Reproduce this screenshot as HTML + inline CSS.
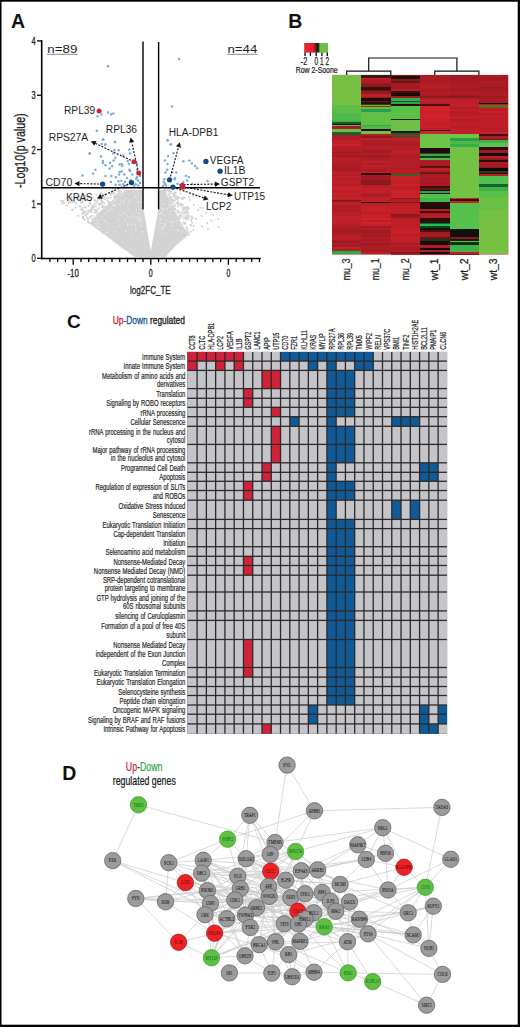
<!DOCTYPE html>
<html><head><meta charset="utf-8"><title>Figure</title>
<style>html,body{margin:0;padding:0;background:#fff;width:520px;height:1027px;overflow:hidden}</style></head>
<body>
<svg width="520" height="1027" viewBox="0 0 520 1027" style="display:block">
<rect x="0.00" y="0.00" width="520.00" height="1027.00" fill="#ffffff" />
<text x="11.00" y="27.80" font-size="19.5" font-weight="bold" fill="#111" text-anchor="start" font-family='"Liberation Sans", sans-serif' >A</text>
<polygon points="143,190 126,190 116,197 107,205 96,215 89.5,223.5 100,231.5 110,238.8 120,246.5 128,252 135,257.2 166,257.2 168,254 176.6,245 188.2,235 179.5,220 169.4,200 164,190 158.6,190 158.4,209 150.8,251 143.4,209" fill="#d3d3d3"/>
<rect x="113.94" y="194.85" width="1.80" height="1.80" fill="#d2d2d2" />
<rect x="95.87" y="201.87" width="1.80" height="1.80" fill="#d2d2d2" />
<rect x="86.52" y="213.03" width="1.80" height="1.80" fill="#d2d2d2" />
<rect x="106.18" y="197.19" width="1.80" height="1.80" fill="#d2d2d2" />
<rect x="91.52" y="215.04" width="1.80" height="1.80" fill="#d2d2d2" />
<rect x="84.55" y="197.85" width="1.80" height="1.80" fill="#d2d2d2" />
<rect x="104.33" y="193.12" width="1.80" height="1.80" fill="#d2d2d2" />
<rect x="70.53" y="196.84" width="1.80" height="1.80" fill="#d2d2d2" />
<rect x="74.63" y="206.61" width="1.80" height="1.80" fill="#d2d2d2" />
<rect x="99.95" y="192.51" width="1.80" height="1.80" fill="#d2d2d2" />
<rect x="86.41" y="212.15" width="1.80" height="1.80" fill="#d2d2d2" />
<rect x="100.08" y="203.05" width="1.80" height="1.80" fill="#d2d2d2" />
<rect x="79.74" y="205.68" width="1.80" height="1.80" fill="#d2d2d2" />
<rect x="87.07" y="218.25" width="1.80" height="1.80" fill="#d2d2d2" />
<rect x="85.86" y="216.45" width="1.80" height="1.80" fill="#d2d2d2" />
<rect x="104.19" y="194.26" width="1.80" height="1.80" fill="#d2d2d2" />
<rect x="76.31" y="197.15" width="1.80" height="1.80" fill="#d2d2d2" />
<rect x="75.15" y="202.52" width="1.80" height="1.80" fill="#d2d2d2" />
<rect x="110.55" y="192.59" width="1.80" height="1.80" fill="#d2d2d2" />
<rect x="108.32" y="201.09" width="1.80" height="1.80" fill="#d2d2d2" />
<rect x="100.62" y="198.87" width="1.80" height="1.80" fill="#d2d2d2" />
<rect x="90.46" y="207.97" width="1.80" height="1.80" fill="#d2d2d2" />
<rect x="85.06" y="210.74" width="1.80" height="1.80" fill="#d2d2d2" />
<rect x="84.69" y="214.36" width="1.80" height="1.80" fill="#d2d2d2" />
<rect x="101.54" y="204.39" width="1.80" height="1.80" fill="#d2d2d2" />
<rect x="81.65" y="201.94" width="1.80" height="1.80" fill="#d2d2d2" />
<rect x="81.96" y="200.60" width="1.80" height="1.80" fill="#d2d2d2" />
<rect x="77.31" y="195.76" width="1.80" height="1.80" fill="#d2d2d2" />
<rect x="71.95" y="208.78" width="1.80" height="1.80" fill="#d2d2d2" />
<rect x="83.48" y="197.99" width="1.80" height="1.80" fill="#d2d2d2" />
<rect x="100.95" y="201.23" width="1.80" height="1.80" fill="#d2d2d2" />
<rect x="87.23" y="209.43" width="1.80" height="1.80" fill="#d2d2d2" />
<rect x="100.08" y="199.32" width="1.80" height="1.80" fill="#d2d2d2" />
<rect x="77.31" y="214.83" width="1.80" height="1.80" fill="#d2d2d2" />
<rect x="87.39" y="220.32" width="1.80" height="1.80" fill="#d2d2d2" />
<rect x="77.01" y="195.68" width="1.80" height="1.80" fill="#d2d2d2" />
<rect x="104.22" y="198.45" width="1.80" height="1.80" fill="#d2d2d2" />
<rect x="89.16" y="202.72" width="1.80" height="1.80" fill="#d2d2d2" />
<rect x="91.67" y="196.09" width="1.80" height="1.80" fill="#d2d2d2" />
<rect x="73.01" y="200.89" width="1.80" height="1.80" fill="#d2d2d2" />
<rect x="109.78" y="196.61" width="1.80" height="1.80" fill="#d2d2d2" />
<rect x="94.76" y="209.36" width="1.80" height="1.80" fill="#d2d2d2" />
<rect x="112.40" y="191.74" width="1.80" height="1.80" fill="#d2d2d2" />
<rect x="80.41" y="208.96" width="1.80" height="1.80" fill="#d2d2d2" />
<rect x="72.65" y="200.58" width="1.80" height="1.80" fill="#d2d2d2" />
<rect x="101.58" y="205.84" width="1.80" height="1.80" fill="#d2d2d2" />
<rect x="61.14" y="202.56" width="1.80" height="1.80" fill="#d2d2d2" />
<rect x="103.11" y="206.23" width="1.80" height="1.80" fill="#d2d2d2" />
<rect x="78.50" y="199.02" width="1.80" height="1.80" fill="#d2d2d2" />
<rect x="118.37" y="190.01" width="1.80" height="1.80" fill="#d2d2d2" />
<rect x="102.42" y="201.46" width="1.80" height="1.80" fill="#d2d2d2" />
<rect x="95.28" y="194.34" width="1.80" height="1.80" fill="#d2d2d2" />
<rect x="95.12" y="205.46" width="1.80" height="1.80" fill="#d2d2d2" />
<rect x="74.08" y="197.13" width="1.80" height="1.80" fill="#d2d2d2" />
<rect x="90.72" y="211.47" width="1.80" height="1.80" fill="#d2d2d2" />
<rect x="98.06" y="207.37" width="1.80" height="1.80" fill="#d2d2d2" />
<rect x="89.93" y="209.82" width="1.80" height="1.80" fill="#d2d2d2" />
<rect x="70.64" y="198.80" width="1.80" height="1.80" fill="#d2d2d2" />
<rect x="103.23" y="196.42" width="1.80" height="1.80" fill="#d2d2d2" />
<rect x="87.60" y="196.13" width="1.80" height="1.80" fill="#d2d2d2" />
<rect x="88.81" y="215.67" width="1.80" height="1.80" fill="#d2d2d2" />
<rect x="81.78" y="198.87" width="1.80" height="1.80" fill="#d2d2d2" />
<rect x="62.78" y="201.94" width="1.80" height="1.80" fill="#d2d2d2" />
<rect x="82.41" y="209.16" width="1.80" height="1.80" fill="#d2d2d2" />
<rect x="98.17" y="203.35" width="1.80" height="1.80" fill="#d2d2d2" />
<rect x="103.60" y="202.61" width="1.80" height="1.80" fill="#d2d2d2" />
<rect x="71.28" y="200.89" width="1.80" height="1.80" fill="#d2d2d2" />
<rect x="113.57" y="195.08" width="1.80" height="1.80" fill="#d2d2d2" />
<rect x="115.04" y="195.36" width="1.80" height="1.80" fill="#d2d2d2" />
<rect x="112.11" y="190.52" width="1.80" height="1.80" fill="#d2d2d2" />
<rect x="111.86" y="192.52" width="1.80" height="1.80" fill="#d2d2d2" />
<rect x="92.60" y="206.40" width="1.80" height="1.80" fill="#d2d2d2" />
<rect x="69.99" y="201.59" width="1.80" height="1.80" fill="#d2d2d2" />
<rect x="78.57" y="195.78" width="1.80" height="1.80" fill="#d2d2d2" />
<rect x="94.39" y="199.87" width="1.80" height="1.80" fill="#d2d2d2" />
<rect x="105.18" y="193.33" width="1.80" height="1.80" fill="#d2d2d2" />
<rect x="84.56" y="194.57" width="1.80" height="1.80" fill="#d2d2d2" />
<rect x="119.62" y="192.74" width="1.80" height="1.80" fill="#d2d2d2" />
<rect x="67.44" y="202.03" width="1.80" height="1.80" fill="#d2d2d2" />
<rect x="110.03" y="193.96" width="1.80" height="1.80" fill="#d2d2d2" />
<rect x="99.50" y="202.67" width="1.80" height="1.80" fill="#d2d2d2" />
<rect x="98.17" y="203.75" width="1.80" height="1.80" fill="#d2d2d2" />
<rect x="83.46" y="205.67" width="1.80" height="1.80" fill="#d2d2d2" />
<rect x="62.26" y="200.11" width="1.80" height="1.80" fill="#d2d2d2" />
<rect x="98.99" y="194.27" width="1.80" height="1.80" fill="#d2d2d2" />
<rect x="107.81" y="202.26" width="1.80" height="1.80" fill="#d2d2d2" />
<rect x="82.47" y="216.05" width="1.80" height="1.80" fill="#d2d2d2" />
<rect x="97.01" y="197.74" width="1.80" height="1.80" fill="#d2d2d2" />
<rect x="83.69" y="196.98" width="1.80" height="1.80" fill="#d2d2d2" />
<rect x="81.38" y="198.62" width="1.80" height="1.80" fill="#d2d2d2" />
<rect x="80.74" y="207.75" width="1.80" height="1.80" fill="#d2d2d2" />
<rect x="98.57" y="198.12" width="1.80" height="1.80" fill="#d2d2d2" />
<rect x="93.91" y="202.94" width="1.80" height="1.80" fill="#d2d2d2" />
<rect x="106.74" y="200.10" width="1.80" height="1.80" fill="#d2d2d2" />
<rect x="89.20" y="209.55" width="1.80" height="1.80" fill="#d2d2d2" />
<rect x="93.72" y="209.62" width="1.80" height="1.80" fill="#d2d2d2" />
<rect x="116.71" y="193.67" width="1.80" height="1.80" fill="#d2d2d2" />
<rect x="88.78" y="200.16" width="1.80" height="1.80" fill="#d2d2d2" />
<rect x="101.98" y="197.20" width="1.80" height="1.80" fill="#d2d2d2" />
<rect x="68.46" y="201.38" width="1.80" height="1.80" fill="#d2d2d2" />
<rect x="113.07" y="196.66" width="1.80" height="1.80" fill="#d2d2d2" />
<rect x="82.20" y="211.30" width="1.80" height="1.80" fill="#d2d2d2" />
<rect x="93.89" y="199.05" width="1.80" height="1.80" fill="#d2d2d2" />
<rect x="100.83" y="199.93" width="1.80" height="1.80" fill="#d2d2d2" />
<rect x="87.24" y="205.24" width="1.80" height="1.80" fill="#d2d2d2" />
<rect x="116.54" y="194.99" width="1.80" height="1.80" fill="#d2d2d2" />
<rect x="86.00" y="195.93" width="1.80" height="1.80" fill="#d2d2d2" />
<rect x="100.80" y="194.33" width="1.80" height="1.80" fill="#d2d2d2" />
<rect x="82.28" y="216.74" width="1.80" height="1.80" fill="#d2d2d2" />
<rect x="113.87" y="192.40" width="1.80" height="1.80" fill="#d2d2d2" />
<rect x="67.94" y="199.80" width="1.80" height="1.80" fill="#d2d2d2" />
<rect x="77.58" y="195.85" width="1.80" height="1.80" fill="#d2d2d2" />
<rect x="96.05" y="210.27" width="1.80" height="1.80" fill="#d2d2d2" />
<rect x="82.12" y="217.23" width="1.80" height="1.80" fill="#d2d2d2" />
<rect x="78.45" y="204.97" width="1.80" height="1.80" fill="#d2d2d2" />
<rect x="89.18" y="216.94" width="1.80" height="1.80" fill="#d2d2d2" />
<rect x="98.24" y="207.69" width="1.80" height="1.80" fill="#d2d2d2" />
<rect x="85.08" y="206.65" width="1.80" height="1.80" fill="#d2d2d2" />
<rect x="91.39" y="208.22" width="1.80" height="1.80" fill="#d2d2d2" />
<rect x="91.71" y="218.00" width="1.80" height="1.80" fill="#d2d2d2" />
<rect x="103.64" y="194.68" width="1.80" height="1.80" fill="#d2d2d2" />
<rect x="109.05" y="193.01" width="1.80" height="1.80" fill="#d2d2d2" />
<rect x="87.88" y="221.83" width="1.80" height="1.80" fill="#d2d2d2" />
<rect x="82.31" y="206.86" width="1.80" height="1.80" fill="#d2d2d2" />
<rect x="100.88" y="192.35" width="1.80" height="1.80" fill="#d2d2d2" />
<rect x="87.47" y="195.73" width="1.80" height="1.80" fill="#d2d2d2" />
<rect x="93.27" y="205.04" width="1.80" height="1.80" fill="#d2d2d2" />
<rect x="117.50" y="190.21" width="1.80" height="1.80" fill="#d2d2d2" />
<rect x="92.37" y="206.45" width="1.80" height="1.80" fill="#d2d2d2" />
<rect x="103.59" y="205.77" width="1.80" height="1.80" fill="#d2d2d2" />
<rect x="102.91" y="196.41" width="1.80" height="1.80" fill="#d2d2d2" />
<rect x="91.07" y="215.13" width="1.80" height="1.80" fill="#d2d2d2" />
<rect x="82.89" y="212.21" width="1.80" height="1.80" fill="#d2d2d2" />
<rect x="60.04" y="199.95" width="1.80" height="1.80" fill="#d2d2d2" />
<rect x="96.39" y="199.83" width="1.80" height="1.80" fill="#d2d2d2" />
<rect x="95.72" y="211.78" width="1.80" height="1.80" fill="#d2d2d2" />
<rect x="118.40" y="192.21" width="1.80" height="1.80" fill="#d2d2d2" />
<rect x="91.50" y="208.18" width="1.80" height="1.80" fill="#d2d2d2" />
<rect x="91.14" y="206.54" width="1.80" height="1.80" fill="#d2d2d2" />
<rect x="74.70" y="201.29" width="1.80" height="1.80" fill="#d2d2d2" />
<rect x="79.96" y="201.49" width="1.80" height="1.80" fill="#d2d2d2" />
<rect x="101.75" y="193.37" width="1.80" height="1.80" fill="#d2d2d2" />
<rect x="90.11" y="210.32" width="1.80" height="1.80" fill="#d2d2d2" />
<rect x="66.07" y="204.63" width="1.80" height="1.80" fill="#d2d2d2" />
<rect x="83.67" y="218.89" width="1.80" height="1.80" fill="#d2d2d2" />
<rect x="88.27" y="211.03" width="1.80" height="1.80" fill="#d2d2d2" />
<rect x="81.57" y="215.55" width="1.80" height="1.80" fill="#d2d2d2" />
<rect x="84.15" y="213.88" width="1.80" height="1.80" fill="#d2d2d2" />
<rect x="73.11" y="199.37" width="1.80" height="1.80" fill="#d2d2d2" />
<rect x="89.67" y="203.28" width="1.80" height="1.80" fill="#d2d2d2" />
<rect x="70.95" y="208.88" width="1.80" height="1.80" fill="#d2d2d2" />
<rect x="107.42" y="197.59" width="1.80" height="1.80" fill="#d2d2d2" />
<rect x="85.56" y="198.95" width="1.80" height="1.80" fill="#d2d2d2" />
<rect x="83.16" y="210.66" width="1.80" height="1.80" fill="#d2d2d2" />
<rect x="117.06" y="193.01" width="1.80" height="1.80" fill="#d2d2d2" />
<rect x="82.69" y="217.54" width="1.80" height="1.80" fill="#d2d2d2" />
<rect x="79.26" y="199.91" width="1.80" height="1.80" fill="#d2d2d2" />
<rect x="95.72" y="208.78" width="1.80" height="1.80" fill="#d2d2d2" />
<rect x="81.10" y="212.90" width="1.80" height="1.80" fill="#d2d2d2" />
<rect x="87.00" y="220.94" width="1.80" height="1.80" fill="#d2d2d2" />
<rect x="94.01" y="211.81" width="1.80" height="1.80" fill="#d2d2d2" />
<rect x="83.80" y="197.34" width="1.80" height="1.80" fill="#d2d2d2" />
<rect x="101.55" y="206.23" width="1.80" height="1.80" fill="#d2d2d2" />
<rect x="114.04" y="195.68" width="1.80" height="1.80" fill="#d2d2d2" />
<rect x="67.84" y="198.91" width="1.80" height="1.80" fill="#d2d2d2" />
<rect x="91.43" y="205.23" width="1.80" height="1.80" fill="#d2d2d2" />
<rect x="119.92" y="190.54" width="1.80" height="1.80" fill="#d2d2d2" />
<rect x="89.24" y="201.92" width="1.80" height="1.80" fill="#d2d2d2" />
<rect x="172.42" y="200.17" width="1.80" height="1.80" fill="#d2d2d2" />
<rect x="183.95" y="211.43" width="1.80" height="1.80" fill="#d2d2d2" />
<rect x="169.80" y="196.34" width="1.80" height="1.80" fill="#d2d2d2" />
<rect x="167.74" y="189.34" width="1.80" height="1.80" fill="#d2d2d2" />
<rect x="176.56" y="209.56" width="1.80" height="1.80" fill="#d2d2d2" />
<rect x="168.53" y="190.98" width="1.80" height="1.80" fill="#d2d2d2" />
<rect x="176.07" y="202.12" width="1.80" height="1.80" fill="#d2d2d2" />
<rect x="170.61" y="190.83" width="1.80" height="1.80" fill="#d2d2d2" />
<rect x="164.59" y="189.07" width="1.80" height="1.80" fill="#d2d2d2" />
<rect x="188.12" y="233.72" width="1.80" height="1.80" fill="#d2d2d2" />
<rect x="180.11" y="202.71" width="1.80" height="1.80" fill="#d2d2d2" />
<rect x="174.42" y="204.77" width="1.80" height="1.80" fill="#d2d2d2" />
<rect x="182.31" y="221.61" width="1.80" height="1.80" fill="#d2d2d2" />
<rect x="186.00" y="210.89" width="1.80" height="1.80" fill="#d2d2d2" />
<rect x="178.02" y="203.62" width="1.80" height="1.80" fill="#d2d2d2" />
<rect x="169.18" y="192.84" width="1.80" height="1.80" fill="#d2d2d2" />
<rect x="184.44" y="211.22" width="1.80" height="1.80" fill="#d2d2d2" />
<rect x="178.26" y="215.09" width="1.80" height="1.80" fill="#d2d2d2" />
<rect x="187.31" y="207.20" width="1.80" height="1.80" fill="#d2d2d2" />
<rect x="170.67" y="200.32" width="1.80" height="1.80" fill="#d2d2d2" />
<rect x="173.96" y="192.99" width="1.80" height="1.80" fill="#d2d2d2" />
<rect x="176.46" y="196.27" width="1.80" height="1.80" fill="#d2d2d2" />
<rect x="180.54" y="204.21" width="1.80" height="1.80" fill="#d2d2d2" />
<rect x="181.04" y="211.81" width="1.80" height="1.80" fill="#d2d2d2" />
<rect x="191.34" y="221.86" width="1.80" height="1.80" fill="#d2d2d2" />
<rect x="164.33" y="189.37" width="1.80" height="1.80" fill="#d2d2d2" />
<rect x="189.87" y="230.79" width="1.80" height="1.80" fill="#d2d2d2" />
<rect x="167.81" y="193.59" width="1.80" height="1.80" fill="#d2d2d2" />
<rect x="173.52" y="202.75" width="1.80" height="1.80" fill="#d2d2d2" />
<rect x="178.06" y="216.02" width="1.80" height="1.80" fill="#d2d2d2" />
<rect x="176.79" y="202.83" width="1.80" height="1.80" fill="#d2d2d2" />
<rect x="187.37" y="212.01" width="1.80" height="1.80" fill="#d2d2d2" />
<rect x="164.60" y="190.80" width="1.80" height="1.80" fill="#d2d2d2" />
<rect x="167.44" y="193.99" width="1.80" height="1.80" fill="#d2d2d2" />
<rect x="181.72" y="207.06" width="1.80" height="1.80" fill="#d2d2d2" />
<rect x="182.14" y="203.85" width="1.80" height="1.80" fill="#d2d2d2" />
<rect x="177.79" y="202.23" width="1.80" height="1.80" fill="#d2d2d2" />
<rect x="183.88" y="207.72" width="1.80" height="1.80" fill="#d2d2d2" />
<rect x="179.50" y="192.56" width="1.80" height="1.80" fill="#d2d2d2" />
<rect x="168.86" y="195.84" width="1.80" height="1.80" fill="#d2d2d2" />
<rect x="187.47" y="206.55" width="1.80" height="1.80" fill="#d2d2d2" />
<rect x="167.46" y="189.15" width="1.80" height="1.80" fill="#d2d2d2" />
<rect x="172.37" y="206.49" width="1.80" height="1.80" fill="#d2d2d2" />
<rect x="190.44" y="224.61" width="1.80" height="1.80" fill="#d2d2d2" />
<rect x="192.89" y="225.46" width="1.80" height="1.80" fill="#d2d2d2" />
<rect x="177.35" y="196.56" width="1.80" height="1.80" fill="#d2d2d2" />
<rect x="174.27" y="199.40" width="1.80" height="1.80" fill="#d2d2d2" />
<rect x="169.23" y="190.22" width="1.80" height="1.80" fill="#d2d2d2" />
<rect x="172.84" y="195.79" width="1.80" height="1.80" fill="#d2d2d2" />
<rect x="178.08" y="196.93" width="1.80" height="1.80" fill="#d2d2d2" />
<rect x="170.58" y="200.92" width="1.80" height="1.80" fill="#d2d2d2" />
<rect x="171.13" y="198.77" width="1.80" height="1.80" fill="#d2d2d2" />
<rect x="189.80" y="224.18" width="1.80" height="1.80" fill="#d2d2d2" />
<rect x="189.37" y="215.29" width="1.80" height="1.80" fill="#d2d2d2" />
<rect x="192.34" y="229.29" width="1.80" height="1.80" fill="#d2d2d2" />
<rect x="167.39" y="189.14" width="1.80" height="1.80" fill="#d2d2d2" />
<rect x="164.78" y="191.90" width="1.80" height="1.80" fill="#d2d2d2" />
<rect x="169.16" y="198.91" width="1.80" height="1.80" fill="#d2d2d2" />
<rect x="191.73" y="217.33" width="1.80" height="1.80" fill="#d2d2d2" />
<rect x="172.68" y="194.61" width="1.80" height="1.80" fill="#d2d2d2" />
<rect x="167.21" y="189.93" width="1.80" height="1.80" fill="#d2d2d2" />
<rect x="180.33" y="204.91" width="1.80" height="1.80" fill="#d2d2d2" />
<rect x="186.34" y="212.31" width="1.80" height="1.80" fill="#d2d2d2" />
<rect x="185.77" y="206.95" width="1.80" height="1.80" fill="#d2d2d2" />
<rect x="174.68" y="191.68" width="1.80" height="1.80" fill="#d2d2d2" />
<rect x="183.29" y="213.33" width="1.80" height="1.80" fill="#d2d2d2" />
<rect x="171.96" y="192.77" width="1.80" height="1.80" fill="#d2d2d2" />
<rect x="176.29" y="198.46" width="1.80" height="1.80" fill="#d2d2d2" />
<rect x="178.97" y="189.42" width="1.80" height="1.80" fill="#d2d2d2" />
<rect x="185.83" y="209.42" width="1.80" height="1.80" fill="#d2d2d2" />
<rect x="187.74" y="207.99" width="1.80" height="1.80" fill="#d2d2d2" />
<rect x="168.15" y="190.07" width="1.80" height="1.80" fill="#d2d2d2" />
<rect x="182.74" y="217.78" width="1.80" height="1.80" fill="#d2d2d2" />
<rect x="186.89" y="228.61" width="1.80" height="1.80" fill="#d2d2d2" />
<rect x="179.41" y="214.18" width="1.80" height="1.80" fill="#d2d2d2" />
<rect x="173.97" y="207.67" width="1.80" height="1.80" fill="#d2d2d2" />
<rect x="185.79" y="215.18" width="1.80" height="1.80" fill="#d2d2d2" />
<rect x="173.80" y="208.55" width="1.80" height="1.80" fill="#d2d2d2" />
<rect x="183.55" y="211.60" width="1.80" height="1.80" fill="#d2d2d2" />
<rect x="179.08" y="216.77" width="1.80" height="1.80" fill="#d2d2d2" />
<rect x="179.99" y="204.56" width="1.80" height="1.80" fill="#d2d2d2" />
<rect x="179.96" y="213.76" width="1.80" height="1.80" fill="#d2d2d2" />
<rect x="187.50" y="216.49" width="1.80" height="1.80" fill="#d2d2d2" />
<rect x="184.49" y="222.66" width="1.80" height="1.80" fill="#d2d2d2" />
<rect x="178.47" y="217.60" width="1.80" height="1.80" fill="#d2d2d2" />
<rect x="191.04" y="217.96" width="1.80" height="1.80" fill="#d2d2d2" />
<rect x="169.57" y="196.30" width="1.80" height="1.80" fill="#d2d2d2" />
<rect x="173.56" y="208.24" width="1.80" height="1.80" fill="#d2d2d2" />
<rect x="191.32" y="216.35" width="1.80" height="1.80" fill="#d2d2d2" />
<rect x="187.05" y="231.67" width="1.80" height="1.80" fill="#d2d2d2" />
<rect x="179.00" y="216.82" width="1.80" height="1.80" fill="#d2d2d2" />
<rect x="185.53" y="214.48" width="1.80" height="1.80" fill="#d2d2d2" />
<rect x="170.80" y="202.13" width="1.80" height="1.80" fill="#d2d2d2" />
<rect x="171.91" y="199.15" width="1.80" height="1.80" fill="#d2d2d2" />
<rect x="178.57" y="211.48" width="1.80" height="1.80" fill="#d2d2d2" />
<rect x="183.06" y="207.04" width="1.80" height="1.80" fill="#d2d2d2" />
<rect x="172.43" y="192.82" width="1.80" height="1.80" fill="#d2d2d2" />
<rect x="174.02" y="208.55" width="1.80" height="1.80" fill="#d2d2d2" />
<rect x="183.09" y="209.37" width="1.80" height="1.80" fill="#d2d2d2" />
<rect x="187.32" y="218.07" width="1.80" height="1.80" fill="#d2d2d2" />
<rect x="190.17" y="219.77" width="1.80" height="1.80" fill="#d2d2d2" />
<rect x="177.25" y="205.47" width="1.80" height="1.80" fill="#d2d2d2" />
<rect x="167.70" y="197.14" width="1.80" height="1.80" fill="#d2d2d2" />
<rect x="183.25" y="222.93" width="1.80" height="1.80" fill="#d2d2d2" />
<rect x="186.57" y="230.54" width="1.80" height="1.80" fill="#d2d2d2" />
<rect x="185.93" y="206.73" width="1.80" height="1.80" fill="#d2d2d2" />
<rect x="174.26" y="191.90" width="1.80" height="1.80" fill="#d2d2d2" />
<rect x="181.40" y="215.58" width="1.80" height="1.80" fill="#d2d2d2" />
<rect x="181.03" y="197.04" width="1.80" height="1.80" fill="#d2d2d2" />
<rect x="185.00" y="229.63" width="1.80" height="1.80" fill="#d2d2d2" />
<rect x="177.64" y="210.49" width="1.80" height="1.80" fill="#d2d2d2" />
<rect x="177.04" y="200.67" width="1.80" height="1.80" fill="#d2d2d2" />
<rect x="163.20" y="189.52" width="1.80" height="1.80" fill="#d2d2d2" />
<rect x="187.36" y="214.69" width="1.80" height="1.80" fill="#d2d2d2" />
<rect x="185.46" y="217.02" width="1.80" height="1.80" fill="#d2d2d2" />
<rect x="172.68" y="195.01" width="1.80" height="1.80" fill="#d2d2d2" />
<rect x="181.81" y="198.30" width="1.80" height="1.80" fill="#d2d2d2" />
<rect x="184.04" y="216.48" width="1.80" height="1.80" fill="#d2d2d2" />
<rect x="169.82" y="197.54" width="1.80" height="1.80" fill="#d2d2d2" />
<rect x="175.77" y="197.51" width="1.80" height="1.80" fill="#d2d2d2" />
<rect x="174.82" y="194.95" width="1.80" height="1.80" fill="#d2d2d2" />
<rect x="185.02" y="207.60" width="1.80" height="1.80" fill="#d2d2d2" />
<rect x="173.69" y="208.28" width="1.80" height="1.80" fill="#d2d2d2" />
<rect x="184.19" y="221.76" width="1.80" height="1.80" fill="#d2d2d2" />
<rect x="173.10" y="204.98" width="1.80" height="1.80" fill="#d2d2d2" />
<rect x="185.62" y="226.77" width="1.80" height="1.80" fill="#d2d2d2" />
<rect x="182.41" y="196.84" width="1.80" height="1.80" fill="#d2d2d2" />
<rect x="184.71" y="206.29" width="1.80" height="1.80" fill="#d2d2d2" />
<rect x="174.32" y="197.21" width="1.80" height="1.80" fill="#d2d2d2" />
<rect x="176.71" y="212.06" width="1.80" height="1.80" fill="#d2d2d2" />
<rect x="185.33" y="218.56" width="1.80" height="1.80" fill="#d2d2d2" />
<rect x="172.23" y="204.92" width="1.80" height="1.80" fill="#d2d2d2" />
<rect x="181.84" y="209.50" width="1.80" height="1.80" fill="#d2d2d2" />
<rect x="193.10" y="204.10" width="1.80" height="1.80" fill="#d2d2d2" />
<rect x="201.10" y="215.10" width="1.80" height="1.80" fill="#d2d2d2" />
<rect x="210.60" y="219.70" width="1.80" height="1.80" fill="#d2d2d2" />
<rect x="217.10" y="218.10" width="1.80" height="1.80" fill="#d2d2d2" />
<rect x="201.10" y="225.50" width="1.80" height="1.80" fill="#d2d2d2" />
<rect x="197.10" y="209.10" width="1.80" height="1.80" fill="#d2d2d2" />
<rect x="205.10" y="212.10" width="1.80" height="1.80" fill="#d2d2d2" />
<rect x="189.10" y="199.10" width="1.80" height="1.80" fill="#d2d2d2" />
<rect x="195.10" y="218.10" width="1.80" height="1.80" fill="#d2d2d2" />
<rect x="188.10" y="196.10" width="1.80" height="1.80" fill="#d2d2d2" />
<rect x="192.10" y="195.10" width="1.80" height="1.80" fill="#d2d2d2" />
<rect x="199.10" y="207.10" width="1.80" height="1.80" fill="#d2d2d2" />
<rect x="206.10" y="222.10" width="1.80" height="1.80" fill="#d2d2d2" />
<rect x="212.10" y="214.10" width="1.80" height="1.80" fill="#d2d2d2" />
<rect x="184.10" y="197.10" width="1.80" height="1.80" fill="#d2d2d2" />
<rect x="201.70" y="207.10" width="1.80" height="1.80" fill="#d2d2d2" />
<rect x="217.60" y="226.10" width="1.80" height="1.80" fill="#d2d2d2" />
<rect x="207.10" y="228.10" width="1.80" height="1.80" fill="#d2d2d2" />
<rect x="126.23" y="214.26" width="1.20" height="1.20" fill="#eeeeee" />
<rect x="128.58" y="201.19" width="1.20" height="1.20" fill="#eeeeee" />
<rect x="101.19" y="229.64" width="1.20" height="1.20" fill="#eeeeee" />
<rect x="125.65" y="230.22" width="1.20" height="1.20" fill="#eeeeee" />
<rect x="104.36" y="220.27" width="1.20" height="1.20" fill="#eeeeee" />
<rect x="133.10" y="216.44" width="1.20" height="1.20" fill="#eeeeee" />
<rect x="138.72" y="201.76" width="1.20" height="1.20" fill="#eeeeee" />
<rect x="98.62" y="230.09" width="1.20" height="1.20" fill="#eeeeee" />
<rect x="136.30" y="217.27" width="1.20" height="1.20" fill="#eeeeee" />
<rect x="137.36" y="201.74" width="1.20" height="1.20" fill="#eeeeee" />
<rect x="118.04" y="219.78" width="1.20" height="1.20" fill="#eeeeee" />
<rect x="109.16" y="209.87" width="1.20" height="1.20" fill="#eeeeee" />
<rect x="111.13" y="208.60" width="1.20" height="1.20" fill="#eeeeee" />
<rect x="105.14" y="220.45" width="1.20" height="1.20" fill="#eeeeee" />
<rect x="124.84" y="197.71" width="1.20" height="1.20" fill="#eeeeee" />
<rect x="129.30" y="217.18" width="1.20" height="1.20" fill="#eeeeee" />
<rect x="114.46" y="204.45" width="1.20" height="1.20" fill="#eeeeee" />
<rect x="107.46" y="225.10" width="1.20" height="1.20" fill="#eeeeee" />
<rect x="140.38" y="196.40" width="1.20" height="1.20" fill="#eeeeee" />
<rect x="113.22" y="204.40" width="1.20" height="1.20" fill="#eeeeee" />
<rect x="124.86" y="219.97" width="1.20" height="1.20" fill="#eeeeee" />
<rect x="135.00" y="228.54" width="1.20" height="1.20" fill="#eeeeee" />
<rect x="121.71" y="213.69" width="1.20" height="1.20" fill="#eeeeee" />
<rect x="107.68" y="231.69" width="1.20" height="1.20" fill="#eeeeee" />
<rect x="95.15" y="216.17" width="1.20" height="1.20" fill="#eeeeee" />
<rect x="106.18" y="231.97" width="1.20" height="1.20" fill="#eeeeee" />
<rect x="113.99" y="231.04" width="1.20" height="1.20" fill="#eeeeee" />
<rect x="95.34" y="223.04" width="1.20" height="1.20" fill="#eeeeee" />
<rect x="127.54" y="204.58" width="1.20" height="1.20" fill="#eeeeee" />
<rect x="127.37" y="223.53" width="1.20" height="1.20" fill="#eeeeee" />
<rect x="118.34" y="203.80" width="1.20" height="1.20" fill="#eeeeee" />
<rect x="114.38" y="199.95" width="1.20" height="1.20" fill="#eeeeee" />
<rect x="120.10" y="201.12" width="1.20" height="1.20" fill="#eeeeee" />
<rect x="116.07" y="198.59" width="1.20" height="1.20" fill="#eeeeee" />
<rect x="118.29" y="225.19" width="1.20" height="1.20" fill="#eeeeee" />
<rect x="104.73" y="212.92" width="1.20" height="1.20" fill="#eeeeee" />
<rect x="138.68" y="216.46" width="1.20" height="1.20" fill="#eeeeee" />
<rect x="112.20" y="204.78" width="1.20" height="1.20" fill="#eeeeee" />
<rect x="114.72" y="205.29" width="1.20" height="1.20" fill="#eeeeee" />
<rect x="98.97" y="226.41" width="1.20" height="1.20" fill="#eeeeee" />
<rect x="134.91" y="224.21" width="1.20" height="1.20" fill="#eeeeee" />
<rect x="138.27" y="218.47" width="1.20" height="1.20" fill="#eeeeee" />
<rect x="127.18" y="216.27" width="1.20" height="1.20" fill="#eeeeee" />
<rect x="104.28" y="233.31" width="1.20" height="1.20" fill="#eeeeee" />
<rect x="131.87" y="215.49" width="1.20" height="1.20" fill="#eeeeee" />
<rect x="137.40" y="192.90" width="1.20" height="1.20" fill="#eeeeee" />
<rect x="139.76" y="218.44" width="1.20" height="1.20" fill="#eeeeee" />
<rect x="126.87" y="225.10" width="1.20" height="1.20" fill="#eeeeee" />
<rect x="122.76" y="199.91" width="1.20" height="1.20" fill="#eeeeee" />
<rect x="114.06" y="205.46" width="1.20" height="1.20" fill="#eeeeee" />
<rect x="111.57" y="201.34" width="1.20" height="1.20" fill="#eeeeee" />
<rect x="98.05" y="226.54" width="1.20" height="1.20" fill="#eeeeee" />
<rect x="123.18" y="212.26" width="1.20" height="1.20" fill="#eeeeee" />
<rect x="141.56" y="231.68" width="1.20" height="1.20" fill="#eeeeee" />
<rect x="140.58" y="220.03" width="1.20" height="1.20" fill="#eeeeee" />
<rect x="106.60" y="222.53" width="1.20" height="1.20" fill="#eeeeee" />
<rect x="119.32" y="214.86" width="1.20" height="1.20" fill="#eeeeee" />
<rect x="121.69" y="193.60" width="1.20" height="1.20" fill="#eeeeee" />
<rect x="105.02" y="208.00" width="1.20" height="1.20" fill="#eeeeee" />
<rect x="119.70" y="195.31" width="1.20" height="1.20" fill="#eeeeee" />
<rect x="101.35" y="216.23" width="1.20" height="1.20" fill="#eeeeee" />
<rect x="138.19" y="212.96" width="1.20" height="1.20" fill="#eeeeee" />
<rect x="134.09" y="195.79" width="1.20" height="1.20" fill="#eeeeee" />
<rect x="123.41" y="201.67" width="1.20" height="1.20" fill="#eeeeee" />
<rect x="135.22" y="196.44" width="1.20" height="1.20" fill="#eeeeee" />
<rect x="130.95" y="224.02" width="1.20" height="1.20" fill="#eeeeee" />
<rect x="141.50" y="231.01" width="1.20" height="1.20" fill="#eeeeee" />
<rect x="97.80" y="223.38" width="1.20" height="1.20" fill="#eeeeee" />
<rect x="140.02" y="225.06" width="1.20" height="1.20" fill="#eeeeee" />
<rect x="95.99" y="225.86" width="1.20" height="1.20" fill="#eeeeee" />
<rect x="139.32" y="209.37" width="1.20" height="1.20" fill="#eeeeee" />
<rect x="135.81" y="209.05" width="1.20" height="1.20" fill="#eeeeee" />
<rect x="129.32" y="199.46" width="1.20" height="1.20" fill="#eeeeee" />
<rect x="132.19" y="233.61" width="1.20" height="1.20" fill="#eeeeee" />
<rect x="107.28" y="210.66" width="1.20" height="1.20" fill="#eeeeee" />
<rect x="128.70" y="208.76" width="1.20" height="1.20" fill="#eeeeee" />
<rect x="122.51" y="193.31" width="1.20" height="1.20" fill="#eeeeee" />
<rect x="138.13" y="220.47" width="1.20" height="1.20" fill="#eeeeee" />
<rect x="96.67" y="219.84" width="1.20" height="1.20" fill="#eeeeee" />
<rect x="161.01" y="229.24" width="1.20" height="1.20" fill="#eeeeee" />
<rect x="168.81" y="204.52" width="1.20" height="1.20" fill="#eeeeee" />
<rect x="159.71" y="222.54" width="1.20" height="1.20" fill="#eeeeee" />
<rect x="172.81" y="221.84" width="1.20" height="1.20" fill="#eeeeee" />
<rect x="160.92" y="207.25" width="1.20" height="1.20" fill="#eeeeee" />
<rect x="169.68" y="213.61" width="1.20" height="1.20" fill="#eeeeee" />
<rect x="171.38" y="222.14" width="1.20" height="1.20" fill="#eeeeee" />
<rect x="170.10" y="211.15" width="1.20" height="1.20" fill="#eeeeee" />
<rect x="163.06" y="208.22" width="1.20" height="1.20" fill="#eeeeee" />
<rect x="164.40" y="209.34" width="1.20" height="1.20" fill="#eeeeee" />
<rect x="164.31" y="223.49" width="1.20" height="1.20" fill="#eeeeee" />
<rect x="161.93" y="227.04" width="1.20" height="1.20" fill="#eeeeee" />
<rect x="163.07" y="214.98" width="1.20" height="1.20" fill="#eeeeee" />
<rect x="159.38" y="212.90" width="1.20" height="1.20" fill="#eeeeee" />
<rect x="171.15" y="225.07" width="1.20" height="1.20" fill="#eeeeee" />
<rect x="163.30" y="223.38" width="1.20" height="1.20" fill="#eeeeee" />
<rect x="160.42" y="213.21" width="1.20" height="1.20" fill="#eeeeee" />
<rect x="169.35" y="206.79" width="1.20" height="1.20" fill="#eeeeee" />
<rect x="170.95" y="205.18" width="1.20" height="1.20" fill="#eeeeee" />
<rect x="176.74" y="219.83" width="1.20" height="1.20" fill="#eeeeee" />
<rect x="158.48" y="209.10" width="1.20" height="1.20" fill="#eeeeee" />
<rect x="166.18" y="219.28" width="1.20" height="1.20" fill="#eeeeee" />
<rect x="180.01" y="224.75" width="1.20" height="1.20" fill="#eeeeee" />
<rect x="181.80" y="231.11" width="1.20" height="1.20" fill="#eeeeee" />
<rect x="176.85" y="229.21" width="1.20" height="1.20" fill="#eeeeee" />
<rect x="161.57" y="212.15" width="1.20" height="1.20" fill="#eeeeee" />
<rect x="162.41" y="203.41" width="1.20" height="1.20" fill="#eeeeee" />
<rect x="163.10" y="227.44" width="1.20" height="1.20" fill="#eeeeee" />
<rect x="173.70" y="229.16" width="1.20" height="1.20" fill="#eeeeee" />
<rect x="168.21" y="203.49" width="1.20" height="1.20" fill="#eeeeee" />
<rect x="163.39" y="226.30" width="1.20" height="1.20" fill="#eeeeee" />
<rect x="166.75" y="208.34" width="1.20" height="1.20" fill="#eeeeee" />
<rect x="159.43" y="217.66" width="1.20" height="1.20" fill="#eeeeee" />
<rect x="160.91" y="212.37" width="1.20" height="1.20" fill="#eeeeee" />
<rect x="164.78" y="224.66" width="1.20" height="1.20" fill="#eeeeee" />
<rect x="173.16" y="210.31" width="1.20" height="1.20" fill="#eeeeee" />
<rect x="178.11" y="230.22" width="1.20" height="1.20" fill="#eeeeee" />
<rect x="169.24" y="221.09" width="1.20" height="1.20" fill="#eeeeee" />
<rect x="162.35" y="232.22" width="1.20" height="1.20" fill="#eeeeee" />
<rect x="160.44" y="219.03" width="1.20" height="1.20" fill="#eeeeee" />
<rect x="161.75" y="207.91" width="1.20" height="1.20" fill="#eeeeee" />
<line x1="41.70" y1="40.20" x2="41.70" y2="259.30" stroke="#000" stroke-width="1.6" />
<line x1="40.90" y1="258.50" x2="260.80" y2="258.50" stroke="#000" stroke-width="1.6" />
<line x1="37.00" y1="258.30" x2="41.70" y2="258.30" stroke="#000" stroke-width="1.3" />
<text transform="translate(35.60,262.20) scale(0.6743467266085981,1)" font-size="11.2" font-weight="normal" fill="#222" text-anchor="end" font-family='"Liberation Sans", sans-serif'  stroke="#222" stroke-width="0.3">0</text>
<line x1="37.00" y1="203.95" x2="41.70" y2="203.95" stroke="#000" stroke-width="1.3" />
<text transform="translate(35.60,207.85) scale(0.6743467266085981,1)" font-size="11.2" font-weight="normal" fill="#222" text-anchor="end" font-family='"Liberation Sans", sans-serif'  stroke="#222" stroke-width="0.3">1</text>
<line x1="37.00" y1="149.60" x2="41.70" y2="149.60" stroke="#000" stroke-width="1.3" />
<text transform="translate(35.60,153.50) scale(0.6743467266085981,1)" font-size="11.2" font-weight="normal" fill="#222" text-anchor="end" font-family='"Liberation Sans", sans-serif'  stroke="#222" stroke-width="0.3">2</text>
<line x1="37.00" y1="95.25" x2="41.70" y2="95.25" stroke="#000" stroke-width="1.3" />
<text transform="translate(35.60,99.15) scale(0.6743467266085981,1)" font-size="11.2" font-weight="normal" fill="#222" text-anchor="end" font-family='"Liberation Sans", sans-serif'  stroke="#222" stroke-width="0.3">3</text>
<line x1="37.00" y1="40.90" x2="41.70" y2="40.90" stroke="#000" stroke-width="1.3" />
<text transform="translate(35.60,44.80) scale(0.6743467266085981,1)" font-size="11.2" font-weight="normal" fill="#222" text-anchor="end" font-family='"Liberation Sans", sans-serif'  stroke="#222" stroke-width="0.3">4</text>
<line x1="49.92" y1="258.50" x2="49.92" y2="262.00" stroke="#000" stroke-width="1.3" />
<line x1="57.68" y1="258.50" x2="57.68" y2="262.00" stroke="#000" stroke-width="1.3" />
<line x1="65.44" y1="258.50" x2="65.44" y2="262.00" stroke="#000" stroke-width="1.3" />
<line x1="73.20" y1="258.50" x2="73.20" y2="264.80" stroke="#000" stroke-width="1.3" />
<line x1="80.96" y1="258.50" x2="80.96" y2="262.00" stroke="#000" stroke-width="1.3" />
<line x1="88.72" y1="258.50" x2="88.72" y2="262.00" stroke="#000" stroke-width="1.3" />
<line x1="96.48" y1="258.50" x2="96.48" y2="262.00" stroke="#000" stroke-width="1.3" />
<line x1="104.24" y1="258.50" x2="104.24" y2="262.00" stroke="#000" stroke-width="1.3" />
<line x1="112.00" y1="258.50" x2="112.00" y2="262.00" stroke="#000" stroke-width="1.3" />
<line x1="119.76" y1="258.50" x2="119.76" y2="262.00" stroke="#000" stroke-width="1.3" />
<line x1="127.52" y1="258.50" x2="127.52" y2="262.00" stroke="#000" stroke-width="1.3" />
<line x1="135.28" y1="258.50" x2="135.28" y2="262.00" stroke="#000" stroke-width="1.3" />
<line x1="143.04" y1="258.50" x2="143.04" y2="262.00" stroke="#000" stroke-width="1.3" />
<line x1="150.80" y1="258.50" x2="150.80" y2="264.80" stroke="#000" stroke-width="1.3" />
<line x1="158.56" y1="258.50" x2="158.56" y2="262.00" stroke="#000" stroke-width="1.3" />
<line x1="166.32" y1="258.50" x2="166.32" y2="262.00" stroke="#000" stroke-width="1.3" />
<line x1="174.08" y1="258.50" x2="174.08" y2="262.00" stroke="#000" stroke-width="1.3" />
<line x1="181.84" y1="258.50" x2="181.84" y2="262.00" stroke="#000" stroke-width="1.3" />
<line x1="189.60" y1="258.50" x2="189.60" y2="262.00" stroke="#000" stroke-width="1.3" />
<line x1="197.36" y1="258.50" x2="197.36" y2="262.00" stroke="#000" stroke-width="1.3" />
<line x1="205.12" y1="258.50" x2="205.12" y2="262.00" stroke="#000" stroke-width="1.3" />
<line x1="212.88" y1="258.50" x2="212.88" y2="262.00" stroke="#000" stroke-width="1.3" />
<line x1="220.64" y1="258.50" x2="220.64" y2="262.00" stroke="#000" stroke-width="1.3" />
<line x1="228.40" y1="258.50" x2="228.40" y2="264.80" stroke="#000" stroke-width="1.3" />
<line x1="236.16" y1="258.50" x2="236.16" y2="262.00" stroke="#000" stroke-width="1.3" />
<line x1="243.92" y1="258.50" x2="243.92" y2="262.00" stroke="#000" stroke-width="1.3" />
<line x1="251.68" y1="258.50" x2="251.68" y2="262.00" stroke="#000" stroke-width="1.3" />
<line x1="259.44" y1="258.50" x2="259.44" y2="262.00" stroke="#000" stroke-width="1.3" />
<text transform="translate(73.20,277.20) scale(0.7234197308799969,1)" font-size="11.0" font-weight="normal" fill="#222" text-anchor="middle" font-family='"Liberation Sans", sans-serif'  stroke="#222" stroke-width="0.3">-10</text>
<text transform="translate(150.80,277.20) scale(0.6375641778844926,1)" font-size="11.0" font-weight="normal" fill="#222" text-anchor="middle" font-family='"Liberation Sans", sans-serif'  stroke="#222" stroke-width="0.3">0</text>
<text transform="translate(228.40,277.20) scale(0.6375641778844926,1)" font-size="11.0" font-weight="normal" fill="#222" text-anchor="middle" font-family='"Liberation Sans", sans-serif'  stroke="#222" stroke-width="0.3">0</text>
<text transform="translate(130.00,294.20) scale(0.683684418059197,1)" font-size="11.8" font-weight="normal" fill="#222" text-anchor="start" font-family='"Liberation Sans", sans-serif'  stroke="#222" stroke-width="0.3">log2FC_TE</text>
<text transform="translate(25.3,150.7) rotate(-90) scale(0.731,1)" font-size="14.6" fill="#222" stroke="#222" stroke-width="0.3" text-anchor="middle" font-family='"Liberation Sans", sans-serif'>-Log10(p value)</text>
<text transform="translate(47.30,52.60) scale(1.1722681660794374,1)" font-size="11.4" font-weight="normal" fill="#222" text-anchor="start" font-family='"Liberation Sans", sans-serif' >n=89</text>
<line x1="47.00" y1="54.30" x2="77.60" y2="54.30" stroke="#8a8a8a" stroke-width="1.0" />
<text transform="translate(227.50,52.80) scale(1.1605844302048913,1)" font-size="11.4" font-weight="normal" fill="#222" text-anchor="start" font-family='"Liberation Sans", sans-serif' >n=44</text>
<line x1="227.20" y1="54.30" x2="257.50" y2="54.30" stroke="#8a8a8a" stroke-width="1.0" />
<line x1="143.00" y1="41.50" x2="143.00" y2="209.50" stroke="#000" stroke-width="1.4" />
<line x1="158.60" y1="42.00" x2="158.60" y2="209.50" stroke="#000" stroke-width="1.4" />
<line x1="42.00" y1="187.80" x2="260.00" y2="187.80" stroke="#000" stroke-width="1.4" />
<circle cx="108.00" cy="66.20" r="1.25" fill="#7eaadb" />
<circle cx="179.00" cy="59.00" r="1.25" fill="#7eaadb" />
<circle cx="171.90" cy="106.60" r="1.25" fill="#7eaadb" />
<circle cx="108.00" cy="112.50" r="1.25" fill="#7eaadb" />
<circle cx="97.60" cy="116.30" r="1.25" fill="#7eaadb" />
<circle cx="101.60" cy="114.50" r="1.25" fill="#7eaadb" />
<circle cx="111.00" cy="114.20" r="1.25" fill="#7eaadb" />
<circle cx="113.30" cy="113.40" r="1.25" fill="#7eaadb" />
<circle cx="96.80" cy="130.70" r="1.25" fill="#7eaadb" />
<circle cx="103.30" cy="139.40" r="1.25" fill="#7eaadb" />
<circle cx="101.60" cy="144.10" r="1.25" fill="#7eaadb" />
<circle cx="105.30" cy="144.80" r="1.25" fill="#7eaadb" />
<circle cx="89.80" cy="153.50" r="1.25" fill="#7eaadb" />
<circle cx="115.00" cy="141.90" r="1.25" fill="#7eaadb" />
<circle cx="102.90" cy="139.80" r="1.25" fill="#7eaadb" />
<circle cx="105.50" cy="144.40" r="1.25" fill="#7eaadb" />
<circle cx="114.80" cy="142.10" r="1.25" fill="#7eaadb" />
<circle cx="89.60" cy="153.60" r="1.25" fill="#7eaadb" />
<circle cx="114.40" cy="150.20" r="1.25" fill="#7eaadb" />
<circle cx="118.70" cy="150.20" r="1.25" fill="#7eaadb" />
<circle cx="113.30" cy="153.60" r="1.25" fill="#7eaadb" />
<circle cx="129.40" cy="149.60" r="1.25" fill="#7eaadb" />
<circle cx="130.00" cy="153.60" r="1.25" fill="#7eaadb" />
<circle cx="101.10" cy="156.50" r="1.25" fill="#7eaadb" />
<circle cx="115.20" cy="157.70" r="1.25" fill="#7eaadb" />
<circle cx="123.30" cy="155.60" r="1.25" fill="#7eaadb" />
<circle cx="102.90" cy="161.10" r="1.25" fill="#7eaadb" />
<circle cx="102.90" cy="162.90" r="1.25" fill="#7eaadb" />
<circle cx="113.60" cy="160.60" r="1.25" fill="#7eaadb" />
<circle cx="110.10" cy="162.90" r="1.25" fill="#7eaadb" />
<circle cx="105.50" cy="165.20" r="1.25" fill="#7eaadb" />
<circle cx="112.10" cy="166.30" r="1.25" fill="#7eaadb" />
<circle cx="119.60" cy="164.60" r="1.25" fill="#7eaadb" />
<circle cx="121.70" cy="164.00" r="1.25" fill="#7eaadb" />
<circle cx="122.50" cy="165.80" r="1.25" fill="#7eaadb" />
<circle cx="127.70" cy="161.10" r="1.25" fill="#7eaadb" />
<circle cx="128.80" cy="164.00" r="1.25" fill="#7eaadb" />
<circle cx="109.50" cy="168.60" r="1.25" fill="#7eaadb" />
<circle cx="95.40" cy="169.80" r="1.25" fill="#7eaadb" />
<circle cx="93.10" cy="173.60" r="1.25" fill="#7eaadb" />
<circle cx="129.40" cy="169.80" r="1.25" fill="#7eaadb" />
<circle cx="130.00" cy="171.00" r="1.25" fill="#7eaadb" />
<circle cx="119.60" cy="172.10" r="1.25" fill="#7eaadb" />
<circle cx="121.70" cy="171.50" r="1.25" fill="#7eaadb" />
<circle cx="124.20" cy="174.40" r="1.25" fill="#7eaadb" />
<circle cx="119.00" cy="174.40" r="1.25" fill="#7eaadb" />
<circle cx="105.50" cy="176.10" r="1.25" fill="#7eaadb" />
<circle cx="111.30" cy="176.10" r="1.25" fill="#7eaadb" />
<circle cx="115.90" cy="177.30" r="1.25" fill="#7eaadb" />
<circle cx="132.30" cy="174.40" r="1.25" fill="#7eaadb" />
<circle cx="136.90" cy="169.80" r="1.25" fill="#7eaadb" />
<circle cx="136.90" cy="177.30" r="1.25" fill="#7eaadb" />
<circle cx="136.30" cy="179.00" r="1.25" fill="#7eaadb" />
<circle cx="138.10" cy="180.70" r="1.25" fill="#7eaadb" />
<circle cx="111.00" cy="181.90" r="1.25" fill="#7eaadb" />
<circle cx="118.40" cy="181.30" r="1.25" fill="#7eaadb" />
<circle cx="121.30" cy="180.70" r="1.25" fill="#7eaadb" />
<circle cx="115.60" cy="184.80" r="1.25" fill="#7eaadb" />
<circle cx="119.60" cy="184.80" r="1.25" fill="#7eaadb" />
<circle cx="123.10" cy="184.20" r="1.25" fill="#7eaadb" />
<circle cx="135.70" cy="184.20" r="1.25" fill="#7eaadb" />
<circle cx="138.10" cy="185.40" r="1.25" fill="#7eaadb" />
<circle cx="134.00" cy="185.40" r="1.25" fill="#7eaadb" />
<circle cx="126.50" cy="185.40" r="1.25" fill="#7eaadb" />
<circle cx="82.50" cy="175.60" r="1.25" fill="#7eaadb" />
<circle cx="130.50" cy="180.00" r="1.25" fill="#7eaadb" />
<circle cx="127.00" cy="178.00" r="1.25" fill="#7eaadb" />
<circle cx="125.00" cy="182.00" r="1.25" fill="#7eaadb" />
<circle cx="140.00" cy="183.00" r="1.25" fill="#7eaadb" />
<circle cx="140.00" cy="176.00" r="1.25" fill="#7eaadb" />
<circle cx="137.00" cy="164.00" r="1.25" fill="#7eaadb" />
<circle cx="167.70" cy="140.60" r="1.25" fill="#7eaadb" />
<circle cx="170.80" cy="144.40" r="1.25" fill="#7eaadb" />
<circle cx="173.50" cy="153.30" r="1.25" fill="#7eaadb" />
<circle cx="168.00" cy="156.10" r="1.25" fill="#7eaadb" />
<circle cx="164.80" cy="160.50" r="1.25" fill="#7eaadb" />
<circle cx="167.50" cy="164.00" r="1.25" fill="#7eaadb" />
<circle cx="183.30" cy="161.30" r="1.25" fill="#7eaadb" />
<circle cx="189.40" cy="160.80" r="1.25" fill="#7eaadb" />
<circle cx="191.90" cy="163.60" r="1.25" fill="#7eaadb" />
<circle cx="195.10" cy="166.00" r="1.25" fill="#7eaadb" />
<circle cx="197.10" cy="168.30" r="1.25" fill="#7eaadb" />
<circle cx="167.10" cy="169.80" r="1.25" fill="#7eaadb" />
<circle cx="165.40" cy="172.60" r="1.25" fill="#7eaadb" />
<circle cx="172.30" cy="172.30" r="1.25" fill="#7eaadb" />
<circle cx="176.30" cy="172.60" r="1.25" fill="#7eaadb" />
<circle cx="185.90" cy="175.80" r="1.25" fill="#7eaadb" />
<circle cx="188.70" cy="177.10" r="1.25" fill="#7eaadb" />
<circle cx="175.20" cy="178.10" r="1.25" fill="#7eaadb" />
<circle cx="174.60" cy="179.20" r="1.25" fill="#7eaadb" />
<circle cx="164.20" cy="179.20" r="1.25" fill="#7eaadb" />
<circle cx="163.70" cy="182.10" r="1.25" fill="#7eaadb" />
<circle cx="164.80" cy="183.80" r="1.25" fill="#7eaadb" />
<circle cx="177.50" cy="183.80" r="1.25" fill="#7eaadb" />
<circle cx="183.30" cy="182.10" r="1.25" fill="#7eaadb" />
<circle cx="187.10" cy="180.40" r="1.25" fill="#7eaadb" />
<circle cx="207.50" cy="181.00" r="1.25" fill="#7eaadb" />
<circle cx="167.60" cy="140.00" r="1.25" fill="#7eaadb" />
<circle cx="170.80" cy="144.20" r="1.25" fill="#7eaadb" />
<circle cx="163.00" cy="186.00" r="1.25" fill="#7eaadb" />
<circle cx="166.00" cy="185.50" r="1.25" fill="#7eaadb" />
<circle cx="180.00" cy="185.00" r="1.25" fill="#7eaadb" />
<circle cx="192.00" cy="184.00" r="1.25" fill="#7eaadb" />
<line x1="133.90" y1="161.80" x2="95.41" y2="143.36" stroke="#111" stroke-width="1.1" stroke-dasharray="2,1.4"/>
<polygon points="90.90,141.20 96.53,141.02 94.29,145.71" fill="#111"/>
<line x1="138.70" y1="173.00" x2="131.71" y2="142.28" stroke="#111" stroke-width="1.1" stroke-dasharray="2,1.4"/>
<polygon points="130.60,137.40 134.24,141.70 129.17,142.85" fill="#111"/>
<line x1="102.60" y1="184.10" x2="79.50" y2="183.61" stroke="#111" stroke-width="1.1" stroke-dasharray="2,1.4"/>
<polygon points="74.50,183.50 79.55,181.01 79.44,186.21" fill="#111"/>
<line x1="131.50" y1="182.60" x2="101.55" y2="196.32" stroke="#111" stroke-width="1.1" stroke-dasharray="2,1.4"/>
<polygon points="97.00,198.40 100.46,193.95 102.63,198.68" fill="#111"/>
<line x1="169.60" y1="179.80" x2="178.49" y2="147.03" stroke="#111" stroke-width="1.1" stroke-dasharray="2,1.4"/>
<polygon points="179.80,142.20 181.00,147.71 175.98,146.34" fill="#111"/>
<line x1="183.50" y1="184.60" x2="215.00" y2="184.08" stroke="#111" stroke-width="1.1" stroke-dasharray="2,1.4"/>
<polygon points="220.00,184.00 215.04,186.68 214.96,181.48" fill="#111"/>
<line x1="183.50" y1="187.00" x2="227.87" y2="194.74" stroke="#111" stroke-width="1.1" stroke-dasharray="2,1.4"/>
<polygon points="232.80,195.60 227.43,197.30 228.32,192.18" fill="#111"/>
<line x1="172.90" y1="187.10" x2="203.88" y2="197.95" stroke="#111" stroke-width="1.1" stroke-dasharray="2,1.4"/>
<polygon points="208.60,199.60 203.02,200.40 204.74,195.49" fill="#111"/>
<circle cx="102.60" cy="184.10" r="2.65" fill="#0d4a8a" />
<circle cx="131.50" cy="182.60" r="2.65" fill="#0d4a8a" />
<circle cx="169.60" cy="179.80" r="2.65" fill="#0d4a8a" />
<circle cx="172.90" cy="187.10" r="2.65" fill="#0d4a8a" />
<circle cx="205.90" cy="161.40" r="2.65" fill="#0d4a8a" />
<circle cx="220.10" cy="171.20" r="2.65" fill="#0d4a8a" />
<circle cx="99.10" cy="110.90" r="2.5" fill="#d1213b" />
<circle cx="133.90" cy="161.80" r="2.5" fill="#d1213b" />
<circle cx="138.70" cy="173.00" r="2.5" fill="#d1213b" />
<circle cx="182.30" cy="185.20" r="2.5" fill="#d1213b" />
<circle cx="183.00" cy="187.20" r="2.5" fill="#d1213b" />
<text transform="translate(64.00,114.10) scale(1.0204415372035978,1)" font-size="10" font-weight="normal" fill="#1e1e1e" text-anchor="start" font-family='"Liberation Sans", sans-serif' >RPL39</text>
<text transform="translate(105.80,133.00) scale(1.0204415372035978,1)" font-size="10" font-weight="normal" fill="#1e1e1e" text-anchor="start" font-family='"Liberation Sans", sans-serif' >RPL36</text>
<text transform="translate(48.70,141.40) scale(1.0298610828207113,1)" font-size="10" font-weight="normal" fill="#1e1e1e" text-anchor="start" font-family='"Liberation Sans", sans-serif' >RPS27A</text>
<text transform="translate(45.40,186.40) scale(1.0521941082997188,1)" font-size="10" font-weight="normal" fill="#1e1e1e" text-anchor="start" font-family='"Liberation Sans", sans-serif' >CD70</text>
<text transform="translate(66.20,200.70) scale(0.9657467439325262,1)" font-size="10" font-weight="normal" fill="#1e1e1e" text-anchor="start" font-family='"Liberation Sans", sans-serif' >KRAS</text>
<text transform="translate(168.80,135.80) scale(1.014185303514377,1)" font-size="10" font-weight="normal" fill="#1e1e1e" text-anchor="start" font-family='"Liberation Sans", sans-serif' >HLA-DPB1</text>
<text transform="translate(209.80,164.20) scale(1.010636802399138,1)" font-size="10" font-weight="normal" fill="#1e1e1e" text-anchor="start" font-family='"Liberation Sans", sans-serif' >VEGFA</text>
<text transform="translate(223.90,174.40) scale(1.0500569692366124,1)" font-size="10" font-weight="normal" fill="#1e1e1e" text-anchor="start" font-family='"Liberation Sans", sans-serif' >IL1B</text>
<text transform="translate(220.80,186.40) scale(1.0186808997331298,1)" font-size="10" font-weight="normal" fill="#1e1e1e" text-anchor="start" font-family='"Liberation Sans", sans-serif' >GSPT2</text>
<text transform="translate(234.00,200.00) scale(1.0025102921980118,1)" font-size="10" font-weight="normal" fill="#1e1e1e" text-anchor="start" font-family='"Liberation Sans", sans-serif' >UTP15</text>
<text transform="translate(206.00,209.80) scale(1.011431070023112,1)" font-size="10" font-weight="normal" fill="#1e1e1e" text-anchor="start" font-family='"Liberation Sans", sans-serif' >LCP2</text>
<text x="288.20" y="27.80" font-size="19.5" font-weight="bold" fill="#111" text-anchor="start" font-family='"Liberation Sans", sans-serif' >B</text>
<defs><linearGradient id="cb" x1="0" x2="1" y1="0" y2="0"><stop offset="0" stop-color="#e8232b"/><stop offset="0.36" stop-color="#e8232b"/><stop offset="0.52" stop-color="#5a1212"/><stop offset="0.54" stop-color="#101010"/><stop offset="0.60" stop-color="#1b3a16"/><stop offset="0.66" stop-color="#6abf45"/><stop offset="1" stop-color="#6abf45"/></linearGradient></defs>
<rect x="304.20" y="43.00" width="23.90" height="9.60" fill="url(#cb)" />
<line x1="305.00" y1="52.40" x2="305.00" y2="55.90" stroke="#000" stroke-width="1.3" />
<line x1="310.40" y1="52.40" x2="310.40" y2="55.90" stroke="#000" stroke-width="1.3" />
<line x1="316.20" y1="52.40" x2="316.20" y2="55.90" stroke="#000" stroke-width="1.3" />
<line x1="321.90" y1="52.40" x2="321.90" y2="55.90" stroke="#000" stroke-width="1.3" />
<line x1="327.30" y1="52.40" x2="327.30" y2="55.90" stroke="#000" stroke-width="1.3" />
<text transform="translate(300.80,64.50) scale(0.7167717702195116,1)" font-size="10.2" font-weight="normal" fill="#222" text-anchor="start" font-family='"Liberation Sans", sans-serif'  stroke="#222" stroke-width="0.25">-2</text>
<text transform="translate(316.20,64.50) scale(0.6346792721022099,1)" font-size="10.2" font-weight="normal" fill="#222" text-anchor="middle" font-family='"Liberation Sans", sans-serif'  stroke="#222" stroke-width="0.25">0</text>
<text transform="translate(321.90,64.50) scale(0.6346792721022099,1)" font-size="10.2" font-weight="normal" fill="#222" text-anchor="middle" font-family='"Liberation Sans", sans-serif'  stroke="#222" stroke-width="0.25">1</text>
<text transform="translate(327.30,64.50) scale(0.6346792721022099,1)" font-size="10.2" font-weight="normal" fill="#222" text-anchor="middle" font-family='"Liberation Sans", sans-serif'  stroke="#222" stroke-width="0.25">2</text>
<text transform="translate(295.80,73.00) scale(0.7039911074807474,1)" font-size="9.8" font-weight="normal" fill="#222" text-anchor="start" font-family='"Liberation Sans", sans-serif'  stroke="#222" stroke-width="0.25">Row 2-Soone</text>
<rect x="332.00" y="74.90" width="176.30" height="179.60" fill="#b81e28" />
<g shape-rendering="crispEdges">
<rect x="332.00" y="75.00" width="29.00" height="30.00" fill="#78c044" />
<rect x="332.00" y="105.00" width="29.00" height="3.00" fill="#5ebf48" />
<rect x="332.00" y="108.00" width="29.00" height="5.00" fill="#60bc48" />
<rect x="332.00" y="113.00" width="29.00" height="8.00" fill="#52b848" />
<rect x="332.00" y="121.00" width="29.00" height="1.00" fill="#3aae4c" />
<rect x="332.00" y="122.00" width="29.00" height="2.00" fill="#1d5a2c" />
<rect x="332.00" y="124.00" width="29.00" height="1.00" fill="#161010" />
<rect x="332.00" y="125.00" width="29.00" height="1.00" fill="#5ebf48" />
<rect x="332.00" y="126.00" width="29.00" height="3.00" fill="#b01d26" />
<rect x="332.00" y="129.00" width="29.00" height="1.00" fill="#6a1616" />
<rect x="332.00" y="129.00" width="29.00" height="3.00" fill="#66c048" />
<rect x="332.00" y="132.00" width="29.00" height="3.00" fill="#206030" />
<rect x="332.00" y="135.00" width="29.00" height="5.00" fill="#c0202a" />
<rect x="332.00" y="140.00" width="29.00" height="6.00" fill="#d0222b" />
<rect x="332.00" y="146.00" width="29.00" height="6.00" fill="#c0202a" />
<rect x="332.00" y="152.00" width="29.00" height="6.00" fill="#b01d26" />
<rect x="332.00" y="158.00" width="29.00" height="5.00" fill="#c0202a" />
<rect x="332.00" y="163.00" width="29.00" height="7.00" fill="#b01d26" />
<rect x="332.00" y="170.00" width="29.00" height="15.00" fill="#c0202a" />
<rect x="332.00" y="185.00" width="29.00" height="15.00" fill="#d0222b" />
<rect x="332.00" y="200.00" width="29.00" height="2.00" fill="#8a1a1e" />
<rect x="332.00" y="202.00" width="29.00" height="24.00" fill="#c0202a" />
<rect x="332.00" y="226.00" width="29.00" height="8.00" fill="#b01d26" />
<rect x="332.00" y="234.00" width="29.00" height="6.00" fill="#c0202a" />
<rect x="332.00" y="240.00" width="29.00" height="6.00" fill="#b01d26" />
<rect x="332.00" y="246.00" width="29.00" height="5.00" fill="#c0202a" />
<rect x="332.00" y="251.00" width="29.00" height="3.00" fill="#22b040" />
<rect x="361.00" y="75.00" width="30.00" height="1.00" fill="#102a14" />
<rect x="361.00" y="76.00" width="30.00" height="2.00" fill="#4a1212" />
<rect x="361.00" y="78.00" width="30.00" height="3.00" fill="#c0202a" />
<rect x="361.00" y="81.00" width="30.00" height="3.00" fill="#b01c26" />
<rect x="361.00" y="84.00" width="30.00" height="3.00" fill="#8a1a1e" />
<rect x="361.00" y="87.00" width="30.00" height="3.00" fill="#3a0e0e" />
<rect x="361.00" y="90.00" width="30.00" height="1.00" fill="#6a1616" />
<rect x="361.00" y="91.00" width="30.00" height="3.00" fill="#a01a22" />
<rect x="361.00" y="94.00" width="30.00" height="3.00" fill="#c0202a" />
<rect x="361.00" y="97.00" width="30.00" height="1.00" fill="#8a1a1e" />
<rect x="361.00" y="98.00" width="30.00" height="3.00" fill="#180808" />
<rect x="361.00" y="101.00" width="30.00" height="1.00" fill="#6a1616" />
<rect x="361.00" y="102.00" width="30.00" height="2.00" fill="#2a0c0c" />
<rect x="361.00" y="104.00" width="30.00" height="1.00" fill="#3a3a10" />
<rect x="361.00" y="105.00" width="30.00" height="1.00" fill="#70b040" />
<rect x="361.00" y="106.00" width="30.00" height="1.00" fill="#a03018" />
<rect x="361.00" y="107.00" width="30.00" height="2.00" fill="#5ebf48" />
<rect x="361.00" y="109.00" width="30.00" height="3.00" fill="#28a050" />
<rect x="361.00" y="112.00" width="30.00" height="13.00" fill="#62bf48" />
<rect x="361.00" y="125.00" width="30.00" height="1.00" fill="#38a848" />
<rect x="361.00" y="126.00" width="30.00" height="3.00" fill="#50b848" />
<rect x="361.00" y="129.00" width="30.00" height="2.00" fill="#300808" />
<rect x="361.00" y="131.00" width="30.00" height="3.00" fill="#70c040" />
<rect x="361.00" y="134.00" width="30.00" height="2.00" fill="#c0202a" />
<rect x="361.00" y="136.00" width="30.00" height="2.00" fill="#8a1a1e" />
<rect x="361.00" y="138.00" width="30.00" height="12.00" fill="#c0202a" />
<rect x="361.00" y="150.00" width="30.00" height="8.00" fill="#b01d26" />
<rect x="361.00" y="158.00" width="30.00" height="15.00" fill="#c0202a" />
<rect x="361.00" y="173.00" width="30.00" height="2.00" fill="#200808" />
<rect x="361.00" y="175.00" width="30.00" height="5.00" fill="#b01c26" />
<rect x="361.00" y="180.00" width="30.00" height="5.00" fill="#8a1a1e" />
<rect x="361.00" y="185.00" width="30.00" height="17.00" fill="#c0202a" />
<rect x="361.00" y="202.00" width="30.00" height="1.00" fill="#200808" />
<rect x="361.00" y="203.00" width="30.00" height="23.00" fill="#d0222b" />
<rect x="361.00" y="226.00" width="30.00" height="21.00" fill="#b01d26" />
<rect x="361.00" y="247.00" width="30.00" height="5.00" fill="#b81e28" />
<rect x="361.00" y="252.00" width="30.00" height="2.00" fill="#d0222b" />
<rect x="391.00" y="75.00" width="29.00" height="1.00" fill="#8a1a1e" />
<rect x="391.00" y="76.00" width="29.00" height="3.00" fill="#201010" />
<rect x="391.00" y="79.00" width="29.00" height="2.00" fill="#8a1a1e" />
<rect x="391.00" y="81.00" width="29.00" height="2.00" fill="#6a1616" />
<rect x="391.00" y="83.00" width="29.00" height="6.00" fill="#b01c26" />
<rect x="391.00" y="89.00" width="29.00" height="2.00" fill="#c0202a" />
<rect x="391.00" y="91.00" width="29.00" height="2.00" fill="#401010" />
<rect x="391.00" y="93.00" width="29.00" height="3.00" fill="#1a0a0a" />
<rect x="391.00" y="96.00" width="29.00" height="2.00" fill="#a01a22" />
<rect x="391.00" y="98.00" width="29.00" height="3.00" fill="#30b050" />
<rect x="391.00" y="101.00" width="29.00" height="1.00" fill="#1d5a2c" />
<rect x="391.00" y="102.00" width="29.00" height="2.00" fill="#28a848" />
<rect x="391.00" y="104.00" width="29.00" height="2.00" fill="#2a0c0c" />
<rect x="391.00" y="106.00" width="29.00" height="13.00" fill="#5ac048" />
<rect x="391.00" y="119.00" width="29.00" height="1.00" fill="#201810" />
<rect x="391.00" y="120.00" width="29.00" height="11.00" fill="#70c048" />
<rect x="391.00" y="131.00" width="29.00" height="2.00" fill="#102010" />
<rect x="391.00" y="133.00" width="29.00" height="2.00" fill="#206030" />
<rect x="391.00" y="135.00" width="29.00" height="1.00" fill="#c0202a" />
<rect x="391.00" y="136.00" width="29.00" height="2.00" fill="#604020" />
<rect x="391.00" y="138.00" width="29.00" height="36.00" fill="#c0202a" />
<rect x="391.00" y="174.00" width="29.00" height="2.00" fill="#406020" />
<rect x="391.00" y="176.00" width="29.00" height="22.00" fill="#d0222b" />
<rect x="391.00" y="198.00" width="29.00" height="1.00" fill="#8a1a1e" />
<rect x="391.00" y="199.00" width="29.00" height="3.00" fill="#c0202a" />
<rect x="391.00" y="202.00" width="29.00" height="1.00" fill="#8a1a1e" />
<rect x="391.00" y="203.00" width="29.00" height="11.00" fill="#d0222b" />
<rect x="391.00" y="214.00" width="29.00" height="4.00" fill="#a01a22" />
<rect x="391.00" y="218.00" width="29.00" height="25.00" fill="#d0222b" />
<rect x="391.00" y="243.00" width="29.00" height="9.00" fill="#b81e28" />
<rect x="391.00" y="252.00" width="29.00" height="2.00" fill="#8a1a1e" />
<rect x="391.00" y="254.00" width="29.00" height="1.00" fill="#c0202a" />
<rect x="420.00" y="75.00" width="30.00" height="21.00" fill="#b81e28" />
<rect x="420.00" y="96.00" width="30.00" height="2.00" fill="#8a1a1e" />
<rect x="420.00" y="98.00" width="30.00" height="6.00" fill="#c0202a" />
<rect x="420.00" y="104.00" width="30.00" height="2.00" fill="#501010" />
<rect x="420.00" y="106.00" width="30.00" height="24.00" fill="#d0222b" />
<rect x="420.00" y="130.00" width="30.00" height="1.00" fill="#201010" />
<rect x="420.00" y="131.00" width="30.00" height="3.00" fill="#d0222b" />
<rect x="420.00" y="134.00" width="30.00" height="14.00" fill="#6cc448" />
<rect x="420.00" y="148.00" width="30.00" height="5.00" fill="#200808" />
<rect x="420.00" y="153.00" width="30.00" height="1.00" fill="#205020" />
<rect x="420.00" y="154.00" width="30.00" height="2.00" fill="#40a048" />
<rect x="420.00" y="156.00" width="30.00" height="2.00" fill="#104020" />
<rect x="420.00" y="158.00" width="30.00" height="2.00" fill="#50b848" />
<rect x="420.00" y="160.00" width="30.00" height="6.00" fill="#b01d26" />
<rect x="420.00" y="166.00" width="30.00" height="2.00" fill="#601010" />
<rect x="420.00" y="168.00" width="30.00" height="4.00" fill="#c0202a" />
<rect x="420.00" y="172.00" width="30.00" height="2.00" fill="#6a1616" />
<rect x="420.00" y="174.00" width="30.00" height="12.00" fill="#b01c26" />
<rect x="420.00" y="186.00" width="30.00" height="2.00" fill="#400c0c" />
<rect x="420.00" y="188.00" width="30.00" height="2.00" fill="#6a1616" />
<rect x="420.00" y="190.00" width="30.00" height="1.00" fill="#161010" />
<rect x="420.00" y="191.00" width="30.00" height="2.00" fill="#30a040" />
<rect x="420.00" y="193.00" width="30.00" height="1.00" fill="#161010" />
<rect x="420.00" y="194.00" width="30.00" height="4.00" fill="#50c050" />
<rect x="420.00" y="198.00" width="30.00" height="4.00" fill="#40b848" />
<rect x="420.00" y="202.00" width="30.00" height="1.00" fill="#1a1a10" />
<rect x="420.00" y="203.00" width="30.00" height="3.00" fill="#300808" />
<rect x="420.00" y="206.00" width="30.00" height="3.00" fill="#161010" />
<rect x="420.00" y="209.00" width="30.00" height="1.00" fill="#c0202a" />
<rect x="420.00" y="209.00" width="30.00" height="2.00" fill="#c0202a" />
<rect x="420.00" y="211.00" width="30.00" height="2.00" fill="#400c0c" />
<rect x="420.00" y="213.00" width="30.00" height="5.00" fill="#c0202a" />
<rect x="420.00" y="218.00" width="30.00" height="3.00" fill="#300808" />
<rect x="420.00" y="221.00" width="30.00" height="2.00" fill="#102010" />
<rect x="420.00" y="223.00" width="30.00" height="1.00" fill="#1a6030" />
<rect x="420.00" y="224.00" width="30.00" height="2.00" fill="#20c050" />
<rect x="420.00" y="226.00" width="30.00" height="2.00" fill="#104020" />
<rect x="420.00" y="228.00" width="30.00" height="2.00" fill="#0a1a0a" />
<rect x="420.00" y="230.00" width="30.00" height="2.00" fill="#501010" />
<rect x="420.00" y="232.00" width="30.00" height="5.00" fill="#b01c26" />
<rect x="420.00" y="237.00" width="30.00" height="2.00" fill="#6a1616" />
<rect x="420.00" y="239.00" width="30.00" height="2.00" fill="#104020" />
<rect x="420.00" y="241.00" width="30.00" height="4.00" fill="#200808" />
<rect x="420.00" y="245.00" width="30.00" height="3.00" fill="#b01c26" />
<rect x="420.00" y="248.00" width="30.00" height="2.00" fill="#100808" />
<rect x="420.00" y="250.00" width="30.00" height="2.00" fill="#c0202a" />
<rect x="420.00" y="252.00" width="30.00" height="2.00" fill="#161010" />
<rect x="420.00" y="254.00" width="30.00" height="1.00" fill="#c0202a" />
<rect x="450.00" y="75.00" width="29.00" height="21.00" fill="#b01c26" />
<rect x="450.00" y="96.00" width="29.00" height="2.00" fill="#8a1a1e" />
<rect x="450.00" y="98.00" width="29.00" height="36.00" fill="#c8202a" />
<rect x="450.00" y="134.00" width="29.00" height="4.00" fill="#6cc448" />
<rect x="450.00" y="138.00" width="29.00" height="3.00" fill="#28a048" />
<rect x="450.00" y="141.00" width="29.00" height="3.00" fill="#50b848" />
<rect x="450.00" y="144.00" width="29.00" height="3.00" fill="#38b048" />
<rect x="450.00" y="147.00" width="29.00" height="51.00" fill="#74c244" />
<rect x="450.00" y="198.00" width="29.00" height="1.00" fill="#c0202a" />
<rect x="450.00" y="199.00" width="29.00" height="2.00" fill="#300808" />
<rect x="450.00" y="201.00" width="29.00" height="2.00" fill="#d0222b" />
<rect x="450.00" y="203.00" width="29.00" height="26.00" fill="#56c04c" />
<rect x="450.00" y="229.00" width="29.00" height="8.00" fill="#101010" />
<rect x="450.00" y="237.00" width="29.00" height="2.00" fill="#8a1a1e" />
<rect x="450.00" y="239.00" width="29.00" height="2.00" fill="#102010" />
<rect x="450.00" y="241.00" width="29.00" height="1.00" fill="#5ebf48" />
<rect x="450.00" y="242.00" width="29.00" height="3.00" fill="#103010" />
<rect x="450.00" y="245.00" width="29.00" height="7.00" fill="#40b048" />
<rect x="450.00" y="252.00" width="29.00" height="2.00" fill="#c0202a" />
<rect x="450.00" y="254.00" width="29.00" height="1.00" fill="#8a1a1e" />
<rect x="479.00" y="75.00" width="29.00" height="28.00" fill="#b01c26" />
<rect x="479.00" y="103.00" width="29.00" height="1.00" fill="#201010" />
<rect x="479.00" y="104.00" width="29.00" height="1.00" fill="#c0202a" />
<rect x="479.00" y="105.00" width="29.00" height="3.00" fill="#607020" />
<rect x="479.00" y="108.00" width="29.00" height="26.00" fill="#c8202a" />
<rect x="479.00" y="134.00" width="29.00" height="2.00" fill="#401010" />
<rect x="479.00" y="136.00" width="29.00" height="3.00" fill="#b01c26" />
<rect x="479.00" y="139.00" width="29.00" height="1.00" fill="#8a1a1e" />
<rect x="479.00" y="140.00" width="29.00" height="3.00" fill="#40b048" />
<rect x="479.00" y="143.00" width="29.00" height="4.00" fill="#60c048" />
<rect x="479.00" y="147.00" width="29.00" height="1.00" fill="#2a0a0a" />
<rect x="479.00" y="148.00" width="29.00" height="2.00" fill="#300808" />
<rect x="479.00" y="150.00" width="29.00" height="3.00" fill="#b01c26" />
<rect x="479.00" y="153.00" width="29.00" height="3.00" fill="#100808" />
<rect x="479.00" y="156.00" width="29.00" height="2.00" fill="#c0202a" />
<rect x="479.00" y="158.00" width="29.00" height="2.00" fill="#a01a22" />
<rect x="479.00" y="160.00" width="29.00" height="2.00" fill="#2a0a0a" />
<rect x="479.00" y="162.00" width="29.00" height="5.00" fill="#b01c26" />
<rect x="479.00" y="167.00" width="29.00" height="1.00" fill="#8a1a1e" />
<rect x="479.00" y="168.00" width="29.00" height="3.00" fill="#100808" />
<rect x="479.00" y="171.00" width="29.00" height="2.00" fill="#204020" />
<rect x="479.00" y="173.00" width="29.00" height="1.00" fill="#301010" />
<rect x="479.00" y="174.00" width="29.00" height="2.00" fill="#d0222b" />
<rect x="479.00" y="176.00" width="29.00" height="8.00" fill="#50c050" />
<rect x="479.00" y="184.00" width="29.00" height="3.00" fill="#186030" />
<rect x="479.00" y="187.00" width="29.00" height="4.00" fill="#40b048" />
<rect x="479.00" y="191.00" width="29.00" height="7.00" fill="#58c048" />
<rect x="479.00" y="198.00" width="29.00" height="5.00" fill="#70c040" />
<rect x="479.00" y="203.00" width="29.00" height="7.00" fill="#68c048" />
<rect x="479.00" y="210.00" width="29.00" height="44.00" fill="#76c044" />
<rect x="332" y="126.49" width="29" height="1.91" fill="#000" fill-opacity="0.062"/>
<rect x="332" y="134.13" width="29" height="1.91" fill="#000" fill-opacity="0.074"/>
<rect x="332" y="136.04" width="29" height="1.91" fill="#000" fill-opacity="0.080"/>
<rect x="332" y="137.95" width="29" height="1.91" fill="#000" fill-opacity="0.094"/>
<rect x="332" y="139.86" width="29" height="1.91" fill="#000" fill-opacity="0.074"/>
<rect x="332" y="141.77" width="29" height="1.91" fill="#000" fill-opacity="0.092"/>
<rect x="332" y="145.59" width="29" height="1.91" fill="#000" fill-opacity="0.047"/>
<rect x="332" y="147.50" width="29" height="1.91" fill="#000" fill-opacity="0.094"/>
<rect x="332" y="149.41" width="29" height="1.91" fill="#000" fill-opacity="0.065"/>
<rect x="332" y="151.33" width="29" height="1.91" fill="#000" fill-opacity="0.090"/>
<rect x="332" y="155.15" width="29" height="1.91" fill="#000" fill-opacity="0.047"/>
<rect x="332" y="157.06" width="29" height="1.91" fill="#000" fill-opacity="0.025"/>
<rect x="332" y="158.97" width="29" height="1.91" fill="#000" fill-opacity="0.054"/>
<rect x="332" y="160.88" width="29" height="1.91" fill="#000" fill-opacity="0.057"/>
<rect x="332" y="164.70" width="29" height="1.91" fill="#000" fill-opacity="0.022"/>
<rect x="332" y="166.61" width="29" height="1.91" fill="#000" fill-opacity="0.028"/>
<rect x="332" y="168.52" width="29" height="1.91" fill="#000" fill-opacity="0.092"/>
<rect x="332" y="170.43" width="29" height="1.91" fill="#000" fill-opacity="0.077"/>
<rect x="332" y="174.25" width="29" height="1.91" fill="#000" fill-opacity="0.080"/>
<rect x="332" y="178.07" width="29" height="1.91" fill="#000" fill-opacity="0.062"/>
<rect x="332" y="183.81" width="29" height="1.91" fill="#000" fill-opacity="0.087"/>
<rect x="332" y="185.72" width="29" height="1.91" fill="#000" fill-opacity="0.021"/>
<rect x="332" y="187.63" width="29" height="1.91" fill="#000" fill-opacity="0.022"/>
<rect x="332" y="189.54" width="29" height="1.91" fill="#000" fill-opacity="0.098"/>
<rect x="332" y="191.45" width="29" height="1.91" fill="#000" fill-opacity="0.087"/>
<rect x="332" y="193.36" width="29" height="1.91" fill="#000" fill-opacity="0.029"/>
<rect x="332" y="195.27" width="29" height="1.91" fill="#000" fill-opacity="0.096"/>
<rect x="332" y="197.18" width="29" height="1.91" fill="#000" fill-opacity="0.054"/>
<rect x="332" y="199.09" width="29" height="1.91" fill="#000" fill-opacity="0.068"/>
<rect x="332" y="202.91" width="29" height="1.91" fill="#000" fill-opacity="0.020"/>
<rect x="332" y="204.82" width="29" height="1.91" fill="#000" fill-opacity="0.094"/>
<rect x="332" y="206.73" width="29" height="1.91" fill="#000" fill-opacity="0.069"/>
<rect x="332" y="208.64" width="29" height="1.91" fill="#000" fill-opacity="0.097"/>
<rect x="332" y="210.56" width="29" height="1.91" fill="#000" fill-opacity="0.089"/>
<rect x="332" y="212.47" width="29" height="1.91" fill="#000" fill-opacity="0.030"/>
<rect x="332" y="214.38" width="29" height="1.91" fill="#000" fill-opacity="0.036"/>
<rect x="332" y="222.02" width="29" height="1.91" fill="#000" fill-opacity="0.030"/>
<rect x="332" y="223.93" width="29" height="1.91" fill="#000" fill-opacity="0.060"/>
<rect x="332" y="227.75" width="29" height="1.91" fill="#000" fill-opacity="0.068"/>
<rect x="332" y="229.66" width="29" height="1.91" fill="#000" fill-opacity="0.034"/>
<rect x="332" y="231.57" width="29" height="1.91" fill="#000" fill-opacity="0.031"/>
<rect x="332" y="233.48" width="29" height="1.91" fill="#000" fill-opacity="0.082"/>
<rect x="332" y="235.39" width="29" height="1.91" fill="#000" fill-opacity="0.048"/>
<rect x="332" y="237.30" width="29" height="1.91" fill="#000" fill-opacity="0.032"/>
<rect x="332" y="239.21" width="29" height="1.91" fill="#000" fill-opacity="0.048"/>
<rect x="332" y="241.13" width="29" height="1.91" fill="#000" fill-opacity="0.070"/>
<rect x="332" y="244.95" width="29" height="1.91" fill="#000" fill-opacity="0.098"/>
<rect x="332" y="248.77" width="29" height="1.91" fill="#000" fill-opacity="0.075"/>
<rect x="361" y="78.72" width="30" height="1.91" fill="#000" fill-opacity="0.084"/>
<rect x="361" y="82.54" width="30" height="1.91" fill="#000" fill-opacity="0.079"/>
<rect x="361" y="90.19" width="30" height="1.91" fill="#000" fill-opacity="0.037"/>
<rect x="361" y="92.10" width="30" height="1.91" fill="#000" fill-opacity="0.058"/>
<rect x="361" y="134.13" width="30" height="1.91" fill="#000" fill-opacity="0.096"/>
<rect x="361" y="139.86" width="30" height="1.91" fill="#000" fill-opacity="0.076"/>
<rect x="361" y="141.77" width="30" height="1.91" fill="#000" fill-opacity="0.093"/>
<rect x="361" y="143.68" width="30" height="1.91" fill="#000" fill-opacity="0.094"/>
<rect x="361" y="145.59" width="30" height="1.91" fill="#000" fill-opacity="0.034"/>
<rect x="361" y="147.50" width="30" height="1.91" fill="#000" fill-opacity="0.035"/>
<rect x="361" y="149.41" width="30" height="1.91" fill="#000" fill-opacity="0.052"/>
<rect x="361" y="151.33" width="30" height="1.91" fill="#000" fill-opacity="0.078"/>
<rect x="361" y="155.15" width="30" height="1.91" fill="#000" fill-opacity="0.075"/>
<rect x="361" y="157.06" width="30" height="1.91" fill="#000" fill-opacity="0.080"/>
<rect x="361" y="158.97" width="30" height="1.91" fill="#000" fill-opacity="0.086"/>
<rect x="361" y="162.79" width="30" height="1.91" fill="#000" fill-opacity="0.095"/>
<rect x="361" y="166.61" width="30" height="1.91" fill="#000" fill-opacity="0.034"/>
<rect x="361" y="168.52" width="30" height="1.91" fill="#000" fill-opacity="0.061"/>
<rect x="361" y="170.43" width="30" height="1.91" fill="#000" fill-opacity="0.092"/>
<rect x="361" y="174.25" width="30" height="1.91" fill="#000" fill-opacity="0.034"/>
<rect x="361" y="176.16" width="30" height="1.91" fill="#000" fill-opacity="0.092"/>
<rect x="361" y="178.07" width="30" height="1.91" fill="#000" fill-opacity="0.055"/>
<rect x="361" y="183.81" width="30" height="1.91" fill="#000" fill-opacity="0.031"/>
<rect x="361" y="185.72" width="30" height="1.91" fill="#000" fill-opacity="0.032"/>
<rect x="361" y="193.36" width="30" height="1.91" fill="#000" fill-opacity="0.069"/>
<rect x="361" y="195.27" width="30" height="1.91" fill="#000" fill-opacity="0.100"/>
<rect x="361" y="202.91" width="30" height="1.91" fill="#000" fill-opacity="0.099"/>
<rect x="361" y="204.82" width="30" height="1.91" fill="#000" fill-opacity="0.053"/>
<rect x="361" y="206.73" width="30" height="1.91" fill="#000" fill-opacity="0.041"/>
<rect x="361" y="208.64" width="30" height="1.91" fill="#000" fill-opacity="0.024"/>
<rect x="361" y="210.56" width="30" height="1.91" fill="#000" fill-opacity="0.059"/>
<rect x="361" y="212.47" width="30" height="1.91" fill="#000" fill-opacity="0.083"/>
<rect x="361" y="214.38" width="30" height="1.91" fill="#000" fill-opacity="0.046"/>
<rect x="361" y="216.29" width="30" height="1.91" fill="#000" fill-opacity="0.042"/>
<rect x="361" y="220.11" width="30" height="1.91" fill="#000" fill-opacity="0.092"/>
<rect x="361" y="223.93" width="30" height="1.91" fill="#000" fill-opacity="0.049"/>
<rect x="361" y="225.84" width="30" height="1.91" fill="#000" fill-opacity="0.084"/>
<rect x="361" y="229.66" width="30" height="1.91" fill="#000" fill-opacity="0.073"/>
<rect x="361" y="231.57" width="30" height="1.91" fill="#000" fill-opacity="0.095"/>
<rect x="361" y="233.48" width="30" height="1.91" fill="#000" fill-opacity="0.063"/>
<rect x="361" y="235.39" width="30" height="1.91" fill="#000" fill-opacity="0.079"/>
<rect x="361" y="239.21" width="30" height="1.91" fill="#000" fill-opacity="0.043"/>
<rect x="361" y="243.04" width="30" height="1.91" fill="#000" fill-opacity="0.084"/>
<rect x="361" y="244.95" width="30" height="1.91" fill="#000" fill-opacity="0.029"/>
<rect x="361" y="246.86" width="30" height="1.91" fill="#000" fill-opacity="0.045"/>
<rect x="361" y="248.77" width="30" height="1.91" fill="#000" fill-opacity="0.100"/>
<rect x="361" y="250.68" width="30" height="1.91" fill="#000" fill-opacity="0.085"/>
<rect x="361" y="252.59" width="30" height="1.91" fill="#000" fill-opacity="0.098"/>
<rect x="391" y="82.54" width="29" height="1.91" fill="#000" fill-opacity="0.045"/>
<rect x="391" y="84.45" width="29" height="1.91" fill="#000" fill-opacity="0.049"/>
<rect x="391" y="86.36" width="29" height="1.91" fill="#000" fill-opacity="0.073"/>
<rect x="391" y="88.27" width="29" height="1.91" fill="#000" fill-opacity="0.048"/>
<rect x="391" y="95.92" width="29" height="1.91" fill="#000" fill-opacity="0.029"/>
<rect x="391" y="134.13" width="29" height="1.91" fill="#000" fill-opacity="0.040"/>
<rect x="391" y="139.86" width="29" height="1.91" fill="#000" fill-opacity="0.038"/>
<rect x="391" y="141.77" width="29" height="1.91" fill="#000" fill-opacity="0.099"/>
<rect x="391" y="143.68" width="29" height="1.91" fill="#000" fill-opacity="0.096"/>
<rect x="391" y="145.59" width="29" height="1.91" fill="#000" fill-opacity="0.063"/>
<rect x="391" y="147.50" width="29" height="1.91" fill="#000" fill-opacity="0.050"/>
<rect x="391" y="149.41" width="29" height="1.91" fill="#000" fill-opacity="0.034"/>
<rect x="391" y="153.24" width="29" height="1.91" fill="#000" fill-opacity="0.027"/>
<rect x="391" y="155.15" width="29" height="1.91" fill="#000" fill-opacity="0.078"/>
<rect x="391" y="157.06" width="29" height="1.91" fill="#000" fill-opacity="0.087"/>
<rect x="391" y="158.97" width="29" height="1.91" fill="#000" fill-opacity="0.036"/>
<rect x="391" y="160.88" width="29" height="1.91" fill="#000" fill-opacity="0.079"/>
<rect x="391" y="162.79" width="29" height="1.91" fill="#000" fill-opacity="0.077"/>
<rect x="391" y="164.70" width="29" height="1.91" fill="#000" fill-opacity="0.069"/>
<rect x="391" y="166.61" width="29" height="1.91" fill="#000" fill-opacity="0.066"/>
<rect x="391" y="168.52" width="29" height="1.91" fill="#000" fill-opacity="0.076"/>
<rect x="391" y="170.43" width="29" height="1.91" fill="#000" fill-opacity="0.036"/>
<rect x="391" y="172.34" width="29" height="1.91" fill="#000" fill-opacity="0.070"/>
<rect x="391" y="176.16" width="29" height="1.91" fill="#000" fill-opacity="0.028"/>
<rect x="391" y="178.07" width="29" height="1.91" fill="#000" fill-opacity="0.049"/>
<rect x="391" y="179.99" width="29" height="1.91" fill="#000" fill-opacity="0.077"/>
<rect x="391" y="181.90" width="29" height="1.91" fill="#000" fill-opacity="0.069"/>
<rect x="391" y="183.81" width="29" height="1.91" fill="#000" fill-opacity="0.029"/>
<rect x="391" y="185.72" width="29" height="1.91" fill="#000" fill-opacity="0.095"/>
<rect x="391" y="187.63" width="29" height="1.91" fill="#000" fill-opacity="0.065"/>
<rect x="391" y="189.54" width="29" height="1.91" fill="#000" fill-opacity="0.058"/>
<rect x="391" y="193.36" width="29" height="1.91" fill="#000" fill-opacity="0.055"/>
<rect x="391" y="195.27" width="29" height="1.91" fill="#000" fill-opacity="0.025"/>
<rect x="391" y="199.09" width="29" height="1.91" fill="#000" fill-opacity="0.067"/>
<rect x="391" y="201.00" width="29" height="1.91" fill="#000" fill-opacity="0.046"/>
<rect x="391" y="202.91" width="29" height="1.91" fill="#000" fill-opacity="0.082"/>
<rect x="391" y="204.82" width="29" height="1.91" fill="#000" fill-opacity="0.065"/>
<rect x="391" y="206.73" width="29" height="1.91" fill="#000" fill-opacity="0.080"/>
<rect x="391" y="208.64" width="29" height="1.91" fill="#000" fill-opacity="0.035"/>
<rect x="391" y="210.56" width="29" height="1.91" fill="#000" fill-opacity="0.064"/>
<rect x="391" y="212.47" width="29" height="1.91" fill="#000" fill-opacity="0.074"/>
<rect x="391" y="214.38" width="29" height="1.91" fill="#000" fill-opacity="0.083"/>
<rect x="391" y="216.29" width="29" height="1.91" fill="#000" fill-opacity="0.035"/>
<rect x="391" y="218.20" width="29" height="1.91" fill="#000" fill-opacity="0.084"/>
<rect x="391" y="220.11" width="29" height="1.91" fill="#000" fill-opacity="0.087"/>
<rect x="391" y="222.02" width="29" height="1.91" fill="#000" fill-opacity="0.069"/>
<rect x="391" y="223.93" width="29" height="1.91" fill="#000" fill-opacity="0.098"/>
<rect x="391" y="225.84" width="29" height="1.91" fill="#000" fill-opacity="0.096"/>
<rect x="391" y="227.75" width="29" height="1.91" fill="#000" fill-opacity="0.052"/>
<rect x="391" y="229.66" width="29" height="1.91" fill="#000" fill-opacity="0.053"/>
<rect x="391" y="233.48" width="29" height="1.91" fill="#000" fill-opacity="0.084"/>
<rect x="391" y="235.39" width="29" height="1.91" fill="#000" fill-opacity="0.094"/>
<rect x="391" y="237.30" width="29" height="1.91" fill="#000" fill-opacity="0.048"/>
<rect x="391" y="239.21" width="29" height="1.91" fill="#000" fill-opacity="0.069"/>
<rect x="391" y="241.13" width="29" height="1.91" fill="#000" fill-opacity="0.072"/>
<rect x="391" y="243.04" width="29" height="1.91" fill="#000" fill-opacity="0.073"/>
<rect x="391" y="246.86" width="29" height="1.91" fill="#000" fill-opacity="0.078"/>
<rect x="391" y="248.77" width="29" height="1.91" fill="#000" fill-opacity="0.058"/>
<rect x="391" y="250.68" width="29" height="1.91" fill="#000" fill-opacity="0.067"/>
<rect x="420" y="74.90" width="30" height="1.91" fill="#000" fill-opacity="0.042"/>
<rect x="420" y="76.81" width="30" height="1.91" fill="#000" fill-opacity="0.062"/>
<rect x="420" y="78.72" width="30" height="1.91" fill="#000" fill-opacity="0.077"/>
<rect x="420" y="80.63" width="30" height="1.91" fill="#000" fill-opacity="0.064"/>
<rect x="420" y="82.54" width="30" height="1.91" fill="#000" fill-opacity="0.072"/>
<rect x="420" y="88.27" width="30" height="1.91" fill="#000" fill-opacity="0.044"/>
<rect x="420" y="90.19" width="30" height="1.91" fill="#000" fill-opacity="0.065"/>
<rect x="420" y="92.10" width="30" height="1.91" fill="#000" fill-opacity="0.022"/>
<rect x="420" y="94.01" width="30" height="1.91" fill="#000" fill-opacity="0.069"/>
<rect x="420" y="97.83" width="30" height="1.91" fill="#000" fill-opacity="0.063"/>
<rect x="420" y="101.65" width="30" height="1.91" fill="#000" fill-opacity="0.047"/>
<rect x="420" y="105.47" width="30" height="1.91" fill="#000" fill-opacity="0.023"/>
<rect x="420" y="111.20" width="30" height="1.91" fill="#000" fill-opacity="0.032"/>
<rect x="420" y="118.84" width="30" height="1.91" fill="#000" fill-opacity="0.047"/>
<rect x="420" y="120.76" width="30" height="1.91" fill="#000" fill-opacity="0.038"/>
<rect x="420" y="122.67" width="30" height="1.91" fill="#000" fill-opacity="0.061"/>
<rect x="420" y="124.58" width="30" height="1.91" fill="#000" fill-opacity="0.059"/>
<rect x="420" y="126.49" width="30" height="1.91" fill="#000" fill-opacity="0.024"/>
<rect x="420" y="128.40" width="30" height="1.91" fill="#000" fill-opacity="0.090"/>
<rect x="420" y="160.88" width="30" height="1.91" fill="#000" fill-opacity="0.041"/>
<rect x="420" y="162.79" width="30" height="1.91" fill="#000" fill-opacity="0.028"/>
<rect x="420" y="164.70" width="30" height="1.91" fill="#000" fill-opacity="0.041"/>
<rect x="420" y="170.43" width="30" height="1.91" fill="#000" fill-opacity="0.083"/>
<rect x="420" y="174.25" width="30" height="1.91" fill="#000" fill-opacity="0.037"/>
<rect x="420" y="178.07" width="30" height="1.91" fill="#000" fill-opacity="0.061"/>
<rect x="420" y="181.90" width="30" height="1.91" fill="#000" fill-opacity="0.055"/>
<rect x="420" y="183.81" width="30" height="1.91" fill="#000" fill-opacity="0.034"/>
<rect x="420" y="208.64" width="30" height="1.91" fill="#000" fill-opacity="0.058"/>
<rect x="420" y="212.47" width="30" height="1.91" fill="#000" fill-opacity="0.096"/>
<rect x="420" y="214.38" width="30" height="1.91" fill="#000" fill-opacity="0.082"/>
<rect x="420" y="216.29" width="30" height="1.91" fill="#000" fill-opacity="0.042"/>
<rect x="420" y="231.57" width="30" height="1.91" fill="#000" fill-opacity="0.081"/>
<rect x="420" y="233.48" width="30" height="1.91" fill="#000" fill-opacity="0.064"/>
<rect x="420" y="235.39" width="30" height="1.91" fill="#000" fill-opacity="0.037"/>
<rect x="420" y="248.77" width="30" height="1.91" fill="#000" fill-opacity="0.060"/>
<rect x="420" y="250.68" width="30" height="1.91" fill="#000" fill-opacity="0.056"/>
<rect x="450" y="74.90" width="29" height="1.91" fill="#000" fill-opacity="0.096"/>
<rect x="450" y="76.81" width="29" height="1.91" fill="#000" fill-opacity="0.097"/>
<rect x="450" y="78.72" width="29" height="1.91" fill="#000" fill-opacity="0.061"/>
<rect x="450" y="80.63" width="29" height="1.91" fill="#000" fill-opacity="0.035"/>
<rect x="450" y="82.54" width="29" height="1.91" fill="#000" fill-opacity="0.089"/>
<rect x="450" y="88.27" width="29" height="1.91" fill="#000" fill-opacity="0.057"/>
<rect x="450" y="90.19" width="29" height="1.91" fill="#000" fill-opacity="0.062"/>
<rect x="450" y="94.01" width="29" height="1.91" fill="#000" fill-opacity="0.063"/>
<rect x="450" y="97.83" width="29" height="1.91" fill="#000" fill-opacity="0.089"/>
<rect x="450" y="99.74" width="29" height="1.91" fill="#000" fill-opacity="0.038"/>
<rect x="450" y="101.65" width="29" height="1.91" fill="#000" fill-opacity="0.043"/>
<rect x="450" y="103.56" width="29" height="1.91" fill="#000" fill-opacity="0.023"/>
<rect x="450" y="105.47" width="29" height="1.91" fill="#000" fill-opacity="0.029"/>
<rect x="450" y="107.38" width="29" height="1.91" fill="#000" fill-opacity="0.097"/>
<rect x="450" y="109.29" width="29" height="1.91" fill="#000" fill-opacity="0.038"/>
<rect x="450" y="111.20" width="29" height="1.91" fill="#000" fill-opacity="0.096"/>
<rect x="450" y="113.11" width="29" height="1.91" fill="#000" fill-opacity="0.091"/>
<rect x="450" y="115.02" width="29" height="1.91" fill="#000" fill-opacity="0.060"/>
<rect x="450" y="116.93" width="29" height="1.91" fill="#000" fill-opacity="0.026"/>
<rect x="450" y="118.84" width="29" height="1.91" fill="#000" fill-opacity="0.098"/>
<rect x="450" y="120.76" width="29" height="1.91" fill="#000" fill-opacity="0.050"/>
<rect x="450" y="122.67" width="29" height="1.91" fill="#000" fill-opacity="0.042"/>
<rect x="450" y="124.58" width="29" height="1.91" fill="#000" fill-opacity="0.032"/>
<rect x="450" y="126.49" width="29" height="1.91" fill="#000" fill-opacity="0.098"/>
<rect x="450" y="128.40" width="29" height="1.91" fill="#000" fill-opacity="0.049"/>
<rect x="450" y="130.31" width="29" height="1.91" fill="#000" fill-opacity="0.029"/>
<rect x="450" y="132.22" width="29" height="1.91" fill="#000" fill-opacity="0.048"/>
<rect x="450" y="201.00" width="29" height="1.91" fill="#000" fill-opacity="0.062"/>
<rect x="450" y="252.59" width="29" height="1.91" fill="#000" fill-opacity="0.044"/>
<rect x="479" y="74.90" width="29" height="1.91" fill="#000" fill-opacity="0.029"/>
<rect x="479" y="76.81" width="29" height="1.91" fill="#000" fill-opacity="0.078"/>
<rect x="479" y="78.72" width="29" height="1.91" fill="#000" fill-opacity="0.083"/>
<rect x="479" y="82.54" width="29" height="1.91" fill="#000" fill-opacity="0.053"/>
<rect x="479" y="84.45" width="29" height="1.91" fill="#000" fill-opacity="0.027"/>
<rect x="479" y="86.36" width="29" height="1.91" fill="#000" fill-opacity="0.094"/>
<rect x="479" y="88.27" width="29" height="1.91" fill="#000" fill-opacity="0.078"/>
<rect x="479" y="90.19" width="29" height="1.91" fill="#000" fill-opacity="0.025"/>
<rect x="479" y="92.10" width="29" height="1.91" fill="#000" fill-opacity="0.027"/>
<rect x="479" y="95.92" width="29" height="1.91" fill="#000" fill-opacity="0.099"/>
<rect x="479" y="97.83" width="29" height="1.91" fill="#000" fill-opacity="0.029"/>
<rect x="479" y="99.74" width="29" height="1.91" fill="#000" fill-opacity="0.061"/>
<rect x="479" y="101.65" width="29" height="1.91" fill="#000" fill-opacity="0.047"/>
<rect x="479" y="103.56" width="29" height="1.91" fill="#000" fill-opacity="0.064"/>
<rect x="479" y="107.38" width="29" height="1.91" fill="#000" fill-opacity="0.060"/>
<rect x="479" y="109.29" width="29" height="1.91" fill="#000" fill-opacity="0.074"/>
<rect x="479" y="113.11" width="29" height="1.91" fill="#000" fill-opacity="0.076"/>
<rect x="479" y="115.02" width="29" height="1.91" fill="#000" fill-opacity="0.030"/>
<rect x="479" y="116.93" width="29" height="1.91" fill="#000" fill-opacity="0.053"/>
<rect x="479" y="118.84" width="29" height="1.91" fill="#000" fill-opacity="0.034"/>
<rect x="479" y="120.76" width="29" height="1.91" fill="#000" fill-opacity="0.030"/>
<rect x="479" y="122.67" width="29" height="1.91" fill="#000" fill-opacity="0.053"/>
<rect x="479" y="124.58" width="29" height="1.91" fill="#000" fill-opacity="0.046"/>
<rect x="479" y="126.49" width="29" height="1.91" fill="#000" fill-opacity="0.036"/>
<rect x="479" y="128.40" width="29" height="1.91" fill="#000" fill-opacity="0.075"/>
<rect x="479" y="130.31" width="29" height="1.91" fill="#000" fill-opacity="0.059"/>
<rect x="479" y="136.04" width="29" height="1.91" fill="#000" fill-opacity="0.025"/>
<rect x="479" y="137.95" width="29" height="1.91" fill="#000" fill-opacity="0.046"/>
<rect x="479" y="149.41" width="29" height="1.91" fill="#000" fill-opacity="0.092"/>
<rect x="479" y="151.33" width="29" height="1.91" fill="#000" fill-opacity="0.089"/>
<rect x="479" y="155.15" width="29" height="1.91" fill="#000" fill-opacity="0.055"/>
<rect x="479" y="158.97" width="29" height="1.91" fill="#000" fill-opacity="0.078"/>
<rect x="479" y="162.79" width="29" height="1.91" fill="#000" fill-opacity="0.043"/>
<rect x="479" y="164.70" width="29" height="1.91" fill="#000" fill-opacity="0.058"/>
<rect x="479" y="174.25" width="29" height="1.91" fill="#000" fill-opacity="0.071"/>
</g>
<polyline points="346.7,75 346.7,71.2 390.8,71.2 390.8,75" fill="none" stroke="#111" stroke-width="1.2"/>
<polyline points="434.8,75 434.8,71.2 478.9,71.2 478.9,75" fill="none" stroke="#111" stroke-width="1.2"/>
<polyline points="368.7,71.2 368.7,58 456.9,58 456.9,71.2" fill="none" stroke="#111" stroke-width="1.2"/>
<text transform="translate(349.99,280.30) rotate(-90) scale(0.834,1)" font-size="10.5" fill="#222" stroke="#222" stroke-width="0.25" font-family='"Liberation Sans", sans-serif'>mu_3</text>
<text transform="translate(379.38,280.30) rotate(-90) scale(0.834,1)" font-size="10.5" fill="#222" stroke="#222" stroke-width="0.25" font-family='"Liberation Sans", sans-serif'>mu_1</text>
<text transform="translate(408.76,280.30) rotate(-90) scale(0.834,1)" font-size="10.5" fill="#222" stroke="#222" stroke-width="0.25" font-family='"Liberation Sans", sans-serif'>mu_2</text>
<text transform="translate(438.14,280.30) rotate(-90) scale(0.987,1)" font-size="10.5" fill="#222" stroke="#222" stroke-width="0.25" font-family='"Liberation Sans", sans-serif'>wt_1</text>
<text transform="translate(467.53,280.30) rotate(-90) scale(0.987,1)" font-size="10.5" fill="#222" stroke="#222" stroke-width="0.25" font-family='"Liberation Sans", sans-serif'>wt_2</text>
<text transform="translate(496.91,280.30) rotate(-90) scale(0.987,1)" font-size="10.5" fill="#222" stroke="#222" stroke-width="0.25" font-family='"Liberation Sans", sans-serif'>wt_3</text>
<text x="66.90" y="327.60" font-size="19" font-weight="bold" fill="#111" text-anchor="start" font-family='"Liberation Sans", sans-serif' >C</text>
<text transform="translate(112.80,324.20) scale(0.7472296280174837,1)" font-size="11.2" font-weight="normal" fill="#c8283c" text-anchor="start" font-family='"Liberation Sans", sans-serif'  stroke="#c8283c" stroke-width="0.35">Up</text>
<text transform="translate(123.50,324.20) scale(0.7472296280174837,1)" font-size="11.2" font-weight="normal" fill="#333" text-anchor="start" font-family='"Liberation Sans", sans-serif'  stroke="#333" stroke-width="0.35">-</text>
<text transform="translate(126.28,324.20) scale(0.7472296280174837,1)" font-size="11.2" font-weight="normal" fill="#1a5a9a" text-anchor="start" font-family='"Liberation Sans", sans-serif'  stroke="#1a5a9a" stroke-width="0.35">Down</text>
<text transform="translate(150.01,324.20) scale(0.7472296280174837,1)" font-size="11.2" font-weight="normal" fill="#222" text-anchor="start" font-family='"Liberation Sans", sans-serif'  stroke="#222" stroke-width="0.35">regulated</text>
<rect x="187.30" y="351.90" width="259.80" height="381.90" fill="#2a2a2a" />
<rect x="187.30" y="351.90" width="9.15" height="8.55" fill="#d0233a" />
<rect x="197.75" y="351.90" width="7.97" height="8.55" fill="#d0233a" />
<rect x="207.02" y="351.90" width="7.97" height="8.55" fill="#d0233a" />
<rect x="216.29" y="351.90" width="7.97" height="8.55" fill="#d0233a" />
<rect x="225.56" y="351.90" width="7.97" height="8.55" fill="#d0233a" />
<rect x="234.83" y="351.90" width="7.97" height="8.55" fill="#d0233a" />
<rect x="244.10" y="351.90" width="7.97" height="8.55" fill="#c5c4c9" />
<rect x="253.37" y="351.90" width="7.97" height="8.55" fill="#c5c4c9" />
<rect x="262.64" y="351.90" width="7.97" height="8.55" fill="#c5c4c9" />
<rect x="271.91" y="351.90" width="7.97" height="8.55" fill="#c5c4c9" />
<rect x="281.18" y="351.90" width="7.97" height="8.55" fill="#105a97" />
<rect x="290.45" y="351.90" width="7.97" height="8.55" fill="#105a97" />
<rect x="299.72" y="351.90" width="7.97" height="8.55" fill="#105a97" />
<rect x="308.99" y="351.90" width="7.97" height="8.55" fill="#105a97" />
<rect x="318.26" y="351.90" width="7.97" height="8.55" fill="#105a97" />
<rect x="327.53" y="351.90" width="7.97" height="8.55" fill="#105a97" />
<rect x="336.80" y="351.90" width="7.97" height="8.55" fill="#105a97" />
<rect x="346.07" y="351.90" width="7.97" height="8.55" fill="#105a97" />
<rect x="355.34" y="351.90" width="7.97" height="8.55" fill="#105a97" />
<rect x="364.61" y="351.90" width="7.97" height="8.55" fill="#105a97" />
<rect x="373.88" y="351.90" width="7.97" height="8.55" fill="#c5c4c9" />
<rect x="383.15" y="351.90" width="7.97" height="8.55" fill="#c5c4c9" />
<rect x="392.42" y="351.90" width="7.97" height="8.55" fill="#c5c4c9" />
<rect x="401.69" y="351.90" width="7.97" height="8.55" fill="#c5c4c9" />
<rect x="410.96" y="351.90" width="7.97" height="8.55" fill="#c5c4c9" />
<rect x="420.23" y="351.90" width="7.97" height="8.55" fill="#c5c4c9" />
<rect x="429.50" y="351.90" width="7.97" height="8.55" fill="#c5c4c9" />
<rect x="438.77" y="351.90" width="8.33" height="8.55" fill="#c5c4c9" />
<rect x="187.30" y="361.75" width="9.15" height="8.00" fill="#d0233a" />
<rect x="197.75" y="361.75" width="7.97" height="8.00" fill="#c5c4c9" />
<rect x="207.02" y="361.75" width="7.97" height="8.00" fill="#c5c4c9" />
<rect x="216.29" y="361.75" width="7.97" height="8.00" fill="#d0233a" />
<rect x="225.56" y="361.75" width="7.97" height="8.00" fill="#c5c4c9" />
<rect x="234.83" y="361.75" width="7.97" height="8.00" fill="#d0233a" />
<rect x="244.10" y="361.75" width="7.97" height="8.00" fill="#c5c4c9" />
<rect x="253.37" y="361.75" width="7.97" height="8.00" fill="#c5c4c9" />
<rect x="262.64" y="361.75" width="7.97" height="8.00" fill="#c5c4c9" />
<rect x="271.91" y="361.75" width="7.97" height="8.00" fill="#c5c4c9" />
<rect x="281.18" y="361.75" width="7.97" height="8.00" fill="#c5c4c9" />
<rect x="290.45" y="361.75" width="7.97" height="8.00" fill="#c5c4c9" />
<rect x="299.72" y="361.75" width="7.97" height="8.00" fill="#c5c4c9" />
<rect x="308.99" y="361.75" width="7.97" height="8.00" fill="#105a97" />
<rect x="318.26" y="361.75" width="7.97" height="8.00" fill="#c5c4c9" />
<rect x="327.53" y="361.75" width="7.97" height="8.00" fill="#105a97" />
<rect x="336.80" y="361.75" width="7.97" height="8.00" fill="#c5c4c9" />
<rect x="346.07" y="361.75" width="7.97" height="8.00" fill="#c5c4c9" />
<rect x="355.34" y="361.75" width="7.97" height="8.00" fill="#105a97" />
<rect x="364.61" y="361.75" width="7.97" height="8.00" fill="#105a97" />
<rect x="373.88" y="361.75" width="7.97" height="8.00" fill="#c5c4c9" />
<rect x="383.15" y="361.75" width="7.97" height="8.00" fill="#c5c4c9" />
<rect x="392.42" y="361.75" width="7.97" height="8.00" fill="#c5c4c9" />
<rect x="401.69" y="361.75" width="7.97" height="8.00" fill="#c5c4c9" />
<rect x="410.96" y="361.75" width="7.97" height="8.00" fill="#c5c4c9" />
<rect x="420.23" y="361.75" width="7.97" height="8.00" fill="#c5c4c9" />
<rect x="429.50" y="361.75" width="7.97" height="8.00" fill="#c5c4c9" />
<rect x="438.77" y="361.75" width="8.33" height="8.00" fill="#c5c4c9" />
<rect x="187.30" y="371.05" width="9.15" height="16.90" fill="#c5c4c9" />
<rect x="197.75" y="371.05" width="7.97" height="16.90" fill="#c5c4c9" />
<rect x="207.02" y="371.05" width="7.97" height="16.90" fill="#c5c4c9" />
<rect x="216.29" y="371.05" width="7.97" height="16.90" fill="#c5c4c9" />
<rect x="225.56" y="371.05" width="7.97" height="16.90" fill="#c5c4c9" />
<rect x="234.83" y="371.05" width="7.97" height="16.90" fill="#c5c4c9" />
<rect x="244.10" y="371.05" width="7.97" height="16.90" fill="#c5c4c9" />
<rect x="253.37" y="371.05" width="7.97" height="16.90" fill="#c5c4c9" />
<rect x="262.64" y="371.05" width="7.97" height="16.90" fill="#d0233a" />
<rect x="271.91" y="371.05" width="7.97" height="16.90" fill="#d0233a" />
<rect x="281.18" y="371.05" width="7.97" height="16.90" fill="#c5c4c9" />
<rect x="290.45" y="371.05" width="7.97" height="16.90" fill="#c5c4c9" />
<rect x="299.72" y="371.05" width="7.97" height="16.90" fill="#c5c4c9" />
<rect x="308.99" y="371.05" width="7.97" height="16.90" fill="#c5c4c9" />
<rect x="318.26" y="371.05" width="7.97" height="16.90" fill="#c5c4c9" />
<rect x="327.53" y="371.05" width="7.97" height="16.90" fill="#105a97" />
<rect x="336.80" y="371.05" width="7.97" height="16.90" fill="#105a97" />
<rect x="346.07" y="371.05" width="7.97" height="16.90" fill="#105a97" />
<rect x="355.34" y="371.05" width="7.97" height="16.90" fill="#c5c4c9" />
<rect x="364.61" y="371.05" width="7.97" height="16.90" fill="#c5c4c9" />
<rect x="373.88" y="371.05" width="7.97" height="16.90" fill="#c5c4c9" />
<rect x="383.15" y="371.05" width="7.97" height="16.90" fill="#c5c4c9" />
<rect x="392.42" y="371.05" width="7.97" height="16.90" fill="#c5c4c9" />
<rect x="401.69" y="371.05" width="7.97" height="16.90" fill="#c5c4c9" />
<rect x="410.96" y="371.05" width="7.97" height="16.90" fill="#c5c4c9" />
<rect x="420.23" y="371.05" width="7.97" height="16.90" fill="#c5c4c9" />
<rect x="429.50" y="371.05" width="7.97" height="16.90" fill="#c5c4c9" />
<rect x="438.77" y="371.05" width="8.33" height="16.90" fill="#c5c4c9" />
<rect x="187.30" y="389.25" width="9.15" height="8.40" fill="#c5c4c9" />
<rect x="197.75" y="389.25" width="7.97" height="8.40" fill="#c5c4c9" />
<rect x="207.02" y="389.25" width="7.97" height="8.40" fill="#c5c4c9" />
<rect x="216.29" y="389.25" width="7.97" height="8.40" fill="#c5c4c9" />
<rect x="225.56" y="389.25" width="7.97" height="8.40" fill="#c5c4c9" />
<rect x="234.83" y="389.25" width="7.97" height="8.40" fill="#c5c4c9" />
<rect x="244.10" y="389.25" width="7.97" height="8.40" fill="#d0233a" />
<rect x="253.37" y="389.25" width="7.97" height="8.40" fill="#c5c4c9" />
<rect x="262.64" y="389.25" width="7.97" height="8.40" fill="#c5c4c9" />
<rect x="271.91" y="389.25" width="7.97" height="8.40" fill="#c5c4c9" />
<rect x="281.18" y="389.25" width="7.97" height="8.40" fill="#c5c4c9" />
<rect x="290.45" y="389.25" width="7.97" height="8.40" fill="#c5c4c9" />
<rect x="299.72" y="389.25" width="7.97" height="8.40" fill="#c5c4c9" />
<rect x="308.99" y="389.25" width="7.97" height="8.40" fill="#c5c4c9" />
<rect x="318.26" y="389.25" width="7.97" height="8.40" fill="#c5c4c9" />
<rect x="327.53" y="389.25" width="7.97" height="8.40" fill="#105a97" />
<rect x="336.80" y="389.25" width="7.97" height="8.40" fill="#105a97" />
<rect x="346.07" y="389.25" width="7.97" height="8.40" fill="#105a97" />
<rect x="355.34" y="389.25" width="7.97" height="8.40" fill="#c5c4c9" />
<rect x="364.61" y="389.25" width="7.97" height="8.40" fill="#c5c4c9" />
<rect x="373.88" y="389.25" width="7.97" height="8.40" fill="#c5c4c9" />
<rect x="383.15" y="389.25" width="7.97" height="8.40" fill="#c5c4c9" />
<rect x="392.42" y="389.25" width="7.97" height="8.40" fill="#c5c4c9" />
<rect x="401.69" y="389.25" width="7.97" height="8.40" fill="#c5c4c9" />
<rect x="410.96" y="389.25" width="7.97" height="8.40" fill="#c5c4c9" />
<rect x="420.23" y="389.25" width="7.97" height="8.40" fill="#c5c4c9" />
<rect x="429.50" y="389.25" width="7.97" height="8.40" fill="#c5c4c9" />
<rect x="438.77" y="389.25" width="8.33" height="8.40" fill="#c5c4c9" />
<rect x="187.30" y="398.95" width="9.15" height="7.70" fill="#c5c4c9" />
<rect x="197.75" y="398.95" width="7.97" height="7.70" fill="#c5c4c9" />
<rect x="207.02" y="398.95" width="7.97" height="7.70" fill="#c5c4c9" />
<rect x="216.29" y="398.95" width="7.97" height="7.70" fill="#c5c4c9" />
<rect x="225.56" y="398.95" width="7.97" height="7.70" fill="#c5c4c9" />
<rect x="234.83" y="398.95" width="7.97" height="7.70" fill="#c5c4c9" />
<rect x="244.10" y="398.95" width="7.97" height="7.70" fill="#d0233a" />
<rect x="253.37" y="398.95" width="7.97" height="7.70" fill="#c5c4c9" />
<rect x="262.64" y="398.95" width="7.97" height="7.70" fill="#c5c4c9" />
<rect x="271.91" y="398.95" width="7.97" height="7.70" fill="#c5c4c9" />
<rect x="281.18" y="398.95" width="7.97" height="7.70" fill="#c5c4c9" />
<rect x="290.45" y="398.95" width="7.97" height="7.70" fill="#c5c4c9" />
<rect x="299.72" y="398.95" width="7.97" height="7.70" fill="#c5c4c9" />
<rect x="308.99" y="398.95" width="7.97" height="7.70" fill="#c5c4c9" />
<rect x="318.26" y="398.95" width="7.97" height="7.70" fill="#c5c4c9" />
<rect x="327.53" y="398.95" width="7.97" height="7.70" fill="#105a97" />
<rect x="336.80" y="398.95" width="7.97" height="7.70" fill="#105a97" />
<rect x="346.07" y="398.95" width="7.97" height="7.70" fill="#105a97" />
<rect x="355.34" y="398.95" width="7.97" height="7.70" fill="#c5c4c9" />
<rect x="364.61" y="398.95" width="7.97" height="7.70" fill="#c5c4c9" />
<rect x="373.88" y="398.95" width="7.97" height="7.70" fill="#c5c4c9" />
<rect x="383.15" y="398.95" width="7.97" height="7.70" fill="#c5c4c9" />
<rect x="392.42" y="398.95" width="7.97" height="7.70" fill="#c5c4c9" />
<rect x="401.69" y="398.95" width="7.97" height="7.70" fill="#c5c4c9" />
<rect x="410.96" y="398.95" width="7.97" height="7.70" fill="#c5c4c9" />
<rect x="420.23" y="398.95" width="7.97" height="7.70" fill="#c5c4c9" />
<rect x="429.50" y="398.95" width="7.97" height="7.70" fill="#c5c4c9" />
<rect x="438.77" y="398.95" width="8.33" height="7.70" fill="#c5c4c9" />
<rect x="187.30" y="407.95" width="9.15" height="8.10" fill="#c5c4c9" />
<rect x="197.75" y="407.95" width="7.97" height="8.10" fill="#c5c4c9" />
<rect x="207.02" y="407.95" width="7.97" height="8.10" fill="#c5c4c9" />
<rect x="216.29" y="407.95" width="7.97" height="8.10" fill="#c5c4c9" />
<rect x="225.56" y="407.95" width="7.97" height="8.10" fill="#c5c4c9" />
<rect x="234.83" y="407.95" width="7.97" height="8.10" fill="#c5c4c9" />
<rect x="244.10" y="407.95" width="7.97" height="8.10" fill="#c5c4c9" />
<rect x="253.37" y="407.95" width="7.97" height="8.10" fill="#c5c4c9" />
<rect x="262.64" y="407.95" width="7.97" height="8.10" fill="#c5c4c9" />
<rect x="271.91" y="407.95" width="7.97" height="8.10" fill="#d0233a" />
<rect x="281.18" y="407.95" width="7.97" height="8.10" fill="#c5c4c9" />
<rect x="290.45" y="407.95" width="7.97" height="8.10" fill="#c5c4c9" />
<rect x="299.72" y="407.95" width="7.97" height="8.10" fill="#c5c4c9" />
<rect x="308.99" y="407.95" width="7.97" height="8.10" fill="#c5c4c9" />
<rect x="318.26" y="407.95" width="7.97" height="8.10" fill="#c5c4c9" />
<rect x="327.53" y="407.95" width="7.97" height="8.10" fill="#105a97" />
<rect x="336.80" y="407.95" width="7.97" height="8.10" fill="#105a97" />
<rect x="346.07" y="407.95" width="7.97" height="8.10" fill="#105a97" />
<rect x="355.34" y="407.95" width="7.97" height="8.10" fill="#c5c4c9" />
<rect x="364.61" y="407.95" width="7.97" height="8.10" fill="#c5c4c9" />
<rect x="373.88" y="407.95" width="7.97" height="8.10" fill="#c5c4c9" />
<rect x="383.15" y="407.95" width="7.97" height="8.10" fill="#c5c4c9" />
<rect x="392.42" y="407.95" width="7.97" height="8.10" fill="#c5c4c9" />
<rect x="401.69" y="407.95" width="7.97" height="8.10" fill="#c5c4c9" />
<rect x="410.96" y="407.95" width="7.97" height="8.10" fill="#c5c4c9" />
<rect x="420.23" y="407.95" width="7.97" height="8.10" fill="#c5c4c9" />
<rect x="429.50" y="407.95" width="7.97" height="8.10" fill="#c5c4c9" />
<rect x="438.77" y="407.95" width="8.33" height="8.10" fill="#c5c4c9" />
<rect x="187.30" y="417.35" width="9.15" height="8.30" fill="#c5c4c9" />
<rect x="197.75" y="417.35" width="7.97" height="8.30" fill="#c5c4c9" />
<rect x="207.02" y="417.35" width="7.97" height="8.30" fill="#c5c4c9" />
<rect x="216.29" y="417.35" width="7.97" height="8.30" fill="#c5c4c9" />
<rect x="225.56" y="417.35" width="7.97" height="8.30" fill="#c5c4c9" />
<rect x="234.83" y="417.35" width="7.97" height="8.30" fill="#c5c4c9" />
<rect x="244.10" y="417.35" width="7.97" height="8.30" fill="#c5c4c9" />
<rect x="253.37" y="417.35" width="7.97" height="8.30" fill="#c5c4c9" />
<rect x="262.64" y="417.35" width="7.97" height="8.30" fill="#c5c4c9" />
<rect x="271.91" y="417.35" width="7.97" height="8.30" fill="#c5c4c9" />
<rect x="281.18" y="417.35" width="7.97" height="8.30" fill="#c5c4c9" />
<rect x="290.45" y="417.35" width="7.97" height="8.30" fill="#105a97" />
<rect x="299.72" y="417.35" width="7.97" height="8.30" fill="#c5c4c9" />
<rect x="308.99" y="417.35" width="7.97" height="8.30" fill="#c5c4c9" />
<rect x="318.26" y="417.35" width="7.97" height="8.30" fill="#c5c4c9" />
<rect x="327.53" y="417.35" width="7.97" height="8.30" fill="#105a97" />
<rect x="336.80" y="417.35" width="7.97" height="8.30" fill="#c5c4c9" />
<rect x="346.07" y="417.35" width="7.97" height="8.30" fill="#c5c4c9" />
<rect x="355.34" y="417.35" width="7.97" height="8.30" fill="#c5c4c9" />
<rect x="364.61" y="417.35" width="7.97" height="8.30" fill="#c5c4c9" />
<rect x="373.88" y="417.35" width="7.97" height="8.30" fill="#c5c4c9" />
<rect x="383.15" y="417.35" width="7.97" height="8.30" fill="#c5c4c9" />
<rect x="392.42" y="417.35" width="7.97" height="8.30" fill="#105a97" />
<rect x="401.69" y="417.35" width="7.97" height="8.30" fill="#105a97" />
<rect x="410.96" y="417.35" width="7.97" height="8.30" fill="#105a97" />
<rect x="420.23" y="417.35" width="7.97" height="8.30" fill="#c5c4c9" />
<rect x="429.50" y="417.35" width="7.97" height="8.30" fill="#c5c4c9" />
<rect x="438.77" y="417.35" width="8.33" height="8.30" fill="#c5c4c9" />
<rect x="187.30" y="426.95" width="9.15" height="16.80" fill="#c5c4c9" />
<rect x="197.75" y="426.95" width="7.97" height="16.80" fill="#c5c4c9" />
<rect x="207.02" y="426.95" width="7.97" height="16.80" fill="#c5c4c9" />
<rect x="216.29" y="426.95" width="7.97" height="16.80" fill="#c5c4c9" />
<rect x="225.56" y="426.95" width="7.97" height="16.80" fill="#c5c4c9" />
<rect x="234.83" y="426.95" width="7.97" height="16.80" fill="#c5c4c9" />
<rect x="244.10" y="426.95" width="7.97" height="16.80" fill="#c5c4c9" />
<rect x="253.37" y="426.95" width="7.97" height="16.80" fill="#c5c4c9" />
<rect x="262.64" y="426.95" width="7.97" height="16.80" fill="#c5c4c9" />
<rect x="271.91" y="426.95" width="7.97" height="16.80" fill="#d0233a" />
<rect x="281.18" y="426.95" width="7.97" height="16.80" fill="#c5c4c9" />
<rect x="290.45" y="426.95" width="7.97" height="16.80" fill="#c5c4c9" />
<rect x="299.72" y="426.95" width="7.97" height="16.80" fill="#c5c4c9" />
<rect x="308.99" y="426.95" width="7.97" height="16.80" fill="#c5c4c9" />
<rect x="318.26" y="426.95" width="7.97" height="16.80" fill="#c5c4c9" />
<rect x="327.53" y="426.95" width="7.97" height="16.80" fill="#105a97" />
<rect x="336.80" y="426.95" width="7.97" height="16.80" fill="#105a97" />
<rect x="346.07" y="426.95" width="7.97" height="16.80" fill="#105a97" />
<rect x="355.34" y="426.95" width="7.97" height="16.80" fill="#c5c4c9" />
<rect x="364.61" y="426.95" width="7.97" height="16.80" fill="#c5c4c9" />
<rect x="373.88" y="426.95" width="7.97" height="16.80" fill="#c5c4c9" />
<rect x="383.15" y="426.95" width="7.97" height="16.80" fill="#c5c4c9" />
<rect x="392.42" y="426.95" width="7.97" height="16.80" fill="#c5c4c9" />
<rect x="401.69" y="426.95" width="7.97" height="16.80" fill="#c5c4c9" />
<rect x="410.96" y="426.95" width="7.97" height="16.80" fill="#c5c4c9" />
<rect x="420.23" y="426.95" width="7.97" height="16.80" fill="#c5c4c9" />
<rect x="429.50" y="426.95" width="7.97" height="16.80" fill="#c5c4c9" />
<rect x="438.77" y="426.95" width="8.33" height="16.80" fill="#c5c4c9" />
<rect x="187.30" y="445.05" width="9.15" height="17.10" fill="#c5c4c9" />
<rect x="197.75" y="445.05" width="7.97" height="17.10" fill="#c5c4c9" />
<rect x="207.02" y="445.05" width="7.97" height="17.10" fill="#c5c4c9" />
<rect x="216.29" y="445.05" width="7.97" height="17.10" fill="#c5c4c9" />
<rect x="225.56" y="445.05" width="7.97" height="17.10" fill="#c5c4c9" />
<rect x="234.83" y="445.05" width="7.97" height="17.10" fill="#c5c4c9" />
<rect x="244.10" y="445.05" width="7.97" height="17.10" fill="#c5c4c9" />
<rect x="253.37" y="445.05" width="7.97" height="17.10" fill="#c5c4c9" />
<rect x="262.64" y="445.05" width="7.97" height="17.10" fill="#c5c4c9" />
<rect x="271.91" y="445.05" width="7.97" height="17.10" fill="#d0233a" />
<rect x="281.18" y="445.05" width="7.97" height="17.10" fill="#c5c4c9" />
<rect x="290.45" y="445.05" width="7.97" height="17.10" fill="#c5c4c9" />
<rect x="299.72" y="445.05" width="7.97" height="17.10" fill="#c5c4c9" />
<rect x="308.99" y="445.05" width="7.97" height="17.10" fill="#c5c4c9" />
<rect x="318.26" y="445.05" width="7.97" height="17.10" fill="#c5c4c9" />
<rect x="327.53" y="445.05" width="7.97" height="17.10" fill="#105a97" />
<rect x="336.80" y="445.05" width="7.97" height="17.10" fill="#105a97" />
<rect x="346.07" y="445.05" width="7.97" height="17.10" fill="#105a97" />
<rect x="355.34" y="445.05" width="7.97" height="17.10" fill="#c5c4c9" />
<rect x="364.61" y="445.05" width="7.97" height="17.10" fill="#c5c4c9" />
<rect x="373.88" y="445.05" width="7.97" height="17.10" fill="#c5c4c9" />
<rect x="383.15" y="445.05" width="7.97" height="17.10" fill="#c5c4c9" />
<rect x="392.42" y="445.05" width="7.97" height="17.10" fill="#c5c4c9" />
<rect x="401.69" y="445.05" width="7.97" height="17.10" fill="#c5c4c9" />
<rect x="410.96" y="445.05" width="7.97" height="17.10" fill="#c5c4c9" />
<rect x="420.23" y="445.05" width="7.97" height="17.10" fill="#c5c4c9" />
<rect x="429.50" y="445.05" width="7.97" height="17.10" fill="#c5c4c9" />
<rect x="438.77" y="445.05" width="8.33" height="17.10" fill="#c5c4c9" />
<rect x="187.30" y="463.45" width="9.15" height="8.20" fill="#c5c4c9" />
<rect x="197.75" y="463.45" width="7.97" height="8.20" fill="#c5c4c9" />
<rect x="207.02" y="463.45" width="7.97" height="8.20" fill="#c5c4c9" />
<rect x="216.29" y="463.45" width="7.97" height="8.20" fill="#c5c4c9" />
<rect x="225.56" y="463.45" width="7.97" height="8.20" fill="#c5c4c9" />
<rect x="234.83" y="463.45" width="7.97" height="8.20" fill="#c5c4c9" />
<rect x="244.10" y="463.45" width="7.97" height="8.20" fill="#c5c4c9" />
<rect x="253.37" y="463.45" width="7.97" height="8.20" fill="#c5c4c9" />
<rect x="262.64" y="463.45" width="7.97" height="8.20" fill="#d0233a" />
<rect x="271.91" y="463.45" width="7.97" height="8.20" fill="#c5c4c9" />
<rect x="281.18" y="463.45" width="7.97" height="8.20" fill="#c5c4c9" />
<rect x="290.45" y="463.45" width="7.97" height="8.20" fill="#c5c4c9" />
<rect x="299.72" y="463.45" width="7.97" height="8.20" fill="#c5c4c9" />
<rect x="308.99" y="463.45" width="7.97" height="8.20" fill="#c5c4c9" />
<rect x="318.26" y="463.45" width="7.97" height="8.20" fill="#c5c4c9" />
<rect x="327.53" y="463.45" width="7.97" height="8.20" fill="#105a97" />
<rect x="336.80" y="463.45" width="7.97" height="8.20" fill="#c5c4c9" />
<rect x="346.07" y="463.45" width="7.97" height="8.20" fill="#c5c4c9" />
<rect x="355.34" y="463.45" width="7.97" height="8.20" fill="#c5c4c9" />
<rect x="364.61" y="463.45" width="7.97" height="8.20" fill="#c5c4c9" />
<rect x="373.88" y="463.45" width="7.97" height="8.20" fill="#c5c4c9" />
<rect x="383.15" y="463.45" width="7.97" height="8.20" fill="#c5c4c9" />
<rect x="392.42" y="463.45" width="7.97" height="8.20" fill="#c5c4c9" />
<rect x="401.69" y="463.45" width="7.97" height="8.20" fill="#c5c4c9" />
<rect x="410.96" y="463.45" width="7.97" height="8.20" fill="#c5c4c9" />
<rect x="420.23" y="463.45" width="7.97" height="8.20" fill="#105a97" />
<rect x="429.50" y="463.45" width="7.97" height="8.20" fill="#105a97" />
<rect x="438.77" y="463.45" width="8.33" height="8.20" fill="#c5c4c9" />
<rect x="187.30" y="472.95" width="9.15" height="7.70" fill="#c5c4c9" />
<rect x="197.75" y="472.95" width="7.97" height="7.70" fill="#c5c4c9" />
<rect x="207.02" y="472.95" width="7.97" height="7.70" fill="#c5c4c9" />
<rect x="216.29" y="472.95" width="7.97" height="7.70" fill="#c5c4c9" />
<rect x="225.56" y="472.95" width="7.97" height="7.70" fill="#c5c4c9" />
<rect x="234.83" y="472.95" width="7.97" height="7.70" fill="#c5c4c9" />
<rect x="244.10" y="472.95" width="7.97" height="7.70" fill="#c5c4c9" />
<rect x="253.37" y="472.95" width="7.97" height="7.70" fill="#c5c4c9" />
<rect x="262.64" y="472.95" width="7.97" height="7.70" fill="#d0233a" />
<rect x="271.91" y="472.95" width="7.97" height="7.70" fill="#c5c4c9" />
<rect x="281.18" y="472.95" width="7.97" height="7.70" fill="#c5c4c9" />
<rect x="290.45" y="472.95" width="7.97" height="7.70" fill="#c5c4c9" />
<rect x="299.72" y="472.95" width="7.97" height="7.70" fill="#c5c4c9" />
<rect x="308.99" y="472.95" width="7.97" height="7.70" fill="#c5c4c9" />
<rect x="318.26" y="472.95" width="7.97" height="7.70" fill="#c5c4c9" />
<rect x="327.53" y="472.95" width="7.97" height="7.70" fill="#105a97" />
<rect x="336.80" y="472.95" width="7.97" height="7.70" fill="#c5c4c9" />
<rect x="346.07" y="472.95" width="7.97" height="7.70" fill="#c5c4c9" />
<rect x="355.34" y="472.95" width="7.97" height="7.70" fill="#c5c4c9" />
<rect x="364.61" y="472.95" width="7.97" height="7.70" fill="#c5c4c9" />
<rect x="373.88" y="472.95" width="7.97" height="7.70" fill="#c5c4c9" />
<rect x="383.15" y="472.95" width="7.97" height="7.70" fill="#c5c4c9" />
<rect x="392.42" y="472.95" width="7.97" height="7.70" fill="#c5c4c9" />
<rect x="401.69" y="472.95" width="7.97" height="7.70" fill="#c5c4c9" />
<rect x="410.96" y="472.95" width="7.97" height="7.70" fill="#c5c4c9" />
<rect x="420.23" y="472.95" width="7.97" height="7.70" fill="#105a97" />
<rect x="429.50" y="472.95" width="7.97" height="7.70" fill="#105a97" />
<rect x="438.77" y="472.95" width="8.33" height="7.70" fill="#c5c4c9" />
<rect x="187.30" y="481.95" width="9.15" height="7.90" fill="#c5c4c9" />
<rect x="197.75" y="481.95" width="7.97" height="7.90" fill="#c5c4c9" />
<rect x="207.02" y="481.95" width="7.97" height="7.90" fill="#c5c4c9" />
<rect x="216.29" y="481.95" width="7.97" height="7.90" fill="#c5c4c9" />
<rect x="225.56" y="481.95" width="7.97" height="7.90" fill="#c5c4c9" />
<rect x="234.83" y="481.95" width="7.97" height="7.90" fill="#c5c4c9" />
<rect x="244.10" y="481.95" width="7.97" height="7.90" fill="#d0233a" />
<rect x="253.37" y="481.95" width="7.97" height="7.90" fill="#c5c4c9" />
<rect x="262.64" y="481.95" width="7.97" height="7.90" fill="#c5c4c9" />
<rect x="271.91" y="481.95" width="7.97" height="7.90" fill="#c5c4c9" />
<rect x="281.18" y="481.95" width="7.97" height="7.90" fill="#c5c4c9" />
<rect x="290.45" y="481.95" width="7.97" height="7.90" fill="#c5c4c9" />
<rect x="299.72" y="481.95" width="7.97" height="7.90" fill="#c5c4c9" />
<rect x="308.99" y="481.95" width="7.97" height="7.90" fill="#c5c4c9" />
<rect x="318.26" y="481.95" width="7.97" height="7.90" fill="#c5c4c9" />
<rect x="327.53" y="481.95" width="7.97" height="7.90" fill="#105a97" />
<rect x="336.80" y="481.95" width="7.97" height="7.90" fill="#105a97" />
<rect x="346.07" y="481.95" width="7.97" height="7.90" fill="#105a97" />
<rect x="355.34" y="481.95" width="7.97" height="7.90" fill="#c5c4c9" />
<rect x="364.61" y="481.95" width="7.97" height="7.90" fill="#c5c4c9" />
<rect x="373.88" y="481.95" width="7.97" height="7.90" fill="#c5c4c9" />
<rect x="383.15" y="481.95" width="7.97" height="7.90" fill="#c5c4c9" />
<rect x="392.42" y="481.95" width="7.97" height="7.90" fill="#c5c4c9" />
<rect x="401.69" y="481.95" width="7.97" height="7.90" fill="#c5c4c9" />
<rect x="410.96" y="481.95" width="7.97" height="7.90" fill="#c5c4c9" />
<rect x="420.23" y="481.95" width="7.97" height="7.90" fill="#c5c4c9" />
<rect x="429.50" y="481.95" width="7.97" height="7.90" fill="#c5c4c9" />
<rect x="438.77" y="481.95" width="8.33" height="7.90" fill="#c5c4c9" />
<rect x="187.30" y="491.15" width="9.15" height="8.40" fill="#c5c4c9" />
<rect x="197.75" y="491.15" width="7.97" height="8.40" fill="#c5c4c9" />
<rect x="207.02" y="491.15" width="7.97" height="8.40" fill="#c5c4c9" />
<rect x="216.29" y="491.15" width="7.97" height="8.40" fill="#c5c4c9" />
<rect x="225.56" y="491.15" width="7.97" height="8.40" fill="#c5c4c9" />
<rect x="234.83" y="491.15" width="7.97" height="8.40" fill="#c5c4c9" />
<rect x="244.10" y="491.15" width="7.97" height="8.40" fill="#d0233a" />
<rect x="253.37" y="491.15" width="7.97" height="8.40" fill="#c5c4c9" />
<rect x="262.64" y="491.15" width="7.97" height="8.40" fill="#c5c4c9" />
<rect x="271.91" y="491.15" width="7.97" height="8.40" fill="#c5c4c9" />
<rect x="281.18" y="491.15" width="7.97" height="8.40" fill="#c5c4c9" />
<rect x="290.45" y="491.15" width="7.97" height="8.40" fill="#c5c4c9" />
<rect x="299.72" y="491.15" width="7.97" height="8.40" fill="#c5c4c9" />
<rect x="308.99" y="491.15" width="7.97" height="8.40" fill="#c5c4c9" />
<rect x="318.26" y="491.15" width="7.97" height="8.40" fill="#c5c4c9" />
<rect x="327.53" y="491.15" width="7.97" height="8.40" fill="#105a97" />
<rect x="336.80" y="491.15" width="7.97" height="8.40" fill="#105a97" />
<rect x="346.07" y="491.15" width="7.97" height="8.40" fill="#105a97" />
<rect x="355.34" y="491.15" width="7.97" height="8.40" fill="#c5c4c9" />
<rect x="364.61" y="491.15" width="7.97" height="8.40" fill="#c5c4c9" />
<rect x="373.88" y="491.15" width="7.97" height="8.40" fill="#c5c4c9" />
<rect x="383.15" y="491.15" width="7.97" height="8.40" fill="#c5c4c9" />
<rect x="392.42" y="491.15" width="7.97" height="8.40" fill="#c5c4c9" />
<rect x="401.69" y="491.15" width="7.97" height="8.40" fill="#c5c4c9" />
<rect x="410.96" y="491.15" width="7.97" height="8.40" fill="#c5c4c9" />
<rect x="420.23" y="491.15" width="7.97" height="8.40" fill="#c5c4c9" />
<rect x="429.50" y="491.15" width="7.97" height="8.40" fill="#c5c4c9" />
<rect x="438.77" y="491.15" width="8.33" height="8.40" fill="#c5c4c9" />
<rect x="187.30" y="500.85" width="9.15" height="17.90" fill="#c5c4c9" />
<rect x="197.75" y="500.85" width="7.97" height="17.90" fill="#c5c4c9" />
<rect x="207.02" y="500.85" width="7.97" height="17.90" fill="#c5c4c9" />
<rect x="216.29" y="500.85" width="7.97" height="17.90" fill="#c5c4c9" />
<rect x="225.56" y="500.85" width="7.97" height="17.90" fill="#c5c4c9" />
<rect x="234.83" y="500.85" width="7.97" height="17.90" fill="#c5c4c9" />
<rect x="244.10" y="500.85" width="7.97" height="17.90" fill="#c5c4c9" />
<rect x="253.37" y="500.85" width="7.97" height="17.90" fill="#c5c4c9" />
<rect x="262.64" y="500.85" width="7.97" height="17.90" fill="#c5c4c9" />
<rect x="271.91" y="500.85" width="7.97" height="17.90" fill="#c5c4c9" />
<rect x="281.18" y="500.85" width="7.97" height="17.90" fill="#c5c4c9" />
<rect x="290.45" y="500.85" width="7.97" height="17.90" fill="#c5c4c9" />
<rect x="299.72" y="500.85" width="7.97" height="17.90" fill="#c5c4c9" />
<rect x="308.99" y="500.85" width="7.97" height="17.90" fill="#c5c4c9" />
<rect x="318.26" y="500.85" width="7.97" height="17.90" fill="#c5c4c9" />
<rect x="327.53" y="500.85" width="7.97" height="17.90" fill="#105a97" />
<rect x="336.80" y="500.85" width="7.97" height="17.90" fill="#c5c4c9" />
<rect x="346.07" y="500.85" width="7.97" height="17.90" fill="#c5c4c9" />
<rect x="355.34" y="500.85" width="7.97" height="17.90" fill="#c5c4c9" />
<rect x="364.61" y="500.85" width="7.97" height="17.90" fill="#c5c4c9" />
<rect x="373.88" y="500.85" width="7.97" height="17.90" fill="#c5c4c9" />
<rect x="383.15" y="500.85" width="7.97" height="17.90" fill="#c5c4c9" />
<rect x="392.42" y="500.85" width="7.97" height="17.90" fill="#105a97" />
<rect x="401.69" y="500.85" width="7.97" height="17.90" fill="#c5c4c9" />
<rect x="410.96" y="500.85" width="7.97" height="17.90" fill="#105a97" />
<rect x="420.23" y="500.85" width="7.97" height="17.90" fill="#c5c4c9" />
<rect x="429.50" y="500.85" width="7.97" height="17.90" fill="#c5c4c9" />
<rect x="438.77" y="500.85" width="8.33" height="17.90" fill="#c5c4c9" />
<rect x="187.30" y="520.05" width="9.15" height="7.90" fill="#c5c4c9" />
<rect x="197.75" y="520.05" width="7.97" height="7.90" fill="#c5c4c9" />
<rect x="207.02" y="520.05" width="7.97" height="7.90" fill="#c5c4c9" />
<rect x="216.29" y="520.05" width="7.97" height="7.90" fill="#c5c4c9" />
<rect x="225.56" y="520.05" width="7.97" height="7.90" fill="#c5c4c9" />
<rect x="234.83" y="520.05" width="7.97" height="7.90" fill="#c5c4c9" />
<rect x="244.10" y="520.05" width="7.97" height="7.90" fill="#c5c4c9" />
<rect x="253.37" y="520.05" width="7.97" height="7.90" fill="#c5c4c9" />
<rect x="262.64" y="520.05" width="7.97" height="7.90" fill="#c5c4c9" />
<rect x="271.91" y="520.05" width="7.97" height="7.90" fill="#c5c4c9" />
<rect x="281.18" y="520.05" width="7.97" height="7.90" fill="#c5c4c9" />
<rect x="290.45" y="520.05" width="7.97" height="7.90" fill="#c5c4c9" />
<rect x="299.72" y="520.05" width="7.97" height="7.90" fill="#c5c4c9" />
<rect x="308.99" y="520.05" width="7.97" height="7.90" fill="#c5c4c9" />
<rect x="318.26" y="520.05" width="7.97" height="7.90" fill="#c5c4c9" />
<rect x="327.53" y="520.05" width="7.97" height="7.90" fill="#105a97" />
<rect x="336.80" y="520.05" width="7.97" height="7.90" fill="#105a97" />
<rect x="346.07" y="520.05" width="7.97" height="7.90" fill="#105a97" />
<rect x="355.34" y="520.05" width="7.97" height="7.90" fill="#c5c4c9" />
<rect x="364.61" y="520.05" width="7.97" height="7.90" fill="#c5c4c9" />
<rect x="373.88" y="520.05" width="7.97" height="7.90" fill="#c5c4c9" />
<rect x="383.15" y="520.05" width="7.97" height="7.90" fill="#c5c4c9" />
<rect x="392.42" y="520.05" width="7.97" height="7.90" fill="#c5c4c9" />
<rect x="401.69" y="520.05" width="7.97" height="7.90" fill="#c5c4c9" />
<rect x="410.96" y="520.05" width="7.97" height="7.90" fill="#c5c4c9" />
<rect x="420.23" y="520.05" width="7.97" height="7.90" fill="#c5c4c9" />
<rect x="429.50" y="520.05" width="7.97" height="7.90" fill="#c5c4c9" />
<rect x="438.77" y="520.05" width="8.33" height="7.90" fill="#c5c4c9" />
<rect x="187.30" y="529.25" width="9.15" height="16.80" fill="#c5c4c9" />
<rect x="197.75" y="529.25" width="7.97" height="16.80" fill="#c5c4c9" />
<rect x="207.02" y="529.25" width="7.97" height="16.80" fill="#c5c4c9" />
<rect x="216.29" y="529.25" width="7.97" height="16.80" fill="#c5c4c9" />
<rect x="225.56" y="529.25" width="7.97" height="16.80" fill="#c5c4c9" />
<rect x="234.83" y="529.25" width="7.97" height="16.80" fill="#c5c4c9" />
<rect x="244.10" y="529.25" width="7.97" height="16.80" fill="#c5c4c9" />
<rect x="253.37" y="529.25" width="7.97" height="16.80" fill="#c5c4c9" />
<rect x="262.64" y="529.25" width="7.97" height="16.80" fill="#c5c4c9" />
<rect x="271.91" y="529.25" width="7.97" height="16.80" fill="#c5c4c9" />
<rect x="281.18" y="529.25" width="7.97" height="16.80" fill="#c5c4c9" />
<rect x="290.45" y="529.25" width="7.97" height="16.80" fill="#c5c4c9" />
<rect x="299.72" y="529.25" width="7.97" height="16.80" fill="#c5c4c9" />
<rect x="308.99" y="529.25" width="7.97" height="16.80" fill="#c5c4c9" />
<rect x="318.26" y="529.25" width="7.97" height="16.80" fill="#c5c4c9" />
<rect x="327.53" y="529.25" width="7.97" height="16.80" fill="#105a97" />
<rect x="336.80" y="529.25" width="7.97" height="16.80" fill="#105a97" />
<rect x="346.07" y="529.25" width="7.97" height="16.80" fill="#105a97" />
<rect x="355.34" y="529.25" width="7.97" height="16.80" fill="#c5c4c9" />
<rect x="364.61" y="529.25" width="7.97" height="16.80" fill="#c5c4c9" />
<rect x="373.88" y="529.25" width="7.97" height="16.80" fill="#c5c4c9" />
<rect x="383.15" y="529.25" width="7.97" height="16.80" fill="#c5c4c9" />
<rect x="392.42" y="529.25" width="7.97" height="16.80" fill="#c5c4c9" />
<rect x="401.69" y="529.25" width="7.97" height="16.80" fill="#c5c4c9" />
<rect x="410.96" y="529.25" width="7.97" height="16.80" fill="#c5c4c9" />
<rect x="420.23" y="529.25" width="7.97" height="16.80" fill="#c5c4c9" />
<rect x="429.50" y="529.25" width="7.97" height="16.80" fill="#c5c4c9" />
<rect x="438.77" y="529.25" width="8.33" height="16.80" fill="#c5c4c9" />
<rect x="187.30" y="547.35" width="9.15" height="8.30" fill="#c5c4c9" />
<rect x="197.75" y="547.35" width="7.97" height="8.30" fill="#c5c4c9" />
<rect x="207.02" y="547.35" width="7.97" height="8.30" fill="#c5c4c9" />
<rect x="216.29" y="547.35" width="7.97" height="8.30" fill="#c5c4c9" />
<rect x="225.56" y="547.35" width="7.97" height="8.30" fill="#c5c4c9" />
<rect x="234.83" y="547.35" width="7.97" height="8.30" fill="#c5c4c9" />
<rect x="244.10" y="547.35" width="7.97" height="8.30" fill="#c5c4c9" />
<rect x="253.37" y="547.35" width="7.97" height="8.30" fill="#c5c4c9" />
<rect x="262.64" y="547.35" width="7.97" height="8.30" fill="#c5c4c9" />
<rect x="271.91" y="547.35" width="7.97" height="8.30" fill="#c5c4c9" />
<rect x="281.18" y="547.35" width="7.97" height="8.30" fill="#c5c4c9" />
<rect x="290.45" y="547.35" width="7.97" height="8.30" fill="#c5c4c9" />
<rect x="299.72" y="547.35" width="7.97" height="8.30" fill="#c5c4c9" />
<rect x="308.99" y="547.35" width="7.97" height="8.30" fill="#c5c4c9" />
<rect x="318.26" y="547.35" width="7.97" height="8.30" fill="#c5c4c9" />
<rect x="327.53" y="547.35" width="7.97" height="8.30" fill="#105a97" />
<rect x="336.80" y="547.35" width="7.97" height="8.30" fill="#105a97" />
<rect x="346.07" y="547.35" width="7.97" height="8.30" fill="#105a97" />
<rect x="355.34" y="547.35" width="7.97" height="8.30" fill="#c5c4c9" />
<rect x="364.61" y="547.35" width="7.97" height="8.30" fill="#c5c4c9" />
<rect x="373.88" y="547.35" width="7.97" height="8.30" fill="#c5c4c9" />
<rect x="383.15" y="547.35" width="7.97" height="8.30" fill="#c5c4c9" />
<rect x="392.42" y="547.35" width="7.97" height="8.30" fill="#c5c4c9" />
<rect x="401.69" y="547.35" width="7.97" height="8.30" fill="#c5c4c9" />
<rect x="410.96" y="547.35" width="7.97" height="8.30" fill="#c5c4c9" />
<rect x="420.23" y="547.35" width="7.97" height="8.30" fill="#c5c4c9" />
<rect x="429.50" y="547.35" width="7.97" height="8.30" fill="#c5c4c9" />
<rect x="438.77" y="547.35" width="8.33" height="8.30" fill="#c5c4c9" />
<rect x="187.30" y="556.95" width="9.15" height="7.90" fill="#c5c4c9" />
<rect x="197.75" y="556.95" width="7.97" height="7.90" fill="#c5c4c9" />
<rect x="207.02" y="556.95" width="7.97" height="7.90" fill="#c5c4c9" />
<rect x="216.29" y="556.95" width="7.97" height="7.90" fill="#c5c4c9" />
<rect x="225.56" y="556.95" width="7.97" height="7.90" fill="#c5c4c9" />
<rect x="234.83" y="556.95" width="7.97" height="7.90" fill="#c5c4c9" />
<rect x="244.10" y="556.95" width="7.97" height="7.90" fill="#d0233a" />
<rect x="253.37" y="556.95" width="7.97" height="7.90" fill="#c5c4c9" />
<rect x="262.64" y="556.95" width="7.97" height="7.90" fill="#c5c4c9" />
<rect x="271.91" y="556.95" width="7.97" height="7.90" fill="#c5c4c9" />
<rect x="281.18" y="556.95" width="7.97" height="7.90" fill="#c5c4c9" />
<rect x="290.45" y="556.95" width="7.97" height="7.90" fill="#c5c4c9" />
<rect x="299.72" y="556.95" width="7.97" height="7.90" fill="#c5c4c9" />
<rect x="308.99" y="556.95" width="7.97" height="7.90" fill="#c5c4c9" />
<rect x="318.26" y="556.95" width="7.97" height="7.90" fill="#c5c4c9" />
<rect x="327.53" y="556.95" width="7.97" height="7.90" fill="#105a97" />
<rect x="336.80" y="556.95" width="7.97" height="7.90" fill="#105a97" />
<rect x="346.07" y="556.95" width="7.97" height="7.90" fill="#105a97" />
<rect x="355.34" y="556.95" width="7.97" height="7.90" fill="#c5c4c9" />
<rect x="364.61" y="556.95" width="7.97" height="7.90" fill="#c5c4c9" />
<rect x="373.88" y="556.95" width="7.97" height="7.90" fill="#c5c4c9" />
<rect x="383.15" y="556.95" width="7.97" height="7.90" fill="#c5c4c9" />
<rect x="392.42" y="556.95" width="7.97" height="7.90" fill="#c5c4c9" />
<rect x="401.69" y="556.95" width="7.97" height="7.90" fill="#c5c4c9" />
<rect x="410.96" y="556.95" width="7.97" height="7.90" fill="#c5c4c9" />
<rect x="420.23" y="556.95" width="7.97" height="7.90" fill="#c5c4c9" />
<rect x="429.50" y="556.95" width="7.97" height="7.90" fill="#c5c4c9" />
<rect x="438.77" y="556.95" width="8.33" height="7.90" fill="#c5c4c9" />
<rect x="187.30" y="566.15" width="9.15" height="8.40" fill="#c5c4c9" />
<rect x="197.75" y="566.15" width="7.97" height="8.40" fill="#c5c4c9" />
<rect x="207.02" y="566.15" width="7.97" height="8.40" fill="#c5c4c9" />
<rect x="216.29" y="566.15" width="7.97" height="8.40" fill="#c5c4c9" />
<rect x="225.56" y="566.15" width="7.97" height="8.40" fill="#c5c4c9" />
<rect x="234.83" y="566.15" width="7.97" height="8.40" fill="#c5c4c9" />
<rect x="244.10" y="566.15" width="7.97" height="8.40" fill="#d0233a" />
<rect x="253.37" y="566.15" width="7.97" height="8.40" fill="#c5c4c9" />
<rect x="262.64" y="566.15" width="7.97" height="8.40" fill="#c5c4c9" />
<rect x="271.91" y="566.15" width="7.97" height="8.40" fill="#c5c4c9" />
<rect x="281.18" y="566.15" width="7.97" height="8.40" fill="#c5c4c9" />
<rect x="290.45" y="566.15" width="7.97" height="8.40" fill="#c5c4c9" />
<rect x="299.72" y="566.15" width="7.97" height="8.40" fill="#c5c4c9" />
<rect x="308.99" y="566.15" width="7.97" height="8.40" fill="#c5c4c9" />
<rect x="318.26" y="566.15" width="7.97" height="8.40" fill="#c5c4c9" />
<rect x="327.53" y="566.15" width="7.97" height="8.40" fill="#105a97" />
<rect x="336.80" y="566.15" width="7.97" height="8.40" fill="#105a97" />
<rect x="346.07" y="566.15" width="7.97" height="8.40" fill="#105a97" />
<rect x="355.34" y="566.15" width="7.97" height="8.40" fill="#c5c4c9" />
<rect x="364.61" y="566.15" width="7.97" height="8.40" fill="#c5c4c9" />
<rect x="373.88" y="566.15" width="7.97" height="8.40" fill="#c5c4c9" />
<rect x="383.15" y="566.15" width="7.97" height="8.40" fill="#c5c4c9" />
<rect x="392.42" y="566.15" width="7.97" height="8.40" fill="#c5c4c9" />
<rect x="401.69" y="566.15" width="7.97" height="8.40" fill="#c5c4c9" />
<rect x="410.96" y="566.15" width="7.97" height="8.40" fill="#c5c4c9" />
<rect x="420.23" y="566.15" width="7.97" height="8.40" fill="#c5c4c9" />
<rect x="429.50" y="566.15" width="7.97" height="8.40" fill="#c5c4c9" />
<rect x="438.77" y="566.15" width="8.33" height="8.40" fill="#c5c4c9" />
<rect x="187.30" y="575.85" width="9.15" height="15.50" fill="#c5c4c9" />
<rect x="197.75" y="575.85" width="7.97" height="15.50" fill="#c5c4c9" />
<rect x="207.02" y="575.85" width="7.97" height="15.50" fill="#c5c4c9" />
<rect x="216.29" y="575.85" width="7.97" height="15.50" fill="#c5c4c9" />
<rect x="225.56" y="575.85" width="7.97" height="15.50" fill="#c5c4c9" />
<rect x="234.83" y="575.85" width="7.97" height="15.50" fill="#c5c4c9" />
<rect x="244.10" y="575.85" width="7.97" height="15.50" fill="#c5c4c9" />
<rect x="253.37" y="575.85" width="7.97" height="15.50" fill="#c5c4c9" />
<rect x="262.64" y="575.85" width="7.97" height="15.50" fill="#c5c4c9" />
<rect x="271.91" y="575.85" width="7.97" height="15.50" fill="#c5c4c9" />
<rect x="281.18" y="575.85" width="7.97" height="15.50" fill="#c5c4c9" />
<rect x="290.45" y="575.85" width="7.97" height="15.50" fill="#c5c4c9" />
<rect x="299.72" y="575.85" width="7.97" height="15.50" fill="#c5c4c9" />
<rect x="308.99" y="575.85" width="7.97" height="15.50" fill="#c5c4c9" />
<rect x="318.26" y="575.85" width="7.97" height="15.50" fill="#c5c4c9" />
<rect x="327.53" y="575.85" width="7.97" height="15.50" fill="#105a97" />
<rect x="336.80" y="575.85" width="7.97" height="15.50" fill="#105a97" />
<rect x="346.07" y="575.85" width="7.97" height="15.50" fill="#105a97" />
<rect x="355.34" y="575.85" width="7.97" height="15.50" fill="#c5c4c9" />
<rect x="364.61" y="575.85" width="7.97" height="15.50" fill="#c5c4c9" />
<rect x="373.88" y="575.85" width="7.97" height="15.50" fill="#c5c4c9" />
<rect x="383.15" y="575.85" width="7.97" height="15.50" fill="#c5c4c9" />
<rect x="392.42" y="575.85" width="7.97" height="15.50" fill="#c5c4c9" />
<rect x="401.69" y="575.85" width="7.97" height="15.50" fill="#c5c4c9" />
<rect x="410.96" y="575.85" width="7.97" height="15.50" fill="#c5c4c9" />
<rect x="420.23" y="575.85" width="7.97" height="15.50" fill="#c5c4c9" />
<rect x="429.50" y="575.85" width="7.97" height="15.50" fill="#c5c4c9" />
<rect x="438.77" y="575.85" width="8.33" height="15.50" fill="#c5c4c9" />
<rect x="187.30" y="592.65" width="9.15" height="17.60" fill="#c5c4c9" />
<rect x="197.75" y="592.65" width="7.97" height="17.60" fill="#c5c4c9" />
<rect x="207.02" y="592.65" width="7.97" height="17.60" fill="#c5c4c9" />
<rect x="216.29" y="592.65" width="7.97" height="17.60" fill="#c5c4c9" />
<rect x="225.56" y="592.65" width="7.97" height="17.60" fill="#c5c4c9" />
<rect x="234.83" y="592.65" width="7.97" height="17.60" fill="#c5c4c9" />
<rect x="244.10" y="592.65" width="7.97" height="17.60" fill="#c5c4c9" />
<rect x="253.37" y="592.65" width="7.97" height="17.60" fill="#c5c4c9" />
<rect x="262.64" y="592.65" width="7.97" height="17.60" fill="#c5c4c9" />
<rect x="271.91" y="592.65" width="7.97" height="17.60" fill="#c5c4c9" />
<rect x="281.18" y="592.65" width="7.97" height="17.60" fill="#c5c4c9" />
<rect x="290.45" y="592.65" width="7.97" height="17.60" fill="#c5c4c9" />
<rect x="299.72" y="592.65" width="7.97" height="17.60" fill="#c5c4c9" />
<rect x="308.99" y="592.65" width="7.97" height="17.60" fill="#c5c4c9" />
<rect x="318.26" y="592.65" width="7.97" height="17.60" fill="#c5c4c9" />
<rect x="327.53" y="592.65" width="7.97" height="17.60" fill="#105a97" />
<rect x="336.80" y="592.65" width="7.97" height="17.60" fill="#105a97" />
<rect x="346.07" y="592.65" width="7.97" height="17.60" fill="#105a97" />
<rect x="355.34" y="592.65" width="7.97" height="17.60" fill="#c5c4c9" />
<rect x="364.61" y="592.65" width="7.97" height="17.60" fill="#c5c4c9" />
<rect x="373.88" y="592.65" width="7.97" height="17.60" fill="#c5c4c9" />
<rect x="383.15" y="592.65" width="7.97" height="17.60" fill="#c5c4c9" />
<rect x="392.42" y="592.65" width="7.97" height="17.60" fill="#c5c4c9" />
<rect x="401.69" y="592.65" width="7.97" height="17.60" fill="#c5c4c9" />
<rect x="410.96" y="592.65" width="7.97" height="17.60" fill="#c5c4c9" />
<rect x="420.23" y="592.65" width="7.97" height="17.60" fill="#c5c4c9" />
<rect x="429.50" y="592.65" width="7.97" height="17.60" fill="#c5c4c9" />
<rect x="438.77" y="592.65" width="8.33" height="17.60" fill="#c5c4c9" />
<rect x="187.30" y="611.55" width="9.15" height="8.20" fill="#c5c4c9" />
<rect x="197.75" y="611.55" width="7.97" height="8.20" fill="#c5c4c9" />
<rect x="207.02" y="611.55" width="7.97" height="8.20" fill="#c5c4c9" />
<rect x="216.29" y="611.55" width="7.97" height="8.20" fill="#c5c4c9" />
<rect x="225.56" y="611.55" width="7.97" height="8.20" fill="#c5c4c9" />
<rect x="234.83" y="611.55" width="7.97" height="8.20" fill="#c5c4c9" />
<rect x="244.10" y="611.55" width="7.97" height="8.20" fill="#c5c4c9" />
<rect x="253.37" y="611.55" width="7.97" height="8.20" fill="#c5c4c9" />
<rect x="262.64" y="611.55" width="7.97" height="8.20" fill="#c5c4c9" />
<rect x="271.91" y="611.55" width="7.97" height="8.20" fill="#c5c4c9" />
<rect x="281.18" y="611.55" width="7.97" height="8.20" fill="#c5c4c9" />
<rect x="290.45" y="611.55" width="7.97" height="8.20" fill="#c5c4c9" />
<rect x="299.72" y="611.55" width="7.97" height="8.20" fill="#c5c4c9" />
<rect x="308.99" y="611.55" width="7.97" height="8.20" fill="#c5c4c9" />
<rect x="318.26" y="611.55" width="7.97" height="8.20" fill="#c5c4c9" />
<rect x="327.53" y="611.55" width="7.97" height="8.20" fill="#105a97" />
<rect x="336.80" y="611.55" width="7.97" height="8.20" fill="#105a97" />
<rect x="346.07" y="611.55" width="7.97" height="8.20" fill="#105a97" />
<rect x="355.34" y="611.55" width="7.97" height="8.20" fill="#c5c4c9" />
<rect x="364.61" y="611.55" width="7.97" height="8.20" fill="#c5c4c9" />
<rect x="373.88" y="611.55" width="7.97" height="8.20" fill="#c5c4c9" />
<rect x="383.15" y="611.55" width="7.97" height="8.20" fill="#c5c4c9" />
<rect x="392.42" y="611.55" width="7.97" height="8.20" fill="#c5c4c9" />
<rect x="401.69" y="611.55" width="7.97" height="8.20" fill="#c5c4c9" />
<rect x="410.96" y="611.55" width="7.97" height="8.20" fill="#c5c4c9" />
<rect x="420.23" y="611.55" width="7.97" height="8.20" fill="#c5c4c9" />
<rect x="429.50" y="611.55" width="7.97" height="8.20" fill="#c5c4c9" />
<rect x="438.77" y="611.55" width="8.33" height="8.20" fill="#c5c4c9" />
<rect x="187.30" y="621.05" width="9.15" height="17.80" fill="#c5c4c9" />
<rect x="197.75" y="621.05" width="7.97" height="17.80" fill="#c5c4c9" />
<rect x="207.02" y="621.05" width="7.97" height="17.80" fill="#c5c4c9" />
<rect x="216.29" y="621.05" width="7.97" height="17.80" fill="#c5c4c9" />
<rect x="225.56" y="621.05" width="7.97" height="17.80" fill="#c5c4c9" />
<rect x="234.83" y="621.05" width="7.97" height="17.80" fill="#c5c4c9" />
<rect x="244.10" y="621.05" width="7.97" height="17.80" fill="#c5c4c9" />
<rect x="253.37" y="621.05" width="7.97" height="17.80" fill="#c5c4c9" />
<rect x="262.64" y="621.05" width="7.97" height="17.80" fill="#c5c4c9" />
<rect x="271.91" y="621.05" width="7.97" height="17.80" fill="#c5c4c9" />
<rect x="281.18" y="621.05" width="7.97" height="17.80" fill="#c5c4c9" />
<rect x="290.45" y="621.05" width="7.97" height="17.80" fill="#c5c4c9" />
<rect x="299.72" y="621.05" width="7.97" height="17.80" fill="#c5c4c9" />
<rect x="308.99" y="621.05" width="7.97" height="17.80" fill="#c5c4c9" />
<rect x="318.26" y="621.05" width="7.97" height="17.80" fill="#c5c4c9" />
<rect x="327.53" y="621.05" width="7.97" height="17.80" fill="#105a97" />
<rect x="336.80" y="621.05" width="7.97" height="17.80" fill="#105a97" />
<rect x="346.07" y="621.05" width="7.97" height="17.80" fill="#105a97" />
<rect x="355.34" y="621.05" width="7.97" height="17.80" fill="#c5c4c9" />
<rect x="364.61" y="621.05" width="7.97" height="17.80" fill="#c5c4c9" />
<rect x="373.88" y="621.05" width="7.97" height="17.80" fill="#c5c4c9" />
<rect x="383.15" y="621.05" width="7.97" height="17.80" fill="#c5c4c9" />
<rect x="392.42" y="621.05" width="7.97" height="17.80" fill="#c5c4c9" />
<rect x="401.69" y="621.05" width="7.97" height="17.80" fill="#c5c4c9" />
<rect x="410.96" y="621.05" width="7.97" height="17.80" fill="#c5c4c9" />
<rect x="420.23" y="621.05" width="7.97" height="17.80" fill="#c5c4c9" />
<rect x="429.50" y="621.05" width="7.97" height="17.80" fill="#c5c4c9" />
<rect x="438.77" y="621.05" width="8.33" height="17.80" fill="#c5c4c9" />
<rect x="187.30" y="640.15" width="9.15" height="26.70" fill="#c5c4c9" />
<rect x="197.75" y="640.15" width="7.97" height="26.70" fill="#c5c4c9" />
<rect x="207.02" y="640.15" width="7.97" height="26.70" fill="#c5c4c9" />
<rect x="216.29" y="640.15" width="7.97" height="26.70" fill="#c5c4c9" />
<rect x="225.56" y="640.15" width="7.97" height="26.70" fill="#c5c4c9" />
<rect x="234.83" y="640.15" width="7.97" height="26.70" fill="#c5c4c9" />
<rect x="244.10" y="640.15" width="7.97" height="26.70" fill="#d0233a" />
<rect x="253.37" y="640.15" width="7.97" height="26.70" fill="#c5c4c9" />
<rect x="262.64" y="640.15" width="7.97" height="26.70" fill="#c5c4c9" />
<rect x="271.91" y="640.15" width="7.97" height="26.70" fill="#c5c4c9" />
<rect x="281.18" y="640.15" width="7.97" height="26.70" fill="#c5c4c9" />
<rect x="290.45" y="640.15" width="7.97" height="26.70" fill="#c5c4c9" />
<rect x="299.72" y="640.15" width="7.97" height="26.70" fill="#c5c4c9" />
<rect x="308.99" y="640.15" width="7.97" height="26.70" fill="#c5c4c9" />
<rect x="318.26" y="640.15" width="7.97" height="26.70" fill="#c5c4c9" />
<rect x="327.53" y="640.15" width="7.97" height="26.70" fill="#105a97" />
<rect x="336.80" y="640.15" width="7.97" height="26.70" fill="#105a97" />
<rect x="346.07" y="640.15" width="7.97" height="26.70" fill="#105a97" />
<rect x="355.34" y="640.15" width="7.97" height="26.70" fill="#c5c4c9" />
<rect x="364.61" y="640.15" width="7.97" height="26.70" fill="#c5c4c9" />
<rect x="373.88" y="640.15" width="7.97" height="26.70" fill="#c5c4c9" />
<rect x="383.15" y="640.15" width="7.97" height="26.70" fill="#c5c4c9" />
<rect x="392.42" y="640.15" width="7.97" height="26.70" fill="#c5c4c9" />
<rect x="401.69" y="640.15" width="7.97" height="26.70" fill="#c5c4c9" />
<rect x="410.96" y="640.15" width="7.97" height="26.70" fill="#c5c4c9" />
<rect x="420.23" y="640.15" width="7.97" height="26.70" fill="#c5c4c9" />
<rect x="429.50" y="640.15" width="7.97" height="26.70" fill="#c5c4c9" />
<rect x="438.77" y="640.15" width="8.33" height="26.70" fill="#c5c4c9" />
<rect x="187.30" y="668.15" width="9.15" height="8.30" fill="#c5c4c9" />
<rect x="197.75" y="668.15" width="7.97" height="8.30" fill="#c5c4c9" />
<rect x="207.02" y="668.15" width="7.97" height="8.30" fill="#c5c4c9" />
<rect x="216.29" y="668.15" width="7.97" height="8.30" fill="#c5c4c9" />
<rect x="225.56" y="668.15" width="7.97" height="8.30" fill="#c5c4c9" />
<rect x="234.83" y="668.15" width="7.97" height="8.30" fill="#c5c4c9" />
<rect x="244.10" y="668.15" width="7.97" height="8.30" fill="#d0233a" />
<rect x="253.37" y="668.15" width="7.97" height="8.30" fill="#c5c4c9" />
<rect x="262.64" y="668.15" width="7.97" height="8.30" fill="#c5c4c9" />
<rect x="271.91" y="668.15" width="7.97" height="8.30" fill="#c5c4c9" />
<rect x="281.18" y="668.15" width="7.97" height="8.30" fill="#c5c4c9" />
<rect x="290.45" y="668.15" width="7.97" height="8.30" fill="#c5c4c9" />
<rect x="299.72" y="668.15" width="7.97" height="8.30" fill="#c5c4c9" />
<rect x="308.99" y="668.15" width="7.97" height="8.30" fill="#c5c4c9" />
<rect x="318.26" y="668.15" width="7.97" height="8.30" fill="#c5c4c9" />
<rect x="327.53" y="668.15" width="7.97" height="8.30" fill="#105a97" />
<rect x="336.80" y="668.15" width="7.97" height="8.30" fill="#105a97" />
<rect x="346.07" y="668.15" width="7.97" height="8.30" fill="#105a97" />
<rect x="355.34" y="668.15" width="7.97" height="8.30" fill="#c5c4c9" />
<rect x="364.61" y="668.15" width="7.97" height="8.30" fill="#c5c4c9" />
<rect x="373.88" y="668.15" width="7.97" height="8.30" fill="#c5c4c9" />
<rect x="383.15" y="668.15" width="7.97" height="8.30" fill="#c5c4c9" />
<rect x="392.42" y="668.15" width="7.97" height="8.30" fill="#c5c4c9" />
<rect x="401.69" y="668.15" width="7.97" height="8.30" fill="#c5c4c9" />
<rect x="410.96" y="668.15" width="7.97" height="8.30" fill="#c5c4c9" />
<rect x="420.23" y="668.15" width="7.97" height="8.30" fill="#c5c4c9" />
<rect x="429.50" y="668.15" width="7.97" height="8.30" fill="#c5c4c9" />
<rect x="438.77" y="668.15" width="8.33" height="8.30" fill="#c5c4c9" />
<rect x="187.30" y="677.75" width="9.15" height="8.10" fill="#c5c4c9" />
<rect x="197.75" y="677.75" width="7.97" height="8.10" fill="#c5c4c9" />
<rect x="207.02" y="677.75" width="7.97" height="8.10" fill="#c5c4c9" />
<rect x="216.29" y="677.75" width="7.97" height="8.10" fill="#c5c4c9" />
<rect x="225.56" y="677.75" width="7.97" height="8.10" fill="#c5c4c9" />
<rect x="234.83" y="677.75" width="7.97" height="8.10" fill="#c5c4c9" />
<rect x="244.10" y="677.75" width="7.97" height="8.10" fill="#c5c4c9" />
<rect x="253.37" y="677.75" width="7.97" height="8.10" fill="#c5c4c9" />
<rect x="262.64" y="677.75" width="7.97" height="8.10" fill="#c5c4c9" />
<rect x="271.91" y="677.75" width="7.97" height="8.10" fill="#c5c4c9" />
<rect x="281.18" y="677.75" width="7.97" height="8.10" fill="#c5c4c9" />
<rect x="290.45" y="677.75" width="7.97" height="8.10" fill="#c5c4c9" />
<rect x="299.72" y="677.75" width="7.97" height="8.10" fill="#c5c4c9" />
<rect x="308.99" y="677.75" width="7.97" height="8.10" fill="#c5c4c9" />
<rect x="318.26" y="677.75" width="7.97" height="8.10" fill="#c5c4c9" />
<rect x="327.53" y="677.75" width="7.97" height="8.10" fill="#105a97" />
<rect x="336.80" y="677.75" width="7.97" height="8.10" fill="#105a97" />
<rect x="346.07" y="677.75" width="7.97" height="8.10" fill="#105a97" />
<rect x="355.34" y="677.75" width="7.97" height="8.10" fill="#c5c4c9" />
<rect x="364.61" y="677.75" width="7.97" height="8.10" fill="#c5c4c9" />
<rect x="373.88" y="677.75" width="7.97" height="8.10" fill="#c5c4c9" />
<rect x="383.15" y="677.75" width="7.97" height="8.10" fill="#c5c4c9" />
<rect x="392.42" y="677.75" width="7.97" height="8.10" fill="#c5c4c9" />
<rect x="401.69" y="677.75" width="7.97" height="8.10" fill="#c5c4c9" />
<rect x="410.96" y="677.75" width="7.97" height="8.10" fill="#c5c4c9" />
<rect x="420.23" y="677.75" width="7.97" height="8.10" fill="#c5c4c9" />
<rect x="429.50" y="677.75" width="7.97" height="8.10" fill="#c5c4c9" />
<rect x="438.77" y="677.75" width="8.33" height="8.10" fill="#c5c4c9" />
<rect x="187.30" y="687.15" width="9.15" height="7.70" fill="#c5c4c9" />
<rect x="197.75" y="687.15" width="7.97" height="7.70" fill="#c5c4c9" />
<rect x="207.02" y="687.15" width="7.97" height="7.70" fill="#c5c4c9" />
<rect x="216.29" y="687.15" width="7.97" height="7.70" fill="#c5c4c9" />
<rect x="225.56" y="687.15" width="7.97" height="7.70" fill="#c5c4c9" />
<rect x="234.83" y="687.15" width="7.97" height="7.70" fill="#c5c4c9" />
<rect x="244.10" y="687.15" width="7.97" height="7.70" fill="#c5c4c9" />
<rect x="253.37" y="687.15" width="7.97" height="7.70" fill="#c5c4c9" />
<rect x="262.64" y="687.15" width="7.97" height="7.70" fill="#c5c4c9" />
<rect x="271.91" y="687.15" width="7.97" height="7.70" fill="#c5c4c9" />
<rect x="281.18" y="687.15" width="7.97" height="7.70" fill="#c5c4c9" />
<rect x="290.45" y="687.15" width="7.97" height="7.70" fill="#c5c4c9" />
<rect x="299.72" y="687.15" width="7.97" height="7.70" fill="#c5c4c9" />
<rect x="308.99" y="687.15" width="7.97" height="7.70" fill="#c5c4c9" />
<rect x="318.26" y="687.15" width="7.97" height="7.70" fill="#c5c4c9" />
<rect x="327.53" y="687.15" width="7.97" height="7.70" fill="#105a97" />
<rect x="336.80" y="687.15" width="7.97" height="7.70" fill="#105a97" />
<rect x="346.07" y="687.15" width="7.97" height="7.70" fill="#105a97" />
<rect x="355.34" y="687.15" width="7.97" height="7.70" fill="#c5c4c9" />
<rect x="364.61" y="687.15" width="7.97" height="7.70" fill="#c5c4c9" />
<rect x="373.88" y="687.15" width="7.97" height="7.70" fill="#c5c4c9" />
<rect x="383.15" y="687.15" width="7.97" height="7.70" fill="#c5c4c9" />
<rect x="392.42" y="687.15" width="7.97" height="7.70" fill="#c5c4c9" />
<rect x="401.69" y="687.15" width="7.97" height="7.70" fill="#c5c4c9" />
<rect x="410.96" y="687.15" width="7.97" height="7.70" fill="#c5c4c9" />
<rect x="420.23" y="687.15" width="7.97" height="7.70" fill="#c5c4c9" />
<rect x="429.50" y="687.15" width="7.97" height="7.70" fill="#c5c4c9" />
<rect x="438.77" y="687.15" width="8.33" height="7.70" fill="#c5c4c9" />
<rect x="187.30" y="696.15" width="9.15" height="8.20" fill="#c5c4c9" />
<rect x="197.75" y="696.15" width="7.97" height="8.20" fill="#c5c4c9" />
<rect x="207.02" y="696.15" width="7.97" height="8.20" fill="#c5c4c9" />
<rect x="216.29" y="696.15" width="7.97" height="8.20" fill="#c5c4c9" />
<rect x="225.56" y="696.15" width="7.97" height="8.20" fill="#c5c4c9" />
<rect x="234.83" y="696.15" width="7.97" height="8.20" fill="#c5c4c9" />
<rect x="244.10" y="696.15" width="7.97" height="8.20" fill="#c5c4c9" />
<rect x="253.37" y="696.15" width="7.97" height="8.20" fill="#c5c4c9" />
<rect x="262.64" y="696.15" width="7.97" height="8.20" fill="#c5c4c9" />
<rect x="271.91" y="696.15" width="7.97" height="8.20" fill="#c5c4c9" />
<rect x="281.18" y="696.15" width="7.97" height="8.20" fill="#c5c4c9" />
<rect x="290.45" y="696.15" width="7.97" height="8.20" fill="#c5c4c9" />
<rect x="299.72" y="696.15" width="7.97" height="8.20" fill="#c5c4c9" />
<rect x="308.99" y="696.15" width="7.97" height="8.20" fill="#c5c4c9" />
<rect x="318.26" y="696.15" width="7.97" height="8.20" fill="#c5c4c9" />
<rect x="327.53" y="696.15" width="7.97" height="8.20" fill="#105a97" />
<rect x="336.80" y="696.15" width="7.97" height="8.20" fill="#105a97" />
<rect x="346.07" y="696.15" width="7.97" height="8.20" fill="#105a97" />
<rect x="355.34" y="696.15" width="7.97" height="8.20" fill="#c5c4c9" />
<rect x="364.61" y="696.15" width="7.97" height="8.20" fill="#c5c4c9" />
<rect x="373.88" y="696.15" width="7.97" height="8.20" fill="#c5c4c9" />
<rect x="383.15" y="696.15" width="7.97" height="8.20" fill="#c5c4c9" />
<rect x="392.42" y="696.15" width="7.97" height="8.20" fill="#c5c4c9" />
<rect x="401.69" y="696.15" width="7.97" height="8.20" fill="#c5c4c9" />
<rect x="410.96" y="696.15" width="7.97" height="8.20" fill="#c5c4c9" />
<rect x="420.23" y="696.15" width="7.97" height="8.20" fill="#c5c4c9" />
<rect x="429.50" y="696.15" width="7.97" height="8.20" fill="#c5c4c9" />
<rect x="438.77" y="696.15" width="8.33" height="8.20" fill="#c5c4c9" />
<rect x="187.30" y="705.65" width="9.15" height="7.90" fill="#c5c4c9" />
<rect x="197.75" y="705.65" width="7.97" height="7.90" fill="#c5c4c9" />
<rect x="207.02" y="705.65" width="7.97" height="7.90" fill="#c5c4c9" />
<rect x="216.29" y="705.65" width="7.97" height="7.90" fill="#c5c4c9" />
<rect x="225.56" y="705.65" width="7.97" height="7.90" fill="#c5c4c9" />
<rect x="234.83" y="705.65" width="7.97" height="7.90" fill="#c5c4c9" />
<rect x="244.10" y="705.65" width="7.97" height="7.90" fill="#c5c4c9" />
<rect x="253.37" y="705.65" width="7.97" height="7.90" fill="#c5c4c9" />
<rect x="262.64" y="705.65" width="7.97" height="7.90" fill="#c5c4c9" />
<rect x="271.91" y="705.65" width="7.97" height="7.90" fill="#c5c4c9" />
<rect x="281.18" y="705.65" width="7.97" height="7.90" fill="#c5c4c9" />
<rect x="290.45" y="705.65" width="7.97" height="7.90" fill="#c5c4c9" />
<rect x="299.72" y="705.65" width="7.97" height="7.90" fill="#c5c4c9" />
<rect x="308.99" y="705.65" width="7.97" height="7.90" fill="#105a97" />
<rect x="318.26" y="705.65" width="7.97" height="7.90" fill="#c5c4c9" />
<rect x="327.53" y="705.65" width="7.97" height="7.90" fill="#c5c4c9" />
<rect x="336.80" y="705.65" width="7.97" height="7.90" fill="#c5c4c9" />
<rect x="346.07" y="705.65" width="7.97" height="7.90" fill="#c5c4c9" />
<rect x="355.34" y="705.65" width="7.97" height="7.90" fill="#c5c4c9" />
<rect x="364.61" y="705.65" width="7.97" height="7.90" fill="#c5c4c9" />
<rect x="373.88" y="705.65" width="7.97" height="7.90" fill="#c5c4c9" />
<rect x="383.15" y="705.65" width="7.97" height="7.90" fill="#c5c4c9" />
<rect x="392.42" y="705.65" width="7.97" height="7.90" fill="#c5c4c9" />
<rect x="401.69" y="705.65" width="7.97" height="7.90" fill="#c5c4c9" />
<rect x="410.96" y="705.65" width="7.97" height="7.90" fill="#c5c4c9" />
<rect x="420.23" y="705.65" width="7.97" height="7.90" fill="#105a97" />
<rect x="429.50" y="705.65" width="7.97" height="7.90" fill="#c5c4c9" />
<rect x="438.77" y="705.65" width="8.33" height="7.90" fill="#105a97" />
<rect x="187.30" y="714.85" width="9.15" height="8.40" fill="#c5c4c9" />
<rect x="197.75" y="714.85" width="7.97" height="8.40" fill="#c5c4c9" />
<rect x="207.02" y="714.85" width="7.97" height="8.40" fill="#c5c4c9" />
<rect x="216.29" y="714.85" width="7.97" height="8.40" fill="#c5c4c9" />
<rect x="225.56" y="714.85" width="7.97" height="8.40" fill="#c5c4c9" />
<rect x="234.83" y="714.85" width="7.97" height="8.40" fill="#c5c4c9" />
<rect x="244.10" y="714.85" width="7.97" height="8.40" fill="#c5c4c9" />
<rect x="253.37" y="714.85" width="7.97" height="8.40" fill="#c5c4c9" />
<rect x="262.64" y="714.85" width="7.97" height="8.40" fill="#c5c4c9" />
<rect x="271.91" y="714.85" width="7.97" height="8.40" fill="#c5c4c9" />
<rect x="281.18" y="714.85" width="7.97" height="8.40" fill="#c5c4c9" />
<rect x="290.45" y="714.85" width="7.97" height="8.40" fill="#c5c4c9" />
<rect x="299.72" y="714.85" width="7.97" height="8.40" fill="#c5c4c9" />
<rect x="308.99" y="714.85" width="7.97" height="8.40" fill="#105a97" />
<rect x="318.26" y="714.85" width="7.97" height="8.40" fill="#c5c4c9" />
<rect x="327.53" y="714.85" width="7.97" height="8.40" fill="#c5c4c9" />
<rect x="336.80" y="714.85" width="7.97" height="8.40" fill="#c5c4c9" />
<rect x="346.07" y="714.85" width="7.97" height="8.40" fill="#c5c4c9" />
<rect x="355.34" y="714.85" width="7.97" height="8.40" fill="#c5c4c9" />
<rect x="364.61" y="714.85" width="7.97" height="8.40" fill="#c5c4c9" />
<rect x="373.88" y="714.85" width="7.97" height="8.40" fill="#c5c4c9" />
<rect x="383.15" y="714.85" width="7.97" height="8.40" fill="#c5c4c9" />
<rect x="392.42" y="714.85" width="7.97" height="8.40" fill="#c5c4c9" />
<rect x="401.69" y="714.85" width="7.97" height="8.40" fill="#c5c4c9" />
<rect x="410.96" y="714.85" width="7.97" height="8.40" fill="#c5c4c9" />
<rect x="420.23" y="714.85" width="7.97" height="8.40" fill="#105a97" />
<rect x="429.50" y="714.85" width="7.97" height="8.40" fill="#c5c4c9" />
<rect x="438.77" y="714.85" width="8.33" height="8.40" fill="#105a97" />
<rect x="187.30" y="724.55" width="9.15" height="9.25" fill="#c5c4c9" />
<rect x="197.75" y="724.55" width="7.97" height="9.25" fill="#c5c4c9" />
<rect x="207.02" y="724.55" width="7.97" height="9.25" fill="#c5c4c9" />
<rect x="216.29" y="724.55" width="7.97" height="9.25" fill="#c5c4c9" />
<rect x="225.56" y="724.55" width="7.97" height="9.25" fill="#c5c4c9" />
<rect x="234.83" y="724.55" width="7.97" height="9.25" fill="#c5c4c9" />
<rect x="244.10" y="724.55" width="7.97" height="9.25" fill="#c5c4c9" />
<rect x="253.37" y="724.55" width="7.97" height="9.25" fill="#c5c4c9" />
<rect x="262.64" y="724.55" width="7.97" height="9.25" fill="#d0233a" />
<rect x="271.91" y="724.55" width="7.97" height="9.25" fill="#c5c4c9" />
<rect x="281.18" y="724.55" width="7.97" height="9.25" fill="#c5c4c9" />
<rect x="290.45" y="724.55" width="7.97" height="9.25" fill="#c5c4c9" />
<rect x="299.72" y="724.55" width="7.97" height="9.25" fill="#c5c4c9" />
<rect x="308.99" y="724.55" width="7.97" height="9.25" fill="#c5c4c9" />
<rect x="318.26" y="724.55" width="7.97" height="9.25" fill="#c5c4c9" />
<rect x="327.53" y="724.55" width="7.97" height="9.25" fill="#c5c4c9" />
<rect x="336.80" y="724.55" width="7.97" height="9.25" fill="#c5c4c9" />
<rect x="346.07" y="724.55" width="7.97" height="9.25" fill="#c5c4c9" />
<rect x="355.34" y="724.55" width="7.97" height="9.25" fill="#c5c4c9" />
<rect x="364.61" y="724.55" width="7.97" height="9.25" fill="#c5c4c9" />
<rect x="373.88" y="724.55" width="7.97" height="9.25" fill="#c5c4c9" />
<rect x="383.15" y="724.55" width="7.97" height="9.25" fill="#c5c4c9" />
<rect x="392.42" y="724.55" width="7.97" height="9.25" fill="#c5c4c9" />
<rect x="401.69" y="724.55" width="7.97" height="9.25" fill="#c5c4c9" />
<rect x="410.96" y="724.55" width="7.97" height="9.25" fill="#c5c4c9" />
<rect x="420.23" y="724.55" width="7.97" height="9.25" fill="#105a97" />
<rect x="429.50" y="724.55" width="7.97" height="9.25" fill="#105a97" />
<rect x="438.77" y="724.55" width="8.33" height="9.25" fill="#c5c4c9" />
<text transform="translate(195.20,349.8) rotate(-90) scale(0.60,1)" font-size="9.2" fill="#1a1a1a" stroke="#1a1a1a" stroke-width="0.22" font-family='"Liberation Sans", sans-serif'>CCT8</text>
<text transform="translate(204.74,349.8) rotate(-90) scale(0.60,1)" font-size="9.2" fill="#1a1a1a" stroke="#1a1a1a" stroke-width="0.22" font-family='"Liberation Sans", sans-serif'>CLTC</text>
<text transform="translate(214.00,349.8) rotate(-90) scale(0.60,1)" font-size="9.2" fill="#1a1a1a" stroke="#1a1a1a" stroke-width="0.22" font-family='"Liberation Sans", sans-serif'>HLA-DPB1</text>
<text transform="translate(223.27,349.8) rotate(-90) scale(0.60,1)" font-size="9.2" fill="#1a1a1a" stroke="#1a1a1a" stroke-width="0.22" font-family='"Liberation Sans", sans-serif'>LCP2</text>
<text transform="translate(232.55,349.8) rotate(-90) scale(0.60,1)" font-size="9.2" fill="#1a1a1a" stroke="#1a1a1a" stroke-width="0.22" font-family='"Liberation Sans", sans-serif'>VEGFA</text>
<text transform="translate(241.81,349.8) rotate(-90) scale(0.60,1)" font-size="9.2" fill="#1a1a1a" stroke="#1a1a1a" stroke-width="0.22" font-family='"Liberation Sans", sans-serif'>IL1B</text>
<text transform="translate(251.08,349.8) rotate(-90) scale(0.60,1)" font-size="9.2" fill="#1a1a1a" stroke="#1a1a1a" stroke-width="0.22" font-family='"Liberation Sans", sans-serif'>GSPT2</text>
<text transform="translate(260.36,349.8) rotate(-90) scale(0.60,1)" font-size="9.2" fill="#1a1a1a" stroke="#1a1a1a" stroke-width="0.22" font-family='"Liberation Sans", sans-serif'>LAMC1</text>
<text transform="translate(269.62,349.8) rotate(-90) scale(0.60,1)" font-size="9.2" fill="#1a1a1a" stroke="#1a1a1a" stroke-width="0.22" font-family='"Liberation Sans", sans-serif'>APIP</text>
<text transform="translate(278.89,349.8) rotate(-90) scale(0.60,1)" font-size="9.2" fill="#1a1a1a" stroke="#1a1a1a" stroke-width="0.22" font-family='"Liberation Sans", sans-serif'>UTP15</text>
<text transform="translate(288.16,349.8) rotate(-90) scale(0.60,1)" font-size="9.2" fill="#1a1a1a" stroke="#1a1a1a" stroke-width="0.22" font-family='"Liberation Sans", sans-serif'>CD70</text>
<text transform="translate(297.43,349.8) rotate(-90) scale(0.60,1)" font-size="9.2" fill="#1a1a1a" stroke="#1a1a1a" stroke-width="0.22" font-family='"Liberation Sans", sans-serif'>FZR1</text>
<text transform="translate(306.70,349.8) rotate(-90) scale(0.60,1)" font-size="9.2" fill="#1a1a1a" stroke="#1a1a1a" stroke-width="0.22" font-family='"Liberation Sans", sans-serif'>KLHL11</text>
<text transform="translate(315.98,349.8) rotate(-90) scale(0.60,1)" font-size="9.2" fill="#1a1a1a" stroke="#1a1a1a" stroke-width="0.22" font-family='"Liberation Sans", sans-serif'>KRAS</text>
<text transform="translate(325.25,349.8) rotate(-90) scale(0.60,1)" font-size="9.2" fill="#1a1a1a" stroke="#1a1a1a" stroke-width="0.22" font-family='"Liberation Sans", sans-serif'>MYLIP</text>
<text transform="translate(334.51,349.8) rotate(-90) scale(0.60,1)" font-size="9.2" fill="#1a1a1a" stroke="#1a1a1a" stroke-width="0.22" font-family='"Liberation Sans", sans-serif'>RPS27A</text>
<text transform="translate(343.78,349.8) rotate(-90) scale(0.60,1)" font-size="9.2" fill="#1a1a1a" stroke="#1a1a1a" stroke-width="0.22" font-family='"Liberation Sans", sans-serif'>RPL36</text>
<text transform="translate(353.05,349.8) rotate(-90) scale(0.60,1)" font-size="9.2" fill="#1a1a1a" stroke="#1a1a1a" stroke-width="0.22" font-family='"Liberation Sans", sans-serif'>RPL39</text>
<text transform="translate(362.32,349.8) rotate(-90) scale(0.60,1)" font-size="9.2" fill="#1a1a1a" stroke="#1a1a1a" stroke-width="0.22" font-family='"Liberation Sans", sans-serif'>TMX5</text>
<text transform="translate(371.60,349.8) rotate(-90) scale(0.60,1)" font-size="9.2" fill="#1a1a1a" stroke="#1a1a1a" stroke-width="0.22" font-family='"Liberation Sans", sans-serif'>WIPF2</text>
<text transform="translate(380.87,349.8) rotate(-90) scale(0.60,1)" font-size="9.2" fill="#1a1a1a" stroke="#1a1a1a" stroke-width="0.22" font-family='"Liberation Sans", sans-serif'>RELN</text>
<text transform="translate(390.13,349.8) rotate(-90) scale(0.60,1)" font-size="9.2" fill="#1a1a1a" stroke="#1a1a1a" stroke-width="0.22" font-family='"Liberation Sans", sans-serif'>VPS37C</text>
<text transform="translate(399.40,349.8) rotate(-90) scale(0.60,1)" font-size="9.2" fill="#1a1a1a" stroke="#1a1a1a" stroke-width="0.22" font-family='"Liberation Sans", sans-serif'>BMI1</text>
<text transform="translate(408.67,349.8) rotate(-90) scale(0.60,1)" font-size="9.2" fill="#1a1a1a" stroke="#1a1a1a" stroke-width="0.22" font-family='"Liberation Sans", sans-serif'>TINF2</text>
<text transform="translate(417.94,349.8) rotate(-90) scale(0.60,1)" font-size="9.2" fill="#1a1a1a" stroke="#1a1a1a" stroke-width="0.22" font-family='"Liberation Sans", sans-serif'>HIST1H2AE</text>
<text transform="translate(427.22,349.8) rotate(-90) scale(0.60,1)" font-size="9.2" fill="#1a1a1a" stroke="#1a1a1a" stroke-width="0.22" font-family='"Liberation Sans", sans-serif'>BCL2L11</text>
<text transform="translate(436.49,349.8) rotate(-90) scale(0.60,1)" font-size="9.2" fill="#1a1a1a" stroke="#1a1a1a" stroke-width="0.22" font-family='"Liberation Sans", sans-serif'>PMAIP1</text>
<text transform="translate(445.61,349.8) rotate(-90) scale(0.60,1)" font-size="9.2" fill="#1a1a1a" stroke="#1a1a1a" stroke-width="0.22" font-family='"Liberation Sans", sans-serif'>CLCN6</text>
<text transform="translate(185.30,360.10) scale(0.69,1)" font-size="8.6" font-weight="normal" fill="#2a2a2a" text-anchor="end" font-family='"Liberation Sans", sans-serif' stroke="#2a2a2a" stroke-width="0.22" word-spacing="0.6">Immune System</text>
<text transform="translate(185.30,369.35) scale(0.69,1)" font-size="8.6" font-weight="normal" fill="#2a2a2a" text-anchor="end" font-family='"Liberation Sans", sans-serif' stroke="#2a2a2a" stroke-width="0.22" word-spacing="0.6">Innate Immune System</text>
<text transform="translate(185.30,378.85) scale(0.69,1)" font-size="8.6" font-weight="normal" fill="#2a2a2a" text-anchor="end" font-family='"Liberation Sans", sans-serif' stroke="#2a2a2a" stroke-width="0.22" word-spacing="0.6">Metabolism of amino acids and</text>
<text transform="translate(185.30,387.35) scale(0.69,1)" font-size="8.6" font-weight="normal" fill="#2a2a2a" text-anchor="end" font-family='"Liberation Sans", sans-serif' stroke="#2a2a2a" stroke-width="0.22" word-spacing="0.6">derivatives</text>
<text transform="translate(185.30,397.05) scale(0.69,1)" font-size="8.6" font-weight="normal" fill="#2a2a2a" text-anchor="end" font-family='"Liberation Sans", sans-serif' stroke="#2a2a2a" stroke-width="0.22" word-spacing="0.6">Translation</text>
<text transform="translate(185.30,406.40) scale(0.69,1)" font-size="8.6" font-weight="normal" fill="#2a2a2a" text-anchor="end" font-family='"Liberation Sans", sans-serif' stroke="#2a2a2a" stroke-width="0.22" word-spacing="0.6">Signaling by ROBO receptors</text>
<text transform="translate(185.30,415.60) scale(0.69,1)" font-size="8.6" font-weight="normal" fill="#2a2a2a" text-anchor="end" font-family='"Liberation Sans", sans-serif' stroke="#2a2a2a" stroke-width="0.22" word-spacing="0.6">rRNA processing</text>
<text transform="translate(185.30,425.10) scale(0.69,1)" font-size="8.6" font-weight="normal" fill="#2a2a2a" text-anchor="end" font-family='"Liberation Sans", sans-serif' stroke="#2a2a2a" stroke-width="0.22" word-spacing="0.6">Cellular Senescence</text>
<text transform="translate(185.30,434.70) scale(0.69,1)" font-size="8.6" font-weight="normal" fill="#2a2a2a" text-anchor="end" font-family='"Liberation Sans", sans-serif' stroke="#2a2a2a" stroke-width="0.22" word-spacing="0.6">rRNA processing in the nucleus and</text>
<text transform="translate(185.30,443.20) scale(0.69,1)" font-size="8.6" font-weight="normal" fill="#2a2a2a" text-anchor="end" font-family='"Liberation Sans", sans-serif' stroke="#2a2a2a" stroke-width="0.22" word-spacing="0.6">cytosol</text>
<text transform="translate(185.30,452.95) scale(0.69,1)" font-size="8.6" font-weight="normal" fill="#2a2a2a" text-anchor="end" font-family='"Liberation Sans", sans-serif' stroke="#2a2a2a" stroke-width="0.22" word-spacing="0.6">Major pathway of rRNA processing</text>
<text transform="translate(185.30,461.45) scale(0.69,1)" font-size="8.6" font-weight="normal" fill="#2a2a2a" text-anchor="end" font-family='"Liberation Sans", sans-serif' stroke="#2a2a2a" stroke-width="0.22" word-spacing="0.6">in the nucleolus and cytosol</text>
<text transform="translate(185.30,471.15) scale(0.69,1)" font-size="8.6" font-weight="normal" fill="#2a2a2a" text-anchor="end" font-family='"Liberation Sans", sans-serif' stroke="#2a2a2a" stroke-width="0.22" word-spacing="0.6">Programmed Cell Death</text>
<text transform="translate(185.30,480.40) scale(0.69,1)" font-size="8.6" font-weight="normal" fill="#2a2a2a" text-anchor="end" font-family='"Liberation Sans", sans-serif' stroke="#2a2a2a" stroke-width="0.22" word-spacing="0.6">Apoptosis</text>
<text transform="translate(185.30,489.50) scale(0.69,1)" font-size="8.6" font-weight="normal" fill="#2a2a2a" text-anchor="end" font-family='"Liberation Sans", sans-serif' stroke="#2a2a2a" stroke-width="0.22" word-spacing="0.6">Regulation of expression of SLITs</text>
<text transform="translate(185.30,498.95) scale(0.69,1)" font-size="8.6" font-weight="normal" fill="#2a2a2a" text-anchor="end" font-family='"Liberation Sans", sans-serif' stroke="#2a2a2a" stroke-width="0.22" word-spacing="0.6">and ROBOs</text>
<text transform="translate(185.30,509.15) scale(0.69,1)" font-size="8.6" font-weight="normal" fill="#2a2a2a" text-anchor="end" font-family='"Liberation Sans", sans-serif' stroke="#2a2a2a" stroke-width="0.22" word-spacing="0.6">Oxidative Stress Induced</text>
<text transform="translate(185.30,517.65) scale(0.69,1)" font-size="8.6" font-weight="normal" fill="#2a2a2a" text-anchor="end" font-family='"Liberation Sans", sans-serif' stroke="#2a2a2a" stroke-width="0.22" word-spacing="0.6">Senescence</text>
<text transform="translate(185.30,527.60) scale(0.69,1)" font-size="8.6" font-weight="normal" fill="#2a2a2a" text-anchor="end" font-family='"Liberation Sans", sans-serif' stroke="#2a2a2a" stroke-width="0.22" word-spacing="0.6">Eukaryotic Translation Initiation</text>
<text transform="translate(185.30,537.00) scale(0.69,1)" font-size="8.6" font-weight="normal" fill="#2a2a2a" text-anchor="end" font-family='"Liberation Sans", sans-serif' stroke="#2a2a2a" stroke-width="0.22" word-spacing="0.6">Cap-dependent Translation</text>
<text transform="translate(185.30,545.50) scale(0.69,1)" font-size="8.6" font-weight="normal" fill="#2a2a2a" text-anchor="end" font-family='"Liberation Sans", sans-serif' stroke="#2a2a2a" stroke-width="0.22" word-spacing="0.6">Initiation</text>
<text transform="translate(185.30,555.10) scale(0.69,1)" font-size="8.6" font-weight="normal" fill="#2a2a2a" text-anchor="end" font-family='"Liberation Sans", sans-serif' stroke="#2a2a2a" stroke-width="0.22" word-spacing="0.6">Selenoamino acid metabolism</text>
<text transform="translate(185.30,564.50) scale(0.69,1)" font-size="8.6" font-weight="normal" fill="#2a2a2a" text-anchor="end" font-family='"Liberation Sans", sans-serif' stroke="#2a2a2a" stroke-width="0.22" word-spacing="0.6">Nonsense-Mediated Decay</text>
<text transform="translate(185.30,573.95) scale(0.69,1)" font-size="8.6" font-weight="normal" fill="#2a2a2a" text-anchor="end" font-family='"Liberation Sans", sans-serif' stroke="#2a2a2a" stroke-width="0.22" word-spacing="0.6">Nonsense Mediated Decay (NMD)</text>
<text transform="translate(185.30,582.95) scale(0.69,1)" font-size="8.6" font-weight="normal" fill="#2a2a2a" text-anchor="end" font-family='"Liberation Sans", sans-serif' stroke="#2a2a2a" stroke-width="0.22" word-spacing="0.6">SRP-dependent cotranslational</text>
<text transform="translate(185.30,591.45) scale(0.69,1)" font-size="8.6" font-weight="normal" fill="#2a2a2a" text-anchor="end" font-family='"Liberation Sans", sans-serif' stroke="#2a2a2a" stroke-width="0.22" word-spacing="0.6">protein targeting to membrane</text>
<text transform="translate(185.30,600.80) scale(0.69,1)" font-size="8.6" font-weight="normal" fill="#2a2a2a" text-anchor="end" font-family='"Liberation Sans", sans-serif' stroke="#2a2a2a" stroke-width="0.22" word-spacing="0.6">GTP hydrolysis and joining of the</text>
<text transform="translate(185.30,609.30) scale(0.69,1)" font-size="8.6" font-weight="normal" fill="#2a2a2a" text-anchor="end" font-family='"Liberation Sans", sans-serif' stroke="#2a2a2a" stroke-width="0.22" word-spacing="0.6">60S ribosomal subunits</text>
<text transform="translate(185.30,619.25) scale(0.69,1)" font-size="8.6" font-weight="normal" fill="#2a2a2a" text-anchor="end" font-family='"Liberation Sans", sans-serif' stroke="#2a2a2a" stroke-width="0.22" word-spacing="0.6">silencing of Ceruloplasmin</text>
<text transform="translate(185.30,629.30) scale(0.69,1)" font-size="8.6" font-weight="normal" fill="#2a2a2a" text-anchor="end" font-family='"Liberation Sans", sans-serif' stroke="#2a2a2a" stroke-width="0.22" word-spacing="0.6">Formation of a pool of free 40S</text>
<text transform="translate(185.30,637.80) scale(0.69,1)" font-size="8.6" font-weight="normal" fill="#2a2a2a" text-anchor="end" font-family='"Liberation Sans", sans-serif' stroke="#2a2a2a" stroke-width="0.22" word-spacing="0.6">subunit</text>
<text transform="translate(185.30,648.10) scale(0.69,1)" font-size="8.6" font-weight="normal" fill="#2a2a2a" text-anchor="end" font-family='"Liberation Sans", sans-serif' stroke="#2a2a2a" stroke-width="0.22" word-spacing="0.6">Nonsense Mediated Decay</text>
<text transform="translate(185.30,657.10) scale(0.69,1)" font-size="8.6" font-weight="normal" fill="#2a2a2a" text-anchor="end" font-family='"Liberation Sans", sans-serif' stroke="#2a2a2a" stroke-width="0.22" word-spacing="0.6">independent of the Exon Junction</text>
<text transform="translate(185.30,666.10) scale(0.69,1)" font-size="8.6" font-weight="normal" fill="#2a2a2a" text-anchor="end" font-family='"Liberation Sans", sans-serif' stroke="#2a2a2a" stroke-width="0.22" word-spacing="0.6">Complex</text>
<text transform="translate(185.30,675.90) scale(0.69,1)" font-size="8.6" font-weight="normal" fill="#2a2a2a" text-anchor="end" font-family='"Liberation Sans", sans-serif' stroke="#2a2a2a" stroke-width="0.22" word-spacing="0.6">Eukaryotic Translation Termination</text>
<text transform="translate(185.30,685.40) scale(0.69,1)" font-size="8.6" font-weight="normal" fill="#2a2a2a" text-anchor="end" font-family='"Liberation Sans", sans-serif' stroke="#2a2a2a" stroke-width="0.22" word-spacing="0.6">Eukaryotic Translation Elongation</text>
<text transform="translate(185.30,694.60) scale(0.69,1)" font-size="8.6" font-weight="normal" fill="#2a2a2a" text-anchor="end" font-family='"Liberation Sans", sans-serif' stroke="#2a2a2a" stroke-width="0.22" word-spacing="0.6">Selenocysteine synthesis</text>
<text transform="translate(185.30,703.85) scale(0.69,1)" font-size="8.6" font-weight="normal" fill="#2a2a2a" text-anchor="end" font-family='"Liberation Sans", sans-serif' stroke="#2a2a2a" stroke-width="0.22" word-spacing="0.6">Peptide chain elongation</text>
<text transform="translate(185.30,713.20) scale(0.69,1)" font-size="8.6" font-weight="normal" fill="#2a2a2a" text-anchor="end" font-family='"Liberation Sans", sans-serif' stroke="#2a2a2a" stroke-width="0.22" word-spacing="0.6">Oncogenic MAPK signaling</text>
<text transform="translate(185.30,722.65) scale(0.69,1)" font-size="8.6" font-weight="normal" fill="#2a2a2a" text-anchor="end" font-family='"Liberation Sans", sans-serif' stroke="#2a2a2a" stroke-width="0.22" word-spacing="0.6">Signaling by BRAF and RAF fusions</text>
<text transform="translate(185.30,732.45) scale(0.69,1)" font-size="8.6" font-weight="normal" fill="#2a2a2a" text-anchor="end" font-family='"Liberation Sans", sans-serif' stroke="#2a2a2a" stroke-width="0.22" word-spacing="0.6">Intrinsic Pathway for Apoptosis</text>
<text x="62.30" y="779.60" font-size="19.5" font-weight="bold" fill="#111" text-anchor="start" font-family='"Liberation Sans", sans-serif' >D</text>
<text transform="translate(125.79,771.20) scale(0.72,1)" font-size="12.2" font-weight="normal" fill="#c8283c" text-anchor="start" font-family='"Liberation Sans", sans-serif'  stroke="#c8283c" stroke-width="0.25">Up</text>
<text transform="translate(137.02,771.20) scale(0.72,1)" font-size="12.2" font-weight="normal" fill="#333" text-anchor="start" font-family='"Liberation Sans", sans-serif'  stroke="#333" stroke-width="0.25">-</text>
<text transform="translate(139.95,771.20) scale(0.72,1)" font-size="12.2" font-weight="normal" fill="#3aa845" text-anchor="start" font-family='"Liberation Sans", sans-serif'  stroke="#3aa845" stroke-width="0.25">Down</text>
<text transform="translate(112.80,784.60) scale(0.72,1)" font-size="12.2" font-weight="normal" fill="#1a1a1a" text-anchor="start" font-family='"Liberation Sans", sans-serif'  stroke="#1a1a1a" stroke-width="0.25">regulated genes</text>
<g stroke="#c9c9c9" stroke-width="0.7">
<line x1="226.8" y1="918.8" x2="234.8" y2="900.0"/>
<line x1="226.8" y1="918.8" x2="205.0" y2="914.7"/>
<line x1="226.8" y1="918.8" x2="250.2" y2="927.5"/>
<line x1="226.8" y1="918.8" x2="112.7" y2="860.6"/>
<line x1="226.8" y1="918.8" x2="298.4" y2="924.0"/>
<line x1="226.8" y1="918.8" x2="210.5" y2="903.4"/>
<line x1="226.8" y1="918.8" x2="214.6" y2="933.2"/>
<line x1="226.8" y1="918.8" x2="245.4" y2="915.2"/>
<line x1="314.5" y1="810.8" x2="287.1" y2="765.1"/>
<line x1="314.5" y1="810.8" x2="270.2" y2="854.3"/>
<line x1="314.5" y1="810.8" x2="295.6" y2="851.5"/>
<line x1="314.5" y1="810.8" x2="441.9" y2="807.4"/>
<line x1="314.5" y1="810.8" x2="227.6" y2="839.2"/>
<line x1="268.5" y1="886.5" x2="270.7" y2="871.3"/>
<line x1="268.5" y1="886.5" x2="349.5" y2="901.9"/>
<line x1="268.5" y1="886.5" x2="285.8" y2="880.2"/>
<line x1="268.5" y1="886.5" x2="240.3" y2="888.6"/>
<line x1="268.5" y1="886.5" x2="270.2" y2="854.3"/>
<line x1="268.5" y1="886.5" x2="211.5" y2="957.8"/>
<line x1="268.5" y1="886.5" x2="237.7" y2="876.2"/>
<line x1="268.5" y1="886.5" x2="290.8" y2="897.6"/>
<line x1="268.5" y1="886.5" x2="256.5" y2="907.8"/>
<line x1="268.5" y1="886.5" x2="275.5" y2="941.8"/>
<line x1="268.5" y1="886.5" x2="269.2" y2="896.4"/>
<line x1="317.7" y1="869.8" x2="285.8" y2="880.2"/>
<line x1="317.7" y1="869.8" x2="301.3" y2="870.8"/>
<line x1="317.7" y1="869.8" x2="385.5" y2="853.3"/>
<line x1="317.7" y1="869.8" x2="203.2" y2="860.3"/>
<line x1="317.7" y1="869.8" x2="357.8" y2="844.8"/>
<line x1="317.7" y1="869.8" x2="340.1" y2="884.4"/>
<line x1="317.7" y1="869.8" x2="237.7" y2="876.2"/>
<line x1="317.7" y1="869.8" x2="322.2" y2="892.5"/>
<line x1="317.7" y1="869.8" x2="335.8" y2="911.2"/>
<line x1="317.7" y1="869.8" x2="295.6" y2="851.5"/>
<line x1="317.7" y1="869.8" x2="305.0" y2="893.8"/>
<line x1="347.5" y1="941.7" x2="259.2" y2="944.7"/>
<line x1="347.5" y1="941.7" x2="425.3" y2="887.3"/>
<line x1="347.5" y1="941.7" x2="297.8" y2="911.3"/>
<line x1="347.5" y1="941.7" x2="349.5" y2="901.9"/>
<line x1="347.5" y1="941.7" x2="368.1" y2="933.8"/>
<line x1="347.5" y1="941.7" x2="348.2" y2="972.9"/>
<line x1="347.5" y1="941.7" x2="372.7" y2="981.6"/>
<line x1="347.5" y1="941.7" x2="324.2" y2="926.7"/>
<line x1="347.5" y1="941.7" x2="359.4" y2="919.2"/>
<line x1="347.5" y1="941.7" x2="314.0" y2="972.2"/>
<line x1="347.5" y1="941.7" x2="335.8" y2="911.2"/>
<line x1="347.5" y1="941.7" x2="284.2" y2="923.8"/>
<line x1="259.2" y1="944.7" x2="313.8" y2="912.8"/>
<line x1="259.2" y1="944.7" x2="270.7" y2="871.3"/>
<line x1="259.2" y1="944.7" x2="271.8" y2="973.1"/>
<line x1="259.2" y1="944.7" x2="250.2" y2="927.5"/>
<line x1="259.2" y1="944.7" x2="288.6" y2="954.6"/>
<line x1="259.2" y1="944.7" x2="314.0" y2="972.2"/>
<line x1="259.2" y1="944.7" x2="245.0" y2="955.8"/>
<line x1="259.2" y1="944.7" x2="275.5" y2="941.8"/>
<line x1="259.2" y1="944.7" x2="245.4" y2="915.2"/>
<line x1="313.8" y1="912.8" x2="297.8" y2="911.3"/>
<line x1="313.8" y1="912.8" x2="305.0" y2="918.9"/>
<line x1="313.8" y1="912.8" x2="330.4" y2="901.2"/>
<line x1="313.8" y1="912.8" x2="324.2" y2="926.7"/>
<line x1="313.8" y1="912.8" x2="211.5" y2="957.8"/>
<line x1="313.8" y1="912.8" x2="237.7" y2="876.2"/>
<line x1="313.8" y1="912.8" x2="322.2" y2="892.5"/>
<line x1="313.8" y1="912.8" x2="335.8" y2="911.2"/>
<line x1="313.8" y1="912.8" x2="305.0" y2="893.8"/>
<line x1="313.8" y1="912.8" x2="298.4" y2="924.0"/>
<line x1="313.8" y1="912.8" x2="245.0" y2="955.8"/>
<line x1="425.3" y1="887.3" x2="349.5" y2="901.9"/>
<line x1="425.3" y1="887.3" x2="368.1" y2="933.8"/>
<line x1="425.3" y1="887.3" x2="450.8" y2="859.3"/>
<line x1="425.3" y1="887.3" x2="404.1" y2="867.3"/>
<line x1="425.3" y1="887.3" x2="428.9" y2="948.4"/>
<line x1="425.3" y1="887.3" x2="408.2" y2="912.8"/>
<line x1="425.3" y1="887.3" x2="388.0" y2="890.0"/>
<line x1="425.3" y1="887.3" x2="322.2" y2="892.5"/>
<line x1="425.3" y1="887.3" x2="359.4" y2="919.2"/>
<line x1="425.3" y1="887.3" x2="433.3" y2="906.2"/>
<line x1="425.3" y1="887.3" x2="441.9" y2="807.4"/>
<line x1="442.5" y1="974.4" x2="368.1" y2="933.8"/>
<line x1="442.5" y1="974.4" x2="348.2" y2="972.9"/>
<line x1="442.5" y1="974.4" x2="428.9" y2="948.4"/>
<line x1="442.5" y1="974.4" x2="426.6" y2="1005.2"/>
<line x1="234.8" y1="900.0" x2="205.0" y2="914.7"/>
<line x1="234.8" y1="900.0" x2="135.8" y2="898.5"/>
<line x1="234.8" y1="900.0" x2="240.3" y2="888.6"/>
<line x1="234.8" y1="900.0" x2="330.4" y2="901.2"/>
<line x1="234.8" y1="900.0" x2="211.5" y2="957.8"/>
<line x1="234.8" y1="900.0" x2="237.7" y2="876.2"/>
<line x1="234.8" y1="900.0" x2="207.4" y2="890.6"/>
<line x1="234.8" y1="900.0" x2="335.8" y2="911.2"/>
<line x1="234.8" y1="900.0" x2="256.5" y2="907.8"/>
<line x1="234.8" y1="900.0" x2="210.5" y2="903.4"/>
<line x1="234.8" y1="900.0" x2="214.6" y2="933.2"/>
<line x1="234.8" y1="900.0" x2="245.4" y2="915.2"/>
<line x1="270.7" y1="871.3" x2="201.6" y2="873.2"/>
<line x1="270.7" y1="871.3" x2="246.2" y2="858.7"/>
<line x1="270.7" y1="871.3" x2="285.8" y2="880.2"/>
<line x1="270.7" y1="871.3" x2="305.0" y2="918.9"/>
<line x1="270.7" y1="871.3" x2="366.3" y2="859.5"/>
<line x1="270.7" y1="871.3" x2="270.2" y2="854.3"/>
<line x1="270.7" y1="871.3" x2="237.7" y2="876.2"/>
<line x1="270.7" y1="871.3" x2="295.6" y2="851.5"/>
<line x1="270.7" y1="871.3" x2="256.5" y2="907.8"/>
<line x1="270.7" y1="871.3" x2="275.0" y2="842.5"/>
<line x1="270.7" y1="871.3" x2="284.2" y2="923.8"/>
<line x1="270.7" y1="871.3" x2="249.8" y2="815.3"/>
<line x1="270.7" y1="871.3" x2="298.4" y2="924.0"/>
<line x1="270.7" y1="871.3" x2="275.5" y2="941.8"/>
<line x1="270.7" y1="871.3" x2="269.2" y2="896.4"/>
<line x1="270.7" y1="871.3" x2="245.4" y2="915.2"/>
<line x1="205.0" y1="914.7" x2="301.3" y2="870.8"/>
<line x1="205.0" y1="914.7" x2="305.0" y2="918.9"/>
<line x1="205.0" y1="914.7" x2="178.6" y2="942.3"/>
<line x1="205.0" y1="914.7" x2="185.4" y2="882.6"/>
<line x1="205.0" y1="914.7" x2="207.4" y2="890.6"/>
<line x1="205.0" y1="914.7" x2="290.8" y2="897.6"/>
<line x1="205.0" y1="914.7" x2="305.0" y2="893.8"/>
<line x1="205.0" y1="914.7" x2="245.0" y2="955.8"/>
<line x1="205.0" y1="914.7" x2="210.5" y2="903.4"/>
<line x1="205.0" y1="914.7" x2="214.6" y2="933.2"/>
<line x1="205.0" y1="914.7" x2="245.4" y2="915.2"/>
<line x1="297.8" y1="911.3" x2="305.0" y2="918.9"/>
<line x1="297.8" y1="911.3" x2="290.8" y2="897.6"/>
<line x1="297.8" y1="911.3" x2="256.5" y2="907.8"/>
<line x1="297.8" y1="911.3" x2="305.0" y2="893.8"/>
<line x1="297.8" y1="911.3" x2="284.2" y2="923.8"/>
<line x1="297.8" y1="911.3" x2="298.4" y2="924.0"/>
<line x1="349.5" y1="901.9" x2="368.1" y2="933.8"/>
<line x1="349.5" y1="901.9" x2="330.4" y2="901.2"/>
<line x1="349.5" y1="901.9" x2="324.2" y2="926.7"/>
<line x1="349.5" y1="901.9" x2="340.1" y2="884.4"/>
<line x1="349.5" y1="901.9" x2="388.0" y2="890.0"/>
<line x1="349.5" y1="901.9" x2="322.2" y2="892.5"/>
<line x1="349.5" y1="901.9" x2="359.4" y2="919.2"/>
<line x1="349.5" y1="901.9" x2="335.8" y2="911.2"/>
<line x1="349.5" y1="901.9" x2="245.4" y2="915.2"/>
<line x1="201.6" y1="873.2" x2="250.2" y2="927.5"/>
<line x1="201.6" y1="873.2" x2="330.4" y2="901.2"/>
<line x1="201.6" y1="873.2" x2="203.2" y2="860.3"/>
<line x1="201.6" y1="873.2" x2="185.4" y2="882.6"/>
<line x1="201.6" y1="873.2" x2="340.1" y2="884.4"/>
<line x1="201.6" y1="873.2" x2="168.8" y2="862.7"/>
<line x1="201.6" y1="873.2" x2="237.7" y2="876.2"/>
<line x1="201.6" y1="873.2" x2="207.4" y2="890.6"/>
<line x1="201.6" y1="873.2" x2="295.6" y2="851.5"/>
<line x1="201.6" y1="873.2" x2="245.0" y2="955.8"/>
<line x1="201.6" y1="873.2" x2="210.5" y2="903.4"/>
<line x1="201.6" y1="873.2" x2="269.2" y2="896.4"/>
<line x1="246.2" y1="858.7" x2="240.3" y2="888.6"/>
<line x1="246.2" y1="858.7" x2="305.0" y2="918.9"/>
<line x1="246.2" y1="858.7" x2="324.2" y2="926.7"/>
<line x1="246.2" y1="858.7" x2="270.2" y2="854.3"/>
<line x1="246.2" y1="858.7" x2="300.0" y2="941.4"/>
<line x1="246.2" y1="858.7" x2="340.1" y2="884.4"/>
<line x1="246.2" y1="858.7" x2="211.5" y2="957.8"/>
<line x1="246.2" y1="858.7" x2="237.7" y2="876.2"/>
<line x1="246.2" y1="858.7" x2="322.2" y2="892.5"/>
<line x1="246.2" y1="858.7" x2="335.8" y2="911.2"/>
<line x1="246.2" y1="858.7" x2="275.0" y2="842.5"/>
<line x1="246.2" y1="858.7" x2="249.8" y2="815.3"/>
<line x1="246.2" y1="858.7" x2="298.4" y2="924.0"/>
<line x1="246.2" y1="858.7" x2="227.6" y2="839.2"/>
<line x1="246.2" y1="858.7" x2="245.4" y2="915.2"/>
<line x1="271.8" y1="973.1" x2="288.6" y2="954.6"/>
<line x1="271.8" y1="973.1" x2="314.0" y2="972.2"/>
<line x1="271.8" y1="973.1" x2="229.4" y2="972.9"/>
<line x1="271.8" y1="973.1" x2="292.2" y2="976.8"/>
<line x1="271.8" y1="973.1" x2="245.0" y2="955.8"/>
<line x1="271.8" y1="973.1" x2="275.5" y2="941.8"/>
<line x1="285.8" y1="880.2" x2="301.3" y2="870.8"/>
<line x1="285.8" y1="880.2" x2="270.2" y2="854.3"/>
<line x1="285.8" y1="880.2" x2="340.1" y2="884.4"/>
<line x1="285.8" y1="880.2" x2="168.8" y2="862.7"/>
<line x1="285.8" y1="880.2" x2="295.6" y2="851.5"/>
<line x1="285.8" y1="880.2" x2="290.8" y2="897.6"/>
<line x1="285.8" y1="880.2" x2="305.0" y2="893.8"/>
<line x1="285.8" y1="880.2" x2="249.8" y2="815.3"/>
<line x1="285.8" y1="880.2" x2="269.2" y2="896.4"/>
<line x1="301.3" y1="870.8" x2="305.0" y2="918.9"/>
<line x1="301.3" y1="870.8" x2="330.4" y2="901.2"/>
<line x1="301.3" y1="870.8" x2="366.3" y2="859.5"/>
<line x1="301.3" y1="870.8" x2="270.2" y2="854.3"/>
<line x1="301.3" y1="870.8" x2="357.8" y2="844.8"/>
<line x1="301.3" y1="870.8" x2="300.0" y2="941.4"/>
<line x1="301.3" y1="870.8" x2="388.0" y2="890.0"/>
<line x1="301.3" y1="870.8" x2="322.2" y2="892.5"/>
<line x1="301.3" y1="870.8" x2="295.6" y2="851.5"/>
<line x1="301.3" y1="870.8" x2="290.8" y2="897.6"/>
<line x1="301.3" y1="870.8" x2="305.0" y2="893.8"/>
<line x1="301.3" y1="870.8" x2="275.0" y2="842.5"/>
<line x1="368.1" y1="933.8" x2="324.2" y2="926.7"/>
<line x1="368.1" y1="933.8" x2="428.9" y2="948.4"/>
<line x1="368.1" y1="933.8" x2="359.4" y2="919.2"/>
<line x1="368.1" y1="933.8" x2="288.6" y2="954.6"/>
<line x1="368.1" y1="933.8" x2="335.8" y2="911.2"/>
<line x1="368.1" y1="933.8" x2="426.6" y2="1005.2"/>
<line x1="368.1" y1="933.8" x2="290.8" y2="897.6"/>
<line x1="368.1" y1="933.8" x2="284.2" y2="923.8"/>
<line x1="287.1" y1="765.1" x2="275.0" y2="842.5"/>
<line x1="250.2" y1="927.5" x2="203.2" y2="860.3"/>
<line x1="250.2" y1="927.5" x2="256.5" y2="907.8"/>
<line x1="250.2" y1="927.5" x2="284.2" y2="923.8"/>
<line x1="250.2" y1="927.5" x2="245.0" y2="955.8"/>
<line x1="250.2" y1="927.5" x2="214.6" y2="933.2"/>
<line x1="250.2" y1="927.5" x2="275.5" y2="941.8"/>
<line x1="250.2" y1="927.5" x2="245.4" y2="915.2"/>
<line x1="135.8" y1="898.5" x2="240.3" y2="888.6"/>
<line x1="135.8" y1="898.5" x2="178.6" y2="942.3"/>
<line x1="135.8" y1="898.5" x2="165.5" y2="901.8"/>
<line x1="135.8" y1="898.5" x2="207.4" y2="890.6"/>
<line x1="135.8" y1="898.5" x2="210.5" y2="903.4"/>
<line x1="348.2" y1="972.9" x2="372.7" y2="981.6"/>
<line x1="348.2" y1="972.9" x2="324.2" y2="926.7"/>
<line x1="348.2" y1="972.9" x2="314.0" y2="972.2"/>
<line x1="348.2" y1="972.9" x2="298.4" y2="924.0"/>
<line x1="348.2" y1="972.9" x2="275.5" y2="941.8"/>
<line x1="450.8" y1="859.3" x2="382.7" y2="827.7"/>
<line x1="450.8" y1="859.3" x2="388.0" y2="890.0"/>
<line x1="240.3" y1="888.6" x2="324.2" y2="926.7"/>
<line x1="240.3" y1="888.6" x2="185.4" y2="882.6"/>
<line x1="240.3" y1="888.6" x2="211.5" y2="957.8"/>
<line x1="240.3" y1="888.6" x2="237.7" y2="876.2"/>
<line x1="240.3" y1="888.6" x2="207.4" y2="890.6"/>
<line x1="240.3" y1="888.6" x2="335.8" y2="911.2"/>
<line x1="240.3" y1="888.6" x2="295.6" y2="851.5"/>
<line x1="240.3" y1="888.6" x2="256.5" y2="907.8"/>
<line x1="240.3" y1="888.6" x2="275.5" y2="941.8"/>
<line x1="240.3" y1="888.6" x2="269.2" y2="896.4"/>
<line x1="240.3" y1="888.6" x2="245.4" y2="915.2"/>
<line x1="305.0" y1="918.9" x2="324.2" y2="926.7"/>
<line x1="305.0" y1="918.9" x2="300.0" y2="941.4"/>
<line x1="305.0" y1="918.9" x2="413.2" y2="934.9"/>
<line x1="305.0" y1="918.9" x2="207.4" y2="890.6"/>
<line x1="305.0" y1="918.9" x2="288.6" y2="954.6"/>
<line x1="305.0" y1="918.9" x2="290.8" y2="897.6"/>
<line x1="305.0" y1="918.9" x2="256.5" y2="907.8"/>
<line x1="305.0" y1="918.9" x2="284.2" y2="923.8"/>
<line x1="305.0" y1="918.9" x2="298.4" y2="924.0"/>
<line x1="305.0" y1="918.9" x2="275.5" y2="941.8"/>
<line x1="305.0" y1="918.9" x2="269.2" y2="896.4"/>
<line x1="305.0" y1="918.9" x2="245.4" y2="915.2"/>
<line x1="385.5" y1="853.3" x2="404.1" y2="867.3"/>
<line x1="385.5" y1="853.3" x2="366.3" y2="859.5"/>
<line x1="385.5" y1="853.3" x2="357.8" y2="844.8"/>
<line x1="385.5" y1="853.3" x2="382.7" y2="827.7"/>
<line x1="385.5" y1="853.3" x2="388.0" y2="890.0"/>
<line x1="404.1" y1="867.3" x2="366.3" y2="859.5"/>
<line x1="404.1" y1="867.3" x2="340.1" y2="884.4"/>
<line x1="404.1" y1="867.3" x2="382.7" y2="827.7"/>
<line x1="404.1" y1="867.3" x2="388.0" y2="890.0"/>
<line x1="178.6" y1="942.3" x2="211.5" y2="957.8"/>
<line x1="178.6" y1="942.3" x2="214.6" y2="933.2"/>
<line x1="330.4" y1="901.2" x2="324.2" y2="926.7"/>
<line x1="330.4" y1="901.2" x2="340.1" y2="884.4"/>
<line x1="330.4" y1="901.2" x2="428.9" y2="948.4"/>
<line x1="330.4" y1="901.2" x2="388.0" y2="890.0"/>
<line x1="330.4" y1="901.2" x2="322.2" y2="892.5"/>
<line x1="330.4" y1="901.2" x2="359.4" y2="919.2"/>
<line x1="330.4" y1="901.2" x2="335.8" y2="911.2"/>
<line x1="330.4" y1="901.2" x2="256.5" y2="907.8"/>
<line x1="165.5" y1="901.8" x2="185.4" y2="882.6"/>
<line x1="165.5" y1="901.8" x2="168.8" y2="862.7"/>
<line x1="165.5" y1="901.8" x2="207.4" y2="890.6"/>
<line x1="165.5" y1="901.8" x2="290.8" y2="897.6"/>
<line x1="165.5" y1="901.8" x2="214.6" y2="933.2"/>
<line x1="372.7" y1="981.6" x2="426.6" y2="1005.2"/>
<line x1="324.2" y1="926.7" x2="300.0" y2="941.4"/>
<line x1="324.2" y1="926.7" x2="413.2" y2="934.9"/>
<line x1="324.2" y1="926.7" x2="207.4" y2="890.6"/>
<line x1="324.2" y1="926.7" x2="359.4" y2="919.2"/>
<line x1="324.2" y1="926.7" x2="288.6" y2="954.6"/>
<line x1="324.2" y1="926.7" x2="335.8" y2="911.2"/>
<line x1="324.2" y1="926.7" x2="433.3" y2="906.2"/>
<line x1="324.2" y1="926.7" x2="298.4" y2="924.0"/>
<line x1="324.2" y1="926.7" x2="214.6" y2="933.2"/>
<line x1="203.2" y1="860.3" x2="185.4" y2="882.6"/>
<line x1="203.2" y1="860.3" x2="270.2" y2="854.3"/>
<line x1="203.2" y1="860.3" x2="300.0" y2="941.4"/>
<line x1="203.2" y1="860.3" x2="211.5" y2="957.8"/>
<line x1="203.2" y1="860.3" x2="168.8" y2="862.7"/>
<line x1="203.2" y1="860.3" x2="237.7" y2="876.2"/>
<line x1="203.2" y1="860.3" x2="207.4" y2="890.6"/>
<line x1="203.2" y1="860.3" x2="290.8" y2="897.6"/>
<line x1="203.2" y1="860.3" x2="305.0" y2="893.8"/>
<line x1="203.2" y1="860.3" x2="245.0" y2="955.8"/>
<line x1="203.2" y1="860.3" x2="227.6" y2="839.2"/>
<line x1="203.2" y1="860.3" x2="269.2" y2="896.4"/>
<line x1="203.2" y1="860.3" x2="245.4" y2="915.2"/>
<line x1="185.4" y1="882.6" x2="168.8" y2="862.7"/>
<line x1="185.4" y1="882.6" x2="207.4" y2="890.6"/>
<line x1="185.4" y1="882.6" x2="112.7" y2="860.6"/>
<line x1="185.4" y1="882.6" x2="290.8" y2="897.6"/>
<line x1="185.4" y1="882.6" x2="210.5" y2="903.4"/>
<line x1="366.3" y1="859.5" x2="357.8" y2="844.8"/>
<line x1="366.3" y1="859.5" x2="340.1" y2="884.4"/>
<line x1="366.3" y1="859.5" x2="382.7" y2="827.7"/>
<line x1="366.3" y1="859.5" x2="388.0" y2="890.0"/>
<line x1="270.2" y1="854.3" x2="295.6" y2="851.5"/>
<line x1="270.2" y1="854.3" x2="290.8" y2="897.6"/>
<line x1="270.2" y1="854.3" x2="275.0" y2="842.5"/>
<line x1="270.2" y1="854.3" x2="249.8" y2="815.3"/>
<line x1="270.2" y1="854.3" x2="269.2" y2="896.4"/>
<line x1="357.8" y1="844.8" x2="382.7" y2="827.7"/>
<line x1="300.0" y1="941.4" x2="237.7" y2="876.2"/>
<line x1="300.0" y1="941.4" x2="288.6" y2="954.6"/>
<line x1="300.0" y1="941.4" x2="314.0" y2="972.2"/>
<line x1="300.0" y1="941.4" x2="433.3" y2="906.2"/>
<line x1="300.0" y1="941.4" x2="284.2" y2="923.8"/>
<line x1="300.0" y1="941.4" x2="298.4" y2="924.0"/>
<line x1="300.0" y1="941.4" x2="292.2" y2="976.8"/>
<line x1="300.0" y1="941.4" x2="275.5" y2="941.8"/>
<line x1="340.1" y1="884.4" x2="408.2" y2="912.8"/>
<line x1="340.1" y1="884.4" x2="322.2" y2="892.5"/>
<line x1="340.1" y1="884.4" x2="335.8" y2="911.2"/>
<line x1="340.1" y1="884.4" x2="295.6" y2="851.5"/>
<line x1="340.1" y1="884.4" x2="256.5" y2="907.8"/>
<line x1="211.5" y1="957.8" x2="335.8" y2="911.2"/>
<line x1="211.5" y1="957.8" x2="229.4" y2="972.9"/>
<line x1="211.5" y1="957.8" x2="256.5" y2="907.8"/>
<line x1="211.5" y1="957.8" x2="298.4" y2="924.0"/>
<line x1="211.5" y1="957.8" x2="245.0" y2="955.8"/>
<line x1="211.5" y1="957.8" x2="214.6" y2="933.2"/>
<line x1="413.2" y1="934.9" x2="428.9" y2="948.4"/>
<line x1="413.2" y1="934.9" x2="408.2" y2="912.8"/>
<line x1="413.2" y1="934.9" x2="359.4" y2="919.2"/>
<line x1="413.2" y1="934.9" x2="433.3" y2="906.2"/>
<line x1="413.2" y1="934.9" x2="298.4" y2="924.0"/>
<line x1="168.8" y1="862.7" x2="207.4" y2="890.6"/>
<line x1="168.8" y1="862.7" x2="227.6" y2="839.2"/>
<line x1="237.7" y1="876.2" x2="207.4" y2="890.6"/>
<line x1="237.7" y1="876.2" x2="288.6" y2="954.6"/>
<line x1="237.7" y1="876.2" x2="295.6" y2="851.5"/>
<line x1="237.7" y1="876.2" x2="284.2" y2="923.8"/>
<line x1="237.7" y1="876.2" x2="249.8" y2="815.3"/>
<line x1="237.7" y1="876.2" x2="210.5" y2="903.4"/>
<line x1="237.7" y1="876.2" x2="227.6" y2="839.2"/>
<line x1="237.7" y1="876.2" x2="245.4" y2="915.2"/>
<line x1="382.7" y1="827.7" x2="295.6" y2="851.5"/>
<line x1="382.7" y1="827.7" x2="275.0" y2="842.5"/>
<line x1="428.9" y1="948.4" x2="433.3" y2="906.2"/>
<line x1="408.2" y1="912.8" x2="388.0" y2="890.0"/>
<line x1="408.2" y1="912.8" x2="335.8" y2="911.2"/>
<line x1="408.2" y1="912.8" x2="433.3" y2="906.2"/>
<line x1="408.2" y1="912.8" x2="284.2" y2="923.8"/>
<line x1="388.0" y1="890.0" x2="335.8" y2="911.2"/>
<line x1="207.4" y1="890.6" x2="322.2" y2="892.5"/>
<line x1="207.4" y1="890.6" x2="335.8" y2="911.2"/>
<line x1="207.4" y1="890.6" x2="290.8" y2="897.6"/>
<line x1="207.4" y1="890.6" x2="210.5" y2="903.4"/>
<line x1="207.4" y1="890.6" x2="214.6" y2="933.2"/>
<line x1="322.2" y1="892.5" x2="288.6" y2="954.6"/>
<line x1="322.2" y1="892.5" x2="335.8" y2="911.2"/>
<line x1="322.2" y1="892.5" x2="305.0" y2="893.8"/>
<line x1="322.2" y1="892.5" x2="210.5" y2="903.4"/>
<line x1="322.2" y1="892.5" x2="269.2" y2="896.4"/>
<line x1="322.2" y1="892.5" x2="245.4" y2="915.2"/>
<line x1="112.7" y1="860.6" x2="138.5" y2="804.8"/>
<line x1="112.7" y1="860.6" x2="210.5" y2="903.4"/>
<line x1="359.4" y1="919.2" x2="335.8" y2="911.2"/>
<line x1="359.4" y1="919.2" x2="269.2" y2="896.4"/>
<line x1="288.6" y1="954.6" x2="314.0" y2="972.2"/>
<line x1="288.6" y1="954.6" x2="335.8" y2="911.2"/>
<line x1="288.6" y1="954.6" x2="298.4" y2="924.0"/>
<line x1="288.6" y1="954.6" x2="292.2" y2="976.8"/>
<line x1="288.6" y1="954.6" x2="214.6" y2="933.2"/>
<line x1="288.6" y1="954.6" x2="275.5" y2="941.8"/>
<line x1="288.6" y1="954.6" x2="269.2" y2="896.4"/>
<line x1="314.0" y1="972.2" x2="292.2" y2="976.8"/>
<line x1="335.8" y1="911.2" x2="298.4" y2="924.0"/>
<line x1="295.6" y1="851.5" x2="275.0" y2="842.5"/>
<line x1="295.6" y1="851.5" x2="245.0" y2="955.8"/>
<line x1="290.8" y1="897.6" x2="305.0" y2="893.8"/>
<line x1="290.8" y1="897.6" x2="284.2" y2="923.8"/>
<line x1="290.8" y1="897.6" x2="269.2" y2="896.4"/>
<line x1="229.4" y1="972.9" x2="245.0" y2="955.8"/>
<line x1="256.5" y1="907.8" x2="269.2" y2="896.4"/>
<line x1="256.5" y1="907.8" x2="245.4" y2="915.2"/>
<line x1="305.0" y1="893.8" x2="210.5" y2="903.4"/>
<line x1="305.0" y1="893.8" x2="214.6" y2="933.2"/>
<line x1="305.0" y1="893.8" x2="245.4" y2="915.2"/>
<line x1="138.5" y1="804.8" x2="275.0" y2="842.5"/>
<line x1="275.0" y1="842.5" x2="249.8" y2="815.3"/>
<line x1="284.2" y1="923.8" x2="298.4" y2="924.0"/>
<line x1="284.2" y1="923.8" x2="210.5" y2="903.4"/>
<line x1="284.2" y1="923.8" x2="275.5" y2="941.8"/>
<line x1="249.8" y1="815.3" x2="227.6" y2="839.2"/>
<line x1="298.4" y1="924.0" x2="245.0" y2="955.8"/>
<line x1="298.4" y1="924.0" x2="214.6" y2="933.2"/>
<line x1="298.4" y1="924.0" x2="275.5" y2="941.8"/>
<line x1="292.2" y1="976.8" x2="275.5" y2="941.8"/>
<line x1="245.0" y1="955.8" x2="275.5" y2="941.8"/>
<line x1="210.5" y1="903.4" x2="214.6" y2="933.2"/>
<line x1="214.6" y1="933.2" x2="245.4" y2="915.2"/>
<line x1="269.2" y1="896.4" x2="245.4" y2="915.2"/>
</g>
<circle cx="138.50" cy="804.80" r="8.2" fill="#5ebf44" stroke="#3a9a2a" stroke-width="0.7"/>
<circle cx="112.70" cy="860.60" r="8.2" fill="#9b9b9b" stroke="#5a5a5a" stroke-width="0.7"/>
<circle cx="168.80" cy="862.70" r="8.2" fill="#9b9b9b" stroke="#5a5a5a" stroke-width="0.7"/>
<circle cx="203.20" cy="860.30" r="8.2" fill="#9b9b9b" stroke="#5a5a5a" stroke-width="0.7"/>
<circle cx="201.60" cy="873.20" r="8.2" fill="#9b9b9b" stroke="#5a5a5a" stroke-width="0.7"/>
<circle cx="185.40" cy="882.60" r="8.2" fill="#ec2227" stroke="#a51619" stroke-width="0.7"/>
<circle cx="227.60" cy="839.20" r="8.2" fill="#5ebf44" stroke="#3a9a2a" stroke-width="0.7"/>
<circle cx="249.80" cy="815.30" r="8.2" fill="#9b9b9b" stroke="#5a5a5a" stroke-width="0.7"/>
<circle cx="287.10" cy="765.10" r="8.2" fill="#9b9b9b" stroke="#5a5a5a" stroke-width="0.7"/>
<circle cx="314.50" cy="810.80" r="8.2" fill="#9b9b9b" stroke="#5a5a5a" stroke-width="0.7"/>
<circle cx="441.90" cy="807.40" r="8.2" fill="#9b9b9b" stroke="#5a5a5a" stroke-width="0.7"/>
<circle cx="275.00" cy="842.50" r="8.2" fill="#9b9b9b" stroke="#5a5a5a" stroke-width="0.7"/>
<circle cx="295.60" cy="851.50" r="8.2" fill="#5ebf44" stroke="#3a9a2a" stroke-width="0.7"/>
<circle cx="270.20" cy="854.30" r="8.2" fill="#9b9b9b" stroke="#5a5a5a" stroke-width="0.7"/>
<circle cx="246.20" cy="858.70" r="8.2" fill="#9b9b9b" stroke="#5a5a5a" stroke-width="0.7"/>
<circle cx="270.70" cy="871.30" r="8.2" fill="#ec2227" stroke="#a51619" stroke-width="0.7"/>
<circle cx="301.30" cy="870.80" r="8.2" fill="#9b9b9b" stroke="#5a5a5a" stroke-width="0.7"/>
<circle cx="317.70" cy="869.80" r="8.2" fill="#9b9b9b" stroke="#5a5a5a" stroke-width="0.7"/>
<circle cx="237.70" cy="876.20" r="8.2" fill="#9b9b9b" stroke="#5a5a5a" stroke-width="0.7"/>
<circle cx="285.80" cy="880.20" r="8.2" fill="#9b9b9b" stroke="#5a5a5a" stroke-width="0.7"/>
<circle cx="268.50" cy="886.50" r="8.2" fill="#9b9b9b" stroke="#5a5a5a" stroke-width="0.7"/>
<circle cx="240.30" cy="888.60" r="8.2" fill="#9b9b9b" stroke="#5a5a5a" stroke-width="0.7"/>
<circle cx="207.40" cy="890.60" r="8.2" fill="#9b9b9b" stroke="#5a5a5a" stroke-width="0.7"/>
<circle cx="269.20" cy="896.40" r="8.2" fill="#9b9b9b" stroke="#5a5a5a" stroke-width="0.7"/>
<circle cx="234.80" cy="900.00" r="8.2" fill="#9b9b9b" stroke="#5a5a5a" stroke-width="0.7"/>
<circle cx="290.80" cy="897.60" r="8.2" fill="#9b9b9b" stroke="#5a5a5a" stroke-width="0.7"/>
<circle cx="305.00" cy="893.80" r="8.2" fill="#9b9b9b" stroke="#5a5a5a" stroke-width="0.7"/>
<circle cx="322.20" cy="892.50" r="8.2" fill="#9b9b9b" stroke="#5a5a5a" stroke-width="0.7"/>
<circle cx="330.40" cy="901.20" r="8.2" fill="#9b9b9b" stroke="#5a5a5a" stroke-width="0.7"/>
<circle cx="340.10" cy="884.40" r="8.2" fill="#9b9b9b" stroke="#5a5a5a" stroke-width="0.7"/>
<circle cx="349.50" cy="901.90" r="8.2" fill="#9b9b9b" stroke="#5a5a5a" stroke-width="0.7"/>
<circle cx="210.50" cy="903.40" r="8.2" fill="#9b9b9b" stroke="#5a5a5a" stroke-width="0.7"/>
<circle cx="256.50" cy="907.80" r="8.2" fill="#9b9b9b" stroke="#5a5a5a" stroke-width="0.7"/>
<circle cx="297.80" cy="911.30" r="8.2" fill="#ec2227" stroke="#a51619" stroke-width="0.7"/>
<circle cx="313.80" cy="912.80" r="8.2" fill="#9b9b9b" stroke="#5a5a5a" stroke-width="0.7"/>
<circle cx="335.80" cy="911.20" r="8.2" fill="#9b9b9b" stroke="#5a5a5a" stroke-width="0.7"/>
<circle cx="205.00" cy="914.70" r="8.2" fill="#9b9b9b" stroke="#5a5a5a" stroke-width="0.7"/>
<circle cx="245.40" cy="915.20" r="8.2" fill="#9b9b9b" stroke="#5a5a5a" stroke-width="0.7"/>
<circle cx="226.80" cy="918.80" r="8.2" fill="#9b9b9b" stroke="#5a5a5a" stroke-width="0.7"/>
<circle cx="305.00" cy="918.90" r="8.2" fill="#9b9b9b" stroke="#5a5a5a" stroke-width="0.7"/>
<circle cx="284.20" cy="923.80" r="8.2" fill="#9b9b9b" stroke="#5a5a5a" stroke-width="0.7"/>
<circle cx="298.40" cy="924.00" r="8.2" fill="#9b9b9b" stroke="#5a5a5a" stroke-width="0.7"/>
<circle cx="250.20" cy="927.50" r="8.2" fill="#9b9b9b" stroke="#5a5a5a" stroke-width="0.7"/>
<circle cx="214.60" cy="933.20" r="8.2" fill="#ec2227" stroke="#a51619" stroke-width="0.7"/>
<circle cx="324.20" cy="926.70" r="8.2" fill="#5ebf44" stroke="#3a9a2a" stroke-width="0.7"/>
<circle cx="259.20" cy="944.70" r="8.2" fill="#9b9b9b" stroke="#5a5a5a" stroke-width="0.7"/>
<circle cx="275.50" cy="941.80" r="8.2" fill="#9b9b9b" stroke="#5a5a5a" stroke-width="0.7"/>
<circle cx="300.00" cy="941.40" r="8.2" fill="#9b9b9b" stroke="#5a5a5a" stroke-width="0.7"/>
<circle cx="288.60" cy="954.60" r="8.2" fill="#9b9b9b" stroke="#5a5a5a" stroke-width="0.7"/>
<circle cx="245.00" cy="955.80" r="8.2" fill="#9b9b9b" stroke="#5a5a5a" stroke-width="0.7"/>
<circle cx="178.60" cy="942.30" r="8.2" fill="#ec2227" stroke="#a51619" stroke-width="0.7"/>
<circle cx="211.50" cy="957.80" r="8.2" fill="#5ebf44" stroke="#3a9a2a" stroke-width="0.7"/>
<circle cx="229.40" cy="972.90" r="8.2" fill="#9b9b9b" stroke="#5a5a5a" stroke-width="0.7"/>
<circle cx="271.80" cy="973.10" r="8.2" fill="#9b9b9b" stroke="#5a5a5a" stroke-width="0.7"/>
<circle cx="292.20" cy="976.80" r="8.2" fill="#9b9b9b" stroke="#5a5a5a" stroke-width="0.7"/>
<circle cx="314.00" cy="972.20" r="8.2" fill="#9b9b9b" stroke="#5a5a5a" stroke-width="0.7"/>
<circle cx="135.80" cy="898.50" r="8.2" fill="#9b9b9b" stroke="#5a5a5a" stroke-width="0.7"/>
<circle cx="165.50" cy="901.80" r="8.2" fill="#9b9b9b" stroke="#5a5a5a" stroke-width="0.7"/>
<circle cx="382.70" cy="827.70" r="8.2" fill="#9b9b9b" stroke="#5a5a5a" stroke-width="0.7"/>
<circle cx="357.80" cy="844.80" r="8.2" fill="#9b9b9b" stroke="#5a5a5a" stroke-width="0.7"/>
<circle cx="385.50" cy="853.30" r="8.2" fill="#9b9b9b" stroke="#5a5a5a" stroke-width="0.7"/>
<circle cx="366.30" cy="859.50" r="8.2" fill="#9b9b9b" stroke="#5a5a5a" stroke-width="0.7"/>
<circle cx="404.10" cy="867.30" r="8.2" fill="#ec2227" stroke="#a51619" stroke-width="0.7"/>
<circle cx="450.80" cy="859.30" r="8.2" fill="#9b9b9b" stroke="#5a5a5a" stroke-width="0.7"/>
<circle cx="425.30" cy="887.30" r="8.2" fill="#5ebf44" stroke="#3a9a2a" stroke-width="0.7"/>
<circle cx="388.00" cy="890.00" r="8.2" fill="#9b9b9b" stroke="#5a5a5a" stroke-width="0.7"/>
<circle cx="433.30" cy="906.20" r="8.2" fill="#9b9b9b" stroke="#5a5a5a" stroke-width="0.7"/>
<circle cx="408.20" cy="912.80" r="8.2" fill="#9b9b9b" stroke="#5a5a5a" stroke-width="0.7"/>
<circle cx="359.40" cy="919.20" r="8.2" fill="#9b9b9b" stroke="#5a5a5a" stroke-width="0.7"/>
<circle cx="368.10" cy="933.80" r="8.2" fill="#9b9b9b" stroke="#5a5a5a" stroke-width="0.7"/>
<circle cx="413.20" cy="934.90" r="8.2" fill="#9b9b9b" stroke="#5a5a5a" stroke-width="0.7"/>
<circle cx="347.50" cy="941.70" r="8.2" fill="#9b9b9b" stroke="#5a5a5a" stroke-width="0.7"/>
<circle cx="428.90" cy="948.40" r="8.2" fill="#9b9b9b" stroke="#5a5a5a" stroke-width="0.7"/>
<circle cx="348.20" cy="972.90" r="8.2" fill="#5ebf44" stroke="#3a9a2a" stroke-width="0.7"/>
<circle cx="372.70" cy="981.60" r="8.2" fill="#5ebf44" stroke="#3a9a2a" stroke-width="0.7"/>
<circle cx="442.50" cy="974.40" r="8.2" fill="#9b9b9b" stroke="#5a5a5a" stroke-width="0.7"/>
<circle cx="426.60" cy="1005.20" r="8.2" fill="#9b9b9b" stroke="#5a5a5a" stroke-width="0.7"/>
<text transform="translate(138.50,806.60) scale(0.740,1)" font-size="5.2" fill="#137a18" stroke="#137a18" stroke-width="0.08" text-anchor="middle" font-family='"Liberation Serif", serif'>TMD5</text>
<text transform="translate(112.70,862.40) scale(0.740,1)" font-size="5.2" fill="#1e1e1e" stroke="#1e1e1e" stroke-width="0.08" text-anchor="middle" font-family='"Liberation Serif", serif'>PXK</text>
<text transform="translate(168.80,864.50) scale(0.740,1)" font-size="5.2" fill="#1e1e1e" stroke="#1e1e1e" stroke-width="0.08" text-anchor="middle" font-family='"Liberation Serif", serif'>NCK1</text>
<text transform="translate(203.20,862.10) scale(0.740,1)" font-size="5.2" fill="#1e1e1e" stroke="#1e1e1e" stroke-width="0.08" text-anchor="middle" font-family='"Liberation Serif", serif'>LASP1</text>
<text transform="translate(201.60,875.00) scale(0.740,1)" font-size="5.2" fill="#1e1e1e" stroke="#1e1e1e" stroke-width="0.08" text-anchor="middle" font-family='"Liberation Serif", serif'>DBC1</text>
<text transform="translate(185.40,884.40) scale(0.740,1)" font-size="5.2" fill="#7a0a0a" stroke="#7a0a0a" stroke-width="0.08" text-anchor="middle" font-family='"Liberation Serif", serif'>LCP2</text>
<text transform="translate(227.60,841.00) scale(0.740,1)" font-size="5.2" fill="#137a18" stroke="#137a18" stroke-width="0.08" text-anchor="middle" font-family='"Liberation Serif", serif'>WIPF2</text>
<text transform="translate(249.80,817.10) scale(0.740,1)" font-size="5.2" fill="#1e1e1e" stroke="#1e1e1e" stroke-width="0.08" text-anchor="middle" font-family='"Liberation Serif", serif'>TRAP1</text>
<text transform="translate(287.10,766.90) scale(0.740,1)" font-size="5.2" fill="#1e1e1e" stroke="#1e1e1e" stroke-width="0.08" text-anchor="middle" font-family='"Liberation Serif", serif'>EVL</text>
<text transform="translate(314.50,812.60) scale(0.740,1)" font-size="5.2" fill="#1e1e1e" stroke="#1e1e1e" stroke-width="0.08" text-anchor="middle" font-family='"Liberation Serif", serif'>APBB1</text>
<text transform="translate(441.90,809.20) scale(0.740,1)" font-size="5.2" fill="#1e1e1e" stroke="#1e1e1e" stroke-width="0.08" text-anchor="middle" font-family='"Liberation Serif", serif'>TADA3</text>
<text transform="translate(275.00,844.30) scale(0.740,1)" font-size="5.2" fill="#1e1e1e" stroke="#1e1e1e" stroke-width="0.08" text-anchor="middle" font-family='"Liberation Serif", serif'>TMEM5</text>
<text transform="translate(295.60,853.30) scale(0.740,1)" font-size="5.2" fill="#137a18" stroke="#137a18" stroke-width="0.08" text-anchor="middle" font-family='"Liberation Serif", serif'>RPS27A</text>
<text transform="translate(270.20,856.10) scale(0.740,1)" font-size="5.2" fill="#1e1e1e" stroke="#1e1e1e" stroke-width="0.08" text-anchor="middle" font-family='"Liberation Serif", serif'>LPP</text>
<text transform="translate(246.20,860.50) scale(0.740,1)" font-size="5.2" fill="#1e1e1e" stroke="#1e1e1e" stroke-width="0.08" text-anchor="middle" font-family='"Liberation Serif", serif'>DOLOA2</text>
<text transform="translate(270.70,873.10) scale(0.740,1)" font-size="5.2" fill="#7a0a0a" stroke="#7a0a0a" stroke-width="0.08" text-anchor="middle" font-family='"Liberation Serif", serif'>CLTC</text>
<text transform="translate(301.30,872.60) scale(0.740,1)" font-size="5.2" fill="#1e1e1e" stroke="#1e1e1e" stroke-width="0.08" text-anchor="middle" font-family='"Liberation Serif", serif'>EIF4A3</text>
<text transform="translate(317.70,871.60) scale(0.740,1)" font-size="5.2" fill="#1e1e1e" stroke="#1e1e1e" stroke-width="0.08" text-anchor="middle" font-family='"Liberation Serif", serif'>ARRB2</text>
<text transform="translate(237.70,878.00) scale(0.740,1)" font-size="5.2" fill="#1e1e1e" stroke="#1e1e1e" stroke-width="0.08" text-anchor="middle" font-family='"Liberation Serif", serif'>NGS</text>
<text transform="translate(285.80,882.00) scale(0.740,1)" font-size="5.2" fill="#1e1e1e" stroke="#1e1e1e" stroke-width="0.08" text-anchor="middle" font-family='"Liberation Serif", serif'>EGFR</text>
<text transform="translate(268.50,888.30) scale(0.740,1)" font-size="5.2" fill="#1e1e1e" stroke="#1e1e1e" stroke-width="0.08" text-anchor="middle" font-family='"Liberation Serif", serif'>APP</text>
<text transform="translate(240.30,890.40) scale(0.740,1)" font-size="5.2" fill="#1e1e1e" stroke="#1e1e1e" stroke-width="0.08" text-anchor="middle" font-family='"Liberation Serif", serif'>GRB2</text>
<text transform="translate(207.40,892.40) scale(0.740,1)" font-size="5.2" fill="#1e1e1e" stroke="#1e1e1e" stroke-width="0.08" text-anchor="middle" font-family='"Liberation Serif", serif'>PIK3R1</text>
<text transform="translate(269.20,898.20) scale(0.740,1)" font-size="5.2" fill="#1e1e1e" stroke="#1e1e1e" stroke-width="0.08" text-anchor="middle" font-family='"Liberation Serif", serif'>WWOX</text>
<text transform="translate(234.80,901.80) scale(0.740,1)" font-size="5.2" fill="#1e1e1e" stroke="#1e1e1e" stroke-width="0.08" text-anchor="middle" font-family='"Liberation Serif", serif'>CDK1</text>
<text transform="translate(290.80,899.40) scale(0.740,1)" font-size="5.2" fill="#1e1e1e" stroke="#1e1e1e" stroke-width="0.08" text-anchor="middle" font-family='"Liberation Serif", serif'>SKP2</text>
<text transform="translate(305.00,895.60) scale(0.740,1)" font-size="5.2" fill="#1e1e1e" stroke="#1e1e1e" stroke-width="0.08" text-anchor="middle" font-family='"Liberation Serif", serif'>SYK1</text>
<text transform="translate(322.20,894.30) scale(0.740,1)" font-size="5.2" fill="#1e1e1e" stroke="#1e1e1e" stroke-width="0.08" text-anchor="middle" font-family='"Liberation Serif", serif'>PPP1</text>
<text transform="translate(330.40,903.00) scale(0.740,1)" font-size="5.2" fill="#1e1e1e" stroke="#1e1e1e" stroke-width="0.08" text-anchor="middle" font-family='"Liberation Serif", serif'>ILF3</text>
<text transform="translate(340.10,886.20) scale(0.740,1)" font-size="5.2" fill="#1e1e1e" stroke="#1e1e1e" stroke-width="0.08" text-anchor="middle" font-family='"Liberation Serif", serif'>MCM3</text>
<text transform="translate(349.50,903.70) scale(0.740,1)" font-size="5.2" fill="#1e1e1e" stroke="#1e1e1e" stroke-width="0.08" text-anchor="middle" font-family='"Liberation Serif", serif'>DAXX</text>
<text transform="translate(210.50,905.20) scale(0.740,1)" font-size="5.2" fill="#1e1e1e" stroke="#1e1e1e" stroke-width="0.08" text-anchor="middle" font-family='"Liberation Serif", serif'>USP1</text>
<text transform="translate(256.50,909.60) scale(0.740,1)" font-size="5.2" fill="#1e1e1e" stroke="#1e1e1e" stroke-width="0.08" text-anchor="middle" font-family='"Liberation Serif", serif'>SRPK2</text>
<text transform="translate(297.80,913.10) scale(0.740,1)" font-size="5.2" fill="#7a0a0a" stroke="#7a0a0a" stroke-width="0.08" text-anchor="middle" font-family='"Liberation Serif", serif'>CUL3</text>
<text transform="translate(313.80,914.60) scale(0.740,1)" font-size="5.2" fill="#1e1e1e" stroke="#1e1e1e" stroke-width="0.08" text-anchor="middle" font-family='"Liberation Serif", serif'>BUL1</text>
<text transform="translate(335.80,913.00) scale(0.740,1)" font-size="5.2" fill="#1e1e1e" stroke="#1e1e1e" stroke-width="0.08" text-anchor="middle" font-family='"Liberation Serif", serif'>RPA2</text>
<text transform="translate(205.00,916.50) scale(0.740,1)" font-size="5.2" fill="#1e1e1e" stroke="#1e1e1e" stroke-width="0.08" text-anchor="middle" font-family='"Liberation Serif", serif'>CRK</text>
<text transform="translate(245.40,917.00) scale(0.740,1)" font-size="5.2" fill="#1e1e1e" stroke="#1e1e1e" stroke-width="0.08" text-anchor="middle" font-family='"Liberation Serif", serif'>YWHAZ</text>
<text transform="translate(226.80,920.60) scale(0.740,1)" font-size="5.2" fill="#1e1e1e" stroke="#1e1e1e" stroke-width="0.08" text-anchor="middle" font-family='"Liberation Serif", serif'>ACTBL2</text>
<text transform="translate(305.00,920.70) scale(0.740,1)" font-size="5.2" fill="#1e1e1e" stroke="#1e1e1e" stroke-width="0.08" text-anchor="middle" font-family='"Liberation Serif", serif'>HAVL1</text>
<text transform="translate(284.20,925.60) scale(0.740,1)" font-size="5.2" fill="#1e1e1e" stroke="#1e1e1e" stroke-width="0.08" text-anchor="middle" font-family='"Liberation Serif", serif'>TP53</text>
<text transform="translate(298.40,925.80) scale(0.740,1)" font-size="5.2" fill="#1e1e1e" stroke="#1e1e1e" stroke-width="0.08" text-anchor="middle" font-family='"Liberation Serif", serif'>UBC</text>
<text transform="translate(250.20,929.30) scale(0.740,1)" font-size="5.2" fill="#1e1e1e" stroke="#1e1e1e" stroke-width="0.08" text-anchor="middle" font-family='"Liberation Serif", serif'>FXR2</text>
<text transform="translate(214.60,935.00) scale(0.740,1)" font-size="5.2" fill="#7a0a0a" stroke="#7a0a0a" stroke-width="0.08" text-anchor="middle" font-family='"Liberation Serif", serif'>VEGFA</text>
<text transform="translate(324.20,928.50) scale(0.740,1)" font-size="5.2" fill="#137a18" stroke="#137a18" stroke-width="0.08" text-anchor="middle" font-family='"Liberation Serif", serif'>KRAS</text>
<text transform="translate(259.20,946.50) scale(0.740,1)" font-size="5.2" fill="#1e1e1e" stroke="#1e1e1e" stroke-width="0.08" text-anchor="middle" font-family='"Liberation Serif", serif'>BRCA1</text>
<text transform="translate(275.50,943.60) scale(0.740,1)" font-size="5.2" fill="#1e1e1e" stroke="#1e1e1e" stroke-width="0.08" text-anchor="middle" font-family='"Liberation Serif", serif'>VHL</text>
<text transform="translate(300.00,943.20) scale(0.740,1)" font-size="5.2" fill="#1e1e1e" stroke="#1e1e1e" stroke-width="0.08" text-anchor="middle" font-family='"Liberation Serif", serif'>MAPRE1</text>
<text transform="translate(288.60,956.40) scale(0.740,1)" font-size="5.2" fill="#1e1e1e" stroke="#1e1e1e" stroke-width="0.08" text-anchor="middle" font-family='"Liberation Serif", serif'>RB1</text>
<text transform="translate(245.00,957.60) scale(0.740,1)" font-size="5.2" fill="#1e1e1e" stroke="#1e1e1e" stroke-width="0.08" text-anchor="middle" font-family='"Liberation Serif", serif'>UBE2N</text>
<text transform="translate(178.60,944.10) scale(0.740,1)" font-size="5.2" fill="#7a0a0a" stroke="#7a0a0a" stroke-width="0.08" text-anchor="middle" font-family='"Liberation Serif", serif'>IL1B</text>
<text transform="translate(211.50,959.60) scale(0.740,1)" font-size="5.2" fill="#137a18" stroke="#137a18" stroke-width="0.08" text-anchor="middle" font-family='"Liberation Serif", serif'>MYLIP</text>
<text transform="translate(229.40,974.70) scale(0.740,1)" font-size="5.2" fill="#1e1e1e" stroke="#1e1e1e" stroke-width="0.08" text-anchor="middle" font-family='"Liberation Serif", serif'>SP1</text>
<text transform="translate(271.80,974.90) scale(0.740,1)" font-size="5.2" fill="#1e1e1e" stroke="#1e1e1e" stroke-width="0.08" text-anchor="middle" font-family='"Liberation Serif", serif'>E2F1</text>
<text transform="translate(292.20,978.60) scale(0.740,1)" font-size="5.2" fill="#1e1e1e" stroke="#1e1e1e" stroke-width="0.08" text-anchor="middle" font-family='"Liberation Serif", serif'>UBE2D1</text>
<text transform="translate(314.00,974.00) scale(0.740,1)" font-size="5.2" fill="#1e1e1e" stroke="#1e1e1e" stroke-width="0.08" text-anchor="middle" font-family='"Liberation Serif", serif'>RBBP4</text>
<text transform="translate(135.80,900.30) scale(0.740,1)" font-size="5.2" fill="#1e1e1e" stroke="#1e1e1e" stroke-width="0.08" text-anchor="middle" font-family='"Liberation Serif", serif'>FYN</text>
<text transform="translate(165.50,903.60) scale(0.740,1)" font-size="5.2" fill="#1e1e1e" stroke="#1e1e1e" stroke-width="0.08" text-anchor="middle" font-family='"Liberation Serif", serif'>KDR</text>
<text transform="translate(382.70,829.50) scale(0.740,1)" font-size="5.2" fill="#1e1e1e" stroke="#1e1e1e" stroke-width="0.08" text-anchor="middle" font-family='"Liberation Serif", serif'>NRG1</text>
<text transform="translate(357.80,846.60) scale(0.740,1)" font-size="5.2" fill="#1e1e1e" stroke="#1e1e1e" stroke-width="0.08" text-anchor="middle" font-family='"Liberation Serif", serif'>MAP3K7</text>
<text transform="translate(385.50,855.10) scale(0.740,1)" font-size="5.2" fill="#1e1e1e" stroke="#1e1e1e" stroke-width="0.08" text-anchor="middle" font-family='"Liberation Serif", serif'>HIP1R</text>
<text transform="translate(366.30,861.30) scale(0.740,1)" font-size="5.2" fill="#1e1e1e" stroke="#1e1e1e" stroke-width="0.08" text-anchor="middle" font-family='"Liberation Serif", serif'>LDB4</text>
<text transform="translate(404.10,869.10) scale(0.696,1)" font-size="5.2" fill="#7a0a0a" stroke="#7a0a0a" stroke-width="0.08" text-anchor="middle" font-family='"Liberation Serif", serif'>HLA-DPB1</text>
<text transform="translate(450.80,861.10) scale(0.740,1)" font-size="5.2" fill="#1e1e1e" stroke="#1e1e1e" stroke-width="0.08" text-anchor="middle" font-family='"Liberation Serif", serif'>GLAD1</text>
<text transform="translate(425.30,889.10) scale(0.740,1)" font-size="5.2" fill="#137a18" stroke="#137a18" stroke-width="0.08" text-anchor="middle" font-family='"Liberation Serif", serif'>CD70</text>
<text transform="translate(388.00,891.80) scale(0.740,1)" font-size="5.2" fill="#1e1e1e" stroke="#1e1e1e" stroke-width="0.08" text-anchor="middle" font-family='"Liberation Serif", serif'>PDS5A</text>
<text transform="translate(433.30,908.00) scale(0.740,1)" font-size="5.2" fill="#1e1e1e" stroke="#1e1e1e" stroke-width="0.08" text-anchor="middle" font-family='"Liberation Serif", serif'>RUFY1</text>
<text transform="translate(408.20,914.60) scale(0.740,1)" font-size="5.2" fill="#1e1e1e" stroke="#1e1e1e" stroke-width="0.08" text-anchor="middle" font-family='"Liberation Serif", serif'>ORC1</text>
<text transform="translate(359.40,921.00) scale(0.740,1)" font-size="5.2" fill="#1e1e1e" stroke="#1e1e1e" stroke-width="0.08" text-anchor="middle" font-family='"Liberation Serif", serif'>RANBP9</text>
<text transform="translate(368.10,935.60) scale(0.740,1)" font-size="5.2" fill="#1e1e1e" stroke="#1e1e1e" stroke-width="0.08" text-anchor="middle" font-family='"Liberation Serif", serif'>ETS4</text>
<text transform="translate(413.20,936.70) scale(0.740,1)" font-size="5.2" fill="#1e1e1e" stroke="#1e1e1e" stroke-width="0.08" text-anchor="middle" font-family='"Liberation Serif", serif'>NCAM1</text>
<text transform="translate(347.50,943.50) scale(0.740,1)" font-size="5.2" fill="#1e1e1e" stroke="#1e1e1e" stroke-width="0.08" text-anchor="middle" font-family='"Liberation Serif", serif'>ATM</text>
<text transform="translate(428.90,950.20) scale(0.740,1)" font-size="5.2" fill="#1e1e1e" stroke="#1e1e1e" stroke-width="0.08" text-anchor="middle" font-family='"Liberation Serif", serif'>NUB1</text>
<text transform="translate(348.20,974.70) scale(0.740,1)" font-size="5.2" fill="#137a18" stroke="#137a18" stroke-width="0.08" text-anchor="middle" font-family='"Liberation Serif", serif'>FZR1</text>
<text transform="translate(372.70,983.40) scale(0.740,1)" font-size="5.2" fill="#137a18" stroke="#137a18" stroke-width="0.08" text-anchor="middle" font-family='"Liberation Serif", serif'>KLHL11</text>
<text transform="translate(442.50,976.20) scale(0.740,1)" font-size="5.2" fill="#1e1e1e" stroke="#1e1e1e" stroke-width="0.08" text-anchor="middle" font-family='"Liberation Serif", serif'>CDC6</text>
<text transform="translate(426.60,1007.00) scale(0.740,1)" font-size="5.2" fill="#1e1e1e" stroke="#1e1e1e" stroke-width="0.08" text-anchor="middle" font-family='"Liberation Serif", serif'>SIRT2</text>
<rect x="0.00" y="0.00" width="520.00" height="1.70" fill="#000" />
<rect x="0.00" y="0.00" width="1.50" height="1027.00" fill="#000" />
<rect x="517.70" y="0.00" width="2.30" height="1027.00" fill="#000" />
<rect x="0.00" y="1024.70" width="520.00" height="2.30" fill="#000" />
</svg>
</body></html>
